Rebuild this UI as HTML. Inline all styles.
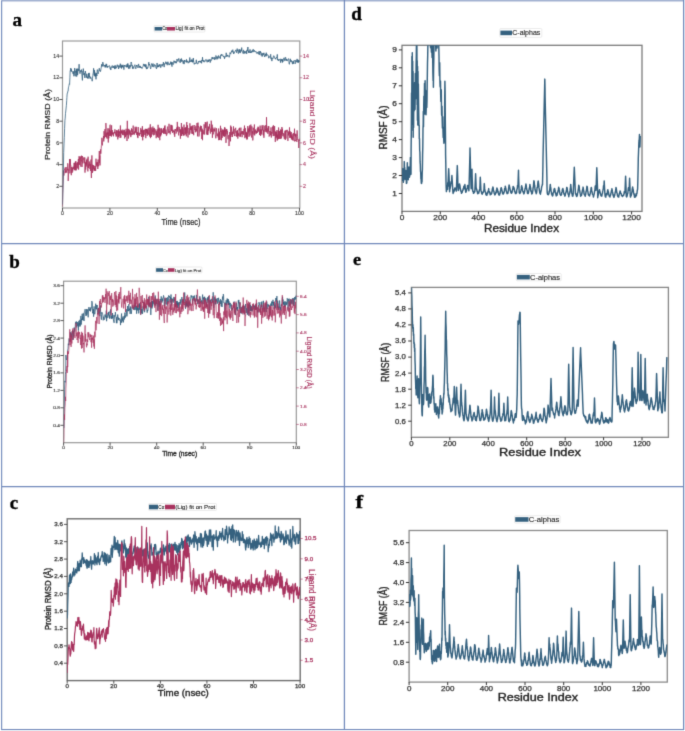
<!DOCTYPE html>
<html><head><meta charset="utf-8"><title>Figure</title>
<style>html,body{margin:0;padding:0;background:#fff;width:685px;height:731px;overflow:hidden}svg{display:block}</style>
</head><body><svg width="685" height="731" viewBox="0 0 685 731"><defs><filter id="bl" x="0" y="0" width="1" height="1" color-interpolation-filters="sRGB"><feConvolveMatrix order="3" kernelMatrix="1 6 1 6 36 6 1 6 1" divisor="64" edgeMode="duplicate"/></filter></defs><g filter="url(#bl)"><rect x="0" y="0" width="685" height="731" fill="#fff"/>
<g transform="translate(12.5 26) scale(1 1)">
<text x="0" y="0" font-size="19" text-anchor="start" fill="#000" font-weight="bold" font-family='"Liberation Serif", serif' stroke="#000" stroke-width="0.35">a</text>
</g>
<g transform="translate(9.2 267.8) scale(1 1)">
<text x="0" y="0" font-size="19" text-anchor="start" fill="#000" font-weight="bold" font-family='"Liberation Serif", serif' stroke="#000" stroke-width="0.35">b</text>
</g>
<g transform="translate(9.7 508.5) scale(1 1)">
<text x="0" y="0" font-size="19" text-anchor="start" fill="#000" font-weight="bold" font-family='"Liberation Serif", serif' stroke="#000" stroke-width="0.35">c</text>
</g>
<g transform="translate(351.3 19.9) scale(1 1)">
<text x="0" y="0" font-size="19" text-anchor="start" fill="#000" font-weight="bold" font-family='"Liberation Serif", serif' stroke="#000" stroke-width="0.35">d</text>
</g>
<g transform="translate(352.9 265.0) scale(1.05 1)">
<text x="0" y="0" font-size="17.3" text-anchor="start" fill="#000" font-weight="bold" font-family='"Liberation Serif", serif' stroke="#000" stroke-width="0.35">e</text>
</g>
<g transform="translate(355.6 508.2) scale(1.2 1)">
<text x="0" y="0" font-size="19" text-anchor="start" fill="#000" font-weight="bold" font-family='"Liberation Serif", serif' stroke="#000" stroke-width="0.35">f</text>
</g>
<clipPath id="ca"><rect x="62.5" y="41" width="237.3" height="167"/></clipPath>
<rect x="62.5" y="41" width="237.3" height="167" fill="none" stroke="#979797" stroke-width="1.15"/>
<path d="M62.5 206.5 L62.7 193.5 L63.0 184.8 L63.2 181.2 L63.4 170.7 L63.7 171.9 L63.9 175.5 L64.2 169.8 L64.4 170.0 L64.6 169.5 L64.9 169.9 L65.1 167.5 L65.3 173.1 L65.6 170.5 L65.8 171.8 L66.1 167.0 L66.3 169.4 L66.5 170.7 L66.8 172.8 L67.0 170.4 L67.2 169.2 L67.5 170.3 L67.7 163.3 L68.0 164.5 L68.2 180.9 L68.4 177.2 L68.7 169.5 L68.9 170.5 L69.1 167.6 L69.4 167.5 L69.6 159.0 L69.9 173.3 L70.1 169.9 L70.3 159.1 L70.6 165.2 L70.8 165.0 L71.0 170.2 L71.3 175.2 L71.5 167.0 L71.8 167.2 L72.0 173.0 L72.2 170.5 L72.5 167.7 L72.7 171.5 L72.9 167.7 L73.2 166.7 L73.4 166.9 L73.7 169.3 L73.9 164.3 L74.1 162.9 L74.4 165.3 L74.6 170.2 L74.8 163.0 L75.1 168.2 L75.3 161.8 L75.5 170.3 L75.8 161.1 L76.0 165.1 L76.3 170.3 L76.5 165.9 L76.7 164.0 L77.0 162.7 L77.2 168.1 L77.4 168.4 L77.7 162.3 L77.9 165.1 L78.2 161.6 L78.4 159.0 L78.6 169.6 L78.9 160.8 L79.1 156.2 L79.3 162.8 L79.6 164.8 L79.8 157.5 L80.1 159.5 L80.3 156.4 L80.5 161.7 L80.8 166.6 L81.0 160.2 L81.2 161.4 L81.5 155.7 L81.7 158.5 L82.0 167.0 L82.2 165.2 L82.4 156.1 L82.7 157.2 L82.9 163.4 L83.1 160.7 L83.4 158.9 L83.6 159.0 L83.9 157.4 L84.1 160.4 L84.3 162.2 L84.6 163.2 L84.8 157.5 L85.0 172.6 L85.3 163.3 L85.5 162.7 L85.7 169.6 L86.0 161.8 L86.2 166.5 L86.5 159.8 L86.7 164.4 L86.9 160.9 L87.2 158.6 L87.4 162.5 L87.6 168.4 L87.9 171.4 L88.1 156.7 L88.4 165.3 L88.6 168.1 L88.8 164.5 L89.1 166.1 L89.3 161.5 L89.5 165.4 L89.8 165.6 L90.0 169.1 L90.3 163.8 L90.5 170.9 L90.7 163.2 L91.0 159.5 L91.2 173.5 L91.4 178.0 L91.7 164.0 L91.9 155.4 L92.2 171.7 L92.4 173.0 L92.6 164.7 L92.9 171.4 L93.1 170.0 L93.3 169.4 L93.6 165.2 L93.8 169.2 L94.1 165.9 L94.3 167.8 L94.5 170.6 L94.8 168.0 L95.0 170.7 L95.2 166.1 L95.5 171.0 L95.7 170.7 L96.0 158.7 L96.2 165.5 L96.4 165.3 L96.7 162.4 L96.9 166.5 L97.1 165.4 L97.4 162.2 L97.6 162.6 L97.8 169.0 L98.1 159.5 L98.3 165.1 L98.6 166.3 L98.8 164.6 L99.0 161.3 L99.3 151.0 L99.5 162.9 L99.7 155.8 L100.0 165.4 L100.2 154.6 L100.5 149.4 L100.7 153.3 L100.9 153.7 L101.2 148.6 L101.4 145.4 L101.6 144.3 L101.9 137.8 L102.1 143.6 L102.4 145.4 L102.6 142.3 L102.8 140.8 L103.1 138.8 L103.3 138.0 L103.5 136.0 L103.8 141.4 L104.0 131.2 L104.3 136.2 L104.5 138.3 L104.7 131.6 L105.0 129.1 L105.2 132.0 L105.4 133.1 L105.7 137.0 L105.9 123.1 L106.2 130.2 L106.4 137.5 L106.6 136.1 L106.9 132.8 L107.1 138.7 L107.3 132.4 L107.6 134.6 L107.8 128.4 L108.0 129.2 L108.3 142.5 L108.5 132.4 L108.8 138.3 L109.0 128.4 L109.2 131.7 L109.5 130.2 L109.7 136.0 L109.9 125.4 L110.2 124.7 L110.4 135.9 L110.7 130.7 L110.9 134.5 L111.1 132.1 L111.4 136.6 L111.6 125.3 L111.8 135.6 L112.1 133.1 L112.3 130.2 L112.6 134.4 L112.8 132.9 L113.0 134.1 L113.3 132.5 L113.5 136.3 L113.7 133.6 L114.0 132.8 L114.2 133.3 L114.5 131.8 L114.7 133.1 L114.9 129.3 L115.2 133.2 L115.4 132.5 L115.6 134.5 L115.9 134.0 L116.1 136.6 L116.4 130.2 L116.6 136.2 L116.8 134.8 L117.1 130.7 L117.3 130.6 L117.5 133.5 L117.8 139.4 L118.0 130.5 L118.3 131.1 L118.5 137.2 L118.7 129.3 L119.0 134.6 L119.2 136.1 L119.4 131.7 L119.7 132.7 L119.9 131.3 L120.1 137.9 L120.4 125.5 L120.6 134.2 L120.9 137.6 L121.1 129.8 L121.3 133.3 L121.6 130.9 L121.8 133.3 L122.0 132.3 L122.3 131.2 L122.5 134.8 L122.8 129.6 L123.0 133.8 L123.2 135.2 L123.5 131.8 L123.7 130.4 L123.9 132.9 L124.2 135.2 L124.4 129.8 L124.7 138.4 L124.9 135.8 L125.1 131.9 L125.4 137.0 L125.6 131.9 L125.8 132.2 L126.1 128.8 L126.3 135.4 L126.6 134.3 L126.8 130.8 L127.0 141.0 L127.3 120.8 L127.5 134.6 L127.7 134.7 L128.0 128.9 L128.2 132.2 L128.5 138.5 L128.7 129.8 L128.9 128.9 L129.2 133.7 L129.4 133.1 L129.6 130.3 L129.9 135.3 L130.1 130.5 L130.3 131.3 L130.6 134.5 L130.8 137.1 L131.1 132.9 L131.3 135.2 L131.5 128.4 L131.8 131.5 L132.0 129.2 L132.2 131.6 L132.5 131.1 L132.7 134.9 L133.0 129.6 L133.2 125.6 L133.4 133.2 L133.7 134.2 L133.9 132.6 L134.1 133.8 L134.4 134.6 L134.6 131.5 L134.9 133.1 L135.1 126.8 L135.3 132.0 L135.6 130.9 L135.8 128.6 L136.0 133.1 L136.3 126.8 L136.5 134.3 L136.8 135.0 L137.0 133.4 L137.2 132.5 L137.5 137.1 L137.7 132.2 L137.9 138.1 L138.2 127.0 L138.4 132.3 L138.7 134.4 L138.9 135.3 L139.1 133.4 L139.4 132.9 L139.6 135.8 L139.8 135.4 L140.1 132.7 L140.3 133.9 L140.6 128.6 L140.8 127.9 L141.0 132.0 L141.3 130.3 L141.5 136.9 L141.7 129.7 L142.0 132.2 L142.2 130.3 L142.4 126.2 L142.7 140.3 L142.9 131.1 L143.2 136.0 L143.4 129.9 L143.6 136.8 L143.9 133.8 L144.1 131.3 L144.3 129.8 L144.6 131.8 L144.8 134.9 L145.1 134.1 L145.3 128.8 L145.5 132.1 L145.8 138.2 L146.0 129.0 L146.2 130.5 L146.5 128.9 L146.7 133.3 L147.0 129.0 L147.2 135.9 L147.4 130.0 L147.7 133.8 L147.9 129.6 L148.1 128.4 L148.4 134.7 L148.6 132.2 L148.9 131.9 L149.1 127.7 L149.3 129.5 L149.6 136.5 L149.8 130.4 L150.0 129.3 L150.3 124.3 L150.5 138.1 L150.8 134.0 L151.0 127.2 L151.2 137.0 L151.5 136.4 L151.7 130.2 L151.9 128.4 L152.2 134.5 L152.4 130.1 L152.7 131.6 L152.9 126.5 L153.1 132.1 L153.4 128.5 L153.6 135.3 L153.8 132.7 L154.1 132.4 L154.3 127.9 L154.5 129.9 L154.8 134.8 L155.0 129.6 L155.3 129.3 L155.5 132.5 L155.7 133.0 L156.0 132.8 L156.2 138.2 L156.4 131.4 L156.7 131.2 L156.9 135.2 L157.2 129.4 L157.4 137.0 L157.6 134.0 L157.9 133.7 L158.1 124.8 L158.3 137.8 L158.6 129.9 L158.8 128.6 L159.1 130.6 L159.3 127.7 L159.5 135.6 L159.8 140.2 L160.0 129.1 L160.2 136.3 L160.5 133.1 L160.7 136.2 L161.0 128.1 L161.2 128.7 L161.4 134.5 L161.7 128.6 L161.9 131.4 L162.1 132.3 L162.4 131.6 L162.6 132.5 L162.9 129.6 L163.1 130.7 L163.3 133.0 L163.6 128.1 L163.8 134.0 L164.0 130.7 L164.3 130.2 L164.5 126.4 L164.7 133.5 L165.0 125.4 L165.2 131.0 L165.5 132.4 L165.7 134.1 L165.9 129.5 L166.2 131.5 L166.4 135.6 L166.6 135.7 L166.9 133.6 L167.1 134.1 L167.4 127.6 L167.6 126.6 L167.8 128.4 L168.1 130.3 L168.3 133.1 L168.5 131.3 L168.8 128.3 L169.0 123.8 L169.3 128.2 L169.5 132.5 L169.7 131.3 L170.0 133.2 L170.2 134.3 L170.4 132.1 L170.7 130.7 L170.9 124.8 L171.2 131.2 L171.4 126.5 L171.6 125.0 L171.9 131.1 L172.1 125.5 L172.3 128.8 L172.6 132.9 L172.8 130.4 L173.1 131.2 L173.3 132.2 L173.5 132.0 L173.8 130.8 L174.0 129.7 L174.2 134.5 L174.5 131.3 L174.7 136.8 L175.0 130.3 L175.2 129.0 L175.4 130.6 L175.7 130.2 L175.9 129.1 L176.1 133.6 L176.4 132.0 L176.6 129.3 L176.8 127.5 L177.1 129.7 L177.3 121.9 L177.6 131.5 L177.8 127.5 L178.0 126.5 L178.3 131.6 L178.5 134.1 L178.7 135.4 L179.0 130.5 L179.2 127.0 L179.5 130.0 L179.7 130.4 L179.9 132.4 L180.2 129.0 L180.4 138.7 L180.6 130.1 L180.9 130.9 L181.1 135.9 L181.4 123.0 L181.6 135.9 L181.8 134.8 L182.1 135.2 L182.3 126.8 L182.5 134.0 L182.8 128.4 L183.0 128.6 L183.3 129.8 L183.5 135.5 L183.7 132.9 L184.0 124.6 L184.2 135.4 L184.4 133.7 L184.7 131.2 L184.9 127.7 L185.2 129.7 L185.4 127.9 L185.6 134.4 L185.9 127.1 L186.1 128.4 L186.3 136.3 L186.6 124.9 L186.8 122.1 L187.0 133.2 L187.3 130.2 L187.5 125.3 L187.8 135.7 L188.0 137.5 L188.2 135.0 L188.5 132.3 L188.7 132.4 L188.9 128.0 L189.2 129.2 L189.4 134.7 L189.7 128.1 L189.9 123.3 L190.1 125.8 L190.4 126.5 L190.6 130.0 L190.8 126.5 L191.1 133.5 L191.3 127.3 L191.6 130.3 L191.8 125.9 L192.0 128.3 L192.3 133.9 L192.5 129.4 L192.7 125.5 L193.0 134.0 L193.2 131.9 L193.5 132.6 L193.7 135.2 L193.9 126.3 L194.2 125.0 L194.4 126.8 L194.6 128.8 L194.9 129.9 L195.1 128.8 L195.4 132.3 L195.6 126.4 L195.8 125.8 L196.1 126.2 L196.3 131.5 L196.5 129.3 L196.8 130.1 L197.0 123.0 L197.3 128.8 L197.5 136.3 L197.7 128.0 L198.0 122.6 L198.2 126.9 L198.4 126.2 L198.7 129.2 L198.9 136.5 L199.1 135.9 L199.4 133.8 L199.6 129.7 L199.9 128.1 L200.1 126.7 L200.3 130.4 L200.6 125.7 L200.8 130.2 L201.0 131.7 L201.3 126.0 L201.5 132.4 L201.8 139.0 L202.0 132.9 L202.2 128.7 L202.5 140.2 L202.7 130.3 L202.9 130.2 L203.2 134.1 L203.4 134.3 L203.7 130.6 L203.9 130.9 L204.1 124.3 L204.4 127.5 L204.6 134.5 L204.8 131.9 L205.1 126.3 L205.3 122.1 L205.6 127.6 L205.8 128.0 L206.0 122.4 L206.3 129.3 L206.5 130.4 L206.7 134.5 L207.0 131.3 L207.2 121.6 L207.5 134.7 L207.7 129.6 L207.9 134.8 L208.2 129.3 L208.4 126.6 L208.6 130.8 L208.9 127.3 L209.1 127.4 L209.3 128.4 L209.6 123.9 L209.8 127.4 L210.1 131.4 L210.3 132.8 L210.5 133.5 L210.8 128.7 L211.0 131.7 L211.2 120.7 L211.5 124.0 L211.7 131.5 L212.0 132.0 L212.2 124.7 L212.4 137.8 L212.7 132.6 L212.9 127.6 L213.1 134.4 L213.4 132.9 L213.6 132.5 L213.9 128.9 L214.1 130.9 L214.3 130.0 L214.6 129.3 L214.8 131.5 L215.0 127.6 L215.3 134.3 L215.5 137.0 L215.8 138.3 L216.0 137.8 L216.2 134.0 L216.5 128.3 L216.7 131.4 L216.9 134.3 L217.2 136.0 L217.4 134.0 L217.7 133.6 L217.9 134.2 L218.1 137.4 L218.4 133.9 L218.6 128.5 L218.8 140.2 L219.1 133.2 L219.3 140.0 L219.6 131.7 L219.8 135.1 L220.0 139.9 L220.3 132.0 L220.5 125.8 L220.7 132.0 L221.0 128.2 L221.2 132.7 L221.4 140.3 L221.7 130.7 L221.9 134.1 L222.2 137.9 L222.4 129.7 L222.6 131.6 L222.9 134.5 L223.1 129.5 L223.3 135.8 L223.6 130.4 L223.8 136.1 L224.1 130.8 L224.3 136.8 L224.5 127.4 L224.8 131.9 L225.0 127.6 L225.2 135.8 L225.5 134.6 L225.7 129.8 L226.0 142.9 L226.2 136.8 L226.4 129.2 L226.7 131.3 L226.9 129.4 L227.1 134.1 L227.4 131.0 L227.6 135.7 L227.9 138.1 L228.1 139.3 L228.3 135.1 L228.6 135.1 L228.8 135.4 L229.0 146.0 L229.3 140.3 L229.5 135.0 L229.8 132.0 L230.0 135.1 L230.2 136.2 L230.5 141.3 L230.7 125.6 L230.9 136.9 L231.2 126.8 L231.4 127.2 L231.7 131.8 L231.9 134.9 L232.1 132.3 L232.4 137.0 L232.6 131.8 L232.8 132.7 L233.1 130.8 L233.3 129.2 L233.5 126.4 L233.8 134.1 L234.0 128.8 L234.3 135.5 L234.5 135.8 L234.7 134.8 L235.0 136.1 L235.2 129.0 L235.4 129.1 L235.7 127.8 L235.9 132.5 L236.2 131.4 L236.4 134.5 L236.6 136.6 L236.9 130.7 L237.1 131.4 L237.3 136.3 L237.6 130.2 L237.8 138.6 L238.1 132.9 L238.3 134.5 L238.5 134.1 L238.8 136.1 L239.0 128.7 L239.2 130.1 L239.5 127.8 L239.7 131.6 L240.0 136.8 L240.2 133.4 L240.4 136.4 L240.7 130.4 L240.9 127.6 L241.1 130.8 L241.4 134.2 L241.6 133.3 L241.9 131.2 L242.1 137.2 L242.3 131.4 L242.6 131.2 L242.8 133.9 L243.0 133.4 L243.3 131.2 L243.5 134.8 L243.7 134.8 L244.0 128.9 L244.2 130.9 L244.5 125.6 L244.7 135.3 L244.9 138.2 L245.2 128.3 L245.4 128.2 L245.6 134.3 L245.9 137.0 L246.1 131.8 L246.4 137.9 L246.6 132.8 L246.8 139.5 L247.1 132.4 L247.3 139.2 L247.5 132.4 L247.8 126.0 L248.0 132.4 L248.3 128.6 L248.5 133.8 L248.7 134.6 L249.0 136.8 L249.2 127.6 L249.4 131.6 L249.7 125.4 L249.9 135.6 L250.2 132.1 L250.4 131.0 L250.6 126.1 L250.9 124.6 L251.1 133.6 L251.3 135.3 L251.6 137.5 L251.8 126.3 L252.1 131.5 L252.3 133.5 L252.5 131.3 L252.8 140.4 L253.0 137.3 L253.2 127.7 L253.5 129.6 L253.7 130.5 L254.0 134.6 L254.2 128.8 L254.4 124.5 L254.7 135.4 L254.9 130.8 L255.1 132.5 L255.4 129.5 L255.6 130.8 L255.8 131.4 L256.1 134.0 L256.3 130.8 L256.6 133.0 L256.8 131.3 L257.0 130.9 L257.3 128.3 L257.5 132.8 L257.7 131.8 L258.0 126.7 L258.2 131.4 L258.5 131.5 L258.7 127.4 L258.9 129.5 L259.2 130.2 L259.4 129.7 L259.6 135.0 L259.9 128.8 L260.1 125.6 L260.4 128.3 L260.6 136.0 L260.8 129.3 L261.1 133.6 L261.3 131.1 L261.5 129.8 L261.8 134.6 L262.0 125.4 L262.3 130.4 L262.5 127.3 L262.7 127.8 L263.0 125.2 L263.2 125.8 L263.4 135.4 L263.7 129.9 L263.9 137.8 L264.2 131.7 L264.4 127.6 L264.6 126.9 L264.9 125.7 L265.1 131.8 L265.3 129.4 L265.6 130.2 L265.8 126.1 L266.0 125.0 L266.3 132.2 L266.5 117.2 L266.8 131.0 L267.0 132.4 L267.2 129.0 L267.5 128.5 L267.7 129.4 L267.9 133.8 L268.2 126.2 L268.4 131.4 L268.7 126.1 L268.9 126.7 L269.1 136.5 L269.4 135.5 L269.6 135.7 L269.8 131.2 L270.1 132.0 L270.3 131.3 L270.6 135.3 L270.8 130.9 L271.0 127.4 L271.3 137.5 L271.5 133.4 L271.7 131.9 L272.0 133.4 L272.2 133.7 L272.5 126.6 L272.7 128.5 L272.9 130.1 L273.2 136.1 L273.4 125.3 L273.6 132.2 L273.9 135.7 L274.1 134.9 L274.4 135.5 L274.6 126.1 L274.8 133.2 L275.1 133.8 L275.3 141.9 L275.5 131.5 L275.8 138.1 L276.0 138.3 L276.3 132.0 L276.5 137.3 L276.7 131.1 L277.0 130.1 L277.2 140.6 L277.4 134.6 L277.7 139.8 L277.9 134.3 L278.1 130.7 L278.4 139.0 L278.6 127.5 L278.9 135.1 L279.1 138.3 L279.3 134.4 L279.6 131.1 L279.8 138.9 L280.0 133.9 L280.3 138.9 L280.5 129.5 L280.8 133.3 L281.0 135.4 L281.2 130.0 L281.5 138.4 L281.7 135.2 L281.9 127.0 L282.2 134.2 L282.4 128.8 L282.7 133.0 L282.9 136.2 L283.1 134.5 L283.4 133.3 L283.6 135.1 L283.8 136.6 L284.1 136.4 L284.3 138.9 L284.6 133.1 L284.8 132.0 L285.0 130.7 L285.3 140.0 L285.5 130.5 L285.7 133.5 L286.0 138.6 L286.2 133.0 L286.5 130.4 L286.7 131.4 L286.9 130.6 L287.2 129.8 L287.4 130.0 L287.6 133.3 L287.9 140.9 L288.1 136.2 L288.3 132.3 L288.6 135.4 L288.8 131.4 L289.1 131.1 L289.3 133.9 L289.5 127.4 L289.8 137.9 L290.0 131.1 L290.2 136.4 L290.5 137.6 L290.7 132.8 L291.0 137.3 L291.2 132.0 L291.4 139.5 L291.7 135.3 L291.9 138.6 L292.1 136.5 L292.4 137.2 L292.6 140.0 L292.9 133.7 L293.1 140.7 L293.3 139.9 L293.6 133.2 L293.8 133.1 L294.0 134.3 L294.3 135.6 L294.5 128.7 L294.8 141.5 L295.0 139.9 L295.2 141.0 L295.5 134.2 L295.7 136.6 L295.9 133.7 L296.2 134.4 L296.4 138.8 L296.7 141.1 L296.9 141.9 L297.1 130.4 L297.4 135.0 L297.6 136.5 L297.8 140.0 L298.1 139.6 L298.3 140.3 L298.6 140.4 L298.8 148.0 L299.0 139.7 L299.3 141.0 L299.5 138.6" fill="none" stroke="#a8325e" stroke-width="0.8" stroke-linejoin="round" clip-path="url(#ca)"/>
<path d="M62.5 204.5 L62.8 192.5 L63.1 179.8 L63.4 169.3 L63.7 152.6 L64.0 143.9 L64.3 137.3 L64.6 128.3 L64.9 120.5 L65.2 118.2 L65.5 113.3 L65.8 111.0 L66.1 108.0 L66.4 105.3 L66.7 100.6 L66.9 97.5 L67.2 93.3 L67.5 93.3 L67.8 91.3 L68.1 91.2 L68.4 87.8 L68.7 86.7 L69.0 85.3 L69.3 83.8 L69.6 84.3 L69.9 77.7 L70.2 70.5 L70.5 70.7 L70.8 68.0 L71.1 71.3 L71.4 69.3 L71.7 71.7 L72.0 71.3 L72.3 71.3 L72.6 72.7 L72.9 72.9 L73.2 74.1 L73.5 71.4 L73.8 76.2 L74.1 75.6 L74.4 73.3 L74.7 68.1 L75.0 73.8 L75.3 76.3 L75.6 75.5 L75.8 70.8 L76.1 72.7 L76.4 68.8 L76.7 76.6 L77.0 70.4 L77.3 68.7 L77.6 75.1 L77.9 72.6 L78.2 68.7 L78.5 70.7 L78.8 68.7 L79.1 64.2 L79.4 68.7 L79.7 71.6 L80.0 73.7 L80.3 70.4 L80.6 71.7 L80.9 72.0 L81.2 71.8 L81.5 69.6 L81.8 74.0 L82.1 76.8 L82.4 80.4 L82.7 71.5 L83.0 72.2 L83.3 68.6 L83.6 71.9 L83.9 75.1 L84.2 72.9 L84.4 74.0 L84.7 77.7 L85.0 78.0 L85.3 71.0 L85.6 73.0 L85.9 73.6 L86.2 75.9 L86.5 77.6 L86.8 73.9 L87.1 75.6 L87.4 77.9 L87.7 76.9 L88.0 78.8 L88.3 76.4 L88.6 73.2 L88.9 77.6 L89.2 72.9 L89.5 77.1 L89.8 76.3 L90.1 78.7 L90.4 77.8 L90.7 76.9 L91.0 77.9 L91.3 78.8 L91.6 78.9 L91.9 79.2 L92.2 81.2 L92.5 78.2 L92.8 75.5 L93.1 73.2 L93.3 73.1 L93.6 68.3 L93.9 72.3 L94.2 75.5 L94.5 70.2 L94.8 76.2 L95.1 72.7 L95.4 76.5 L95.7 74.1 L96.0 79.3 L96.3 73.1 L96.6 73.9 L96.9 76.0 L97.2 69.6 L97.5 69.8 L97.8 71.6 L98.1 73.9 L98.4 72.4 L98.7 71.9 L99.0 69.3 L99.3 68.2 L99.6 70.7 L99.9 70.8 L100.2 70.5 L100.5 71.6 L100.8 70.0 L101.1 68.3 L101.4 66.1 L101.7 64.2 L102.0 66.7 L102.2 65.0 L102.5 65.6 L102.8 62.1 L103.1 64.2 L103.4 64.1 L103.7 66.1 L104.0 66.5 L104.3 65.4 L104.6 65.9 L104.9 65.1 L105.2 67.5 L105.5 65.3 L105.8 66.8 L106.1 63.8 L106.4 65.7 L106.7 64.4 L107.0 67.5 L107.3 66.0 L107.6 67.4 L107.9 67.3 L108.2 66.7 L108.5 67.0 L108.8 66.4 L109.1 65.6 L109.4 65.6 L109.7 66.6 L110.0 68.7 L110.3 68.5 L110.6 67.7 L110.8 70.0 L111.1 66.8 L111.4 67.2 L111.7 67.3 L112.0 65.7 L112.3 65.6 L112.6 66.2 L112.9 68.0 L113.2 66.7 L113.5 66.3 L113.8 67.8 L114.1 65.7 L114.4 65.7 L114.7 69.1 L115.0 67.3 L115.3 68.6 L115.6 65.7 L115.9 65.3 L116.2 67.7 L116.5 68.2 L116.8 67.0 L117.1 67.0 L117.4 64.7 L117.7 65.0 L118.0 66.5 L118.3 65.8 L118.6 69.0 L118.9 66.9 L119.2 65.5 L119.5 66.4 L119.7 67.4 L120.0 66.0 L120.3 63.7 L120.6 65.3 L120.9 67.6 L121.2 64.8 L121.5 68.5 L121.8 66.3 L122.1 67.2 L122.4 65.4 L122.7 67.2 L123.0 64.8 L123.3 65.5 L123.6 68.4 L123.9 69.6 L124.2 67.7 L124.5 65.0 L124.8 65.7 L125.1 66.0 L125.4 66.5 L125.7 65.3 L126.0 65.4 L126.3 65.6 L126.6 67.3 L126.9 64.9 L127.2 64.0 L127.5 67.2 L127.8 63.4 L128.1 64.3 L128.3 66.2 L128.6 68.7 L128.9 66.0 L129.2 65.3 L129.5 66.6 L129.8 68.6 L130.1 65.3 L130.4 66.6 L130.7 66.8 L131.0 62.4 L131.3 62.0 L131.6 63.5 L131.9 65.8 L132.2 65.0 L132.5 68.7 L132.8 66.6 L133.1 67.1 L133.4 68.0 L133.7 68.6 L134.0 66.0 L134.3 65.8 L134.6 65.6 L134.9 64.7 L135.2 66.6 L135.5 67.8 L135.8 68.8 L136.1 67.2 L136.4 65.2 L136.7 65.9 L137.0 65.0 L137.2 67.2 L137.5 66.9 L137.8 67.2 L138.1 67.9 L138.4 64.0 L138.7 64.2 L139.0 66.4 L139.3 67.0 L139.6 66.3 L139.9 67.9 L140.2 65.9 L140.5 67.6 L140.8 66.9 L141.1 67.5 L141.4 67.0 L141.7 68.0 L142.0 68.6 L142.3 68.0 L142.6 67.4 L142.9 66.7 L143.2 66.0 L143.5 63.9 L143.8 64.2 L144.1 65.7 L144.4 64.8 L144.7 66.5 L145.0 64.1 L145.3 64.6 L145.6 67.3 L145.9 65.3 L146.1 64.6 L146.4 69.1 L146.7 67.8 L147.0 67.1 L147.3 68.8 L147.6 68.2 L147.9 67.8 L148.2 65.8 L148.5 65.4 L148.8 62.2 L149.1 65.3 L149.4 64.1 L149.7 65.2 L150.0 65.3 L150.3 67.3 L150.6 68.9 L150.9 67.8 L151.2 65.4 L151.5 63.6 L151.8 64.4 L152.1 64.7 L152.4 66.7 L152.7 64.0 L153.0 63.5 L153.3 65.9 L153.6 65.9 L153.9 67.2 L154.2 64.3 L154.5 64.8 L154.7 65.7 L155.0 65.3 L155.3 65.1 L155.6 66.2 L155.9 67.6 L156.2 68.1 L156.5 68.9 L156.8 66.1 L157.1 63.0 L157.4 67.3 L157.7 66.0 L158.0 65.3 L158.3 66.9 L158.6 65.7 L158.9 67.1 L159.2 64.4 L159.5 65.9 L159.8 65.4 L160.1 64.4 L160.4 65.6 L160.7 67.7 L161.0 66.7 L161.3 64.6 L161.6 65.0 L161.9 64.7 L162.2 66.3 L162.5 65.1 L162.8 64.0 L163.1 64.5 L163.4 62.1 L163.6 64.2 L163.9 65.9 L164.2 67.1 L164.5 63.8 L164.8 64.3 L165.1 63.0 L165.4 63.3 L165.7 61.8 L166.0 61.8 L166.3 64.0 L166.6 63.7 L166.9 62.5 L167.2 65.2 L167.5 62.4 L167.8 61.8 L168.1 61.9 L168.4 63.5 L168.7 63.3 L169.0 65.1 L169.3 64.0 L169.6 64.5 L169.9 63.6 L170.2 64.1 L170.5 63.2 L170.8 61.6 L171.1 64.4 L171.4 62.2 L171.7 65.4 L172.0 66.6 L172.2 64.1 L172.5 63.1 L172.8 62.2 L173.1 64.7 L173.4 63.2 L173.7 62.5 L174.0 60.7 L174.3 61.9 L174.6 61.4 L174.9 63.2 L175.2 62.6 L175.5 62.7 L175.8 61.2 L176.1 62.9 L176.4 63.2 L176.7 61.3 L177.0 59.0 L177.3 60.2 L177.6 60.6 L177.9 61.5 L178.2 59.8 L178.5 60.0 L178.8 58.4 L179.1 59.7 L179.4 61.8 L179.7 61.8 L180.0 62.4 L180.3 62.8 L180.6 59.5 L180.9 59.1 L181.1 61.7 L181.4 58.5 L181.7 59.6 L182.0 61.5 L182.3 60.3 L182.6 60.6 L182.9 61.7 L183.2 63.6 L183.5 61.5 L183.8 60.6 L184.1 64.1 L184.4 61.0 L184.7 60.0 L185.0 61.2 L185.3 60.8 L185.6 61.2 L185.9 62.1 L186.2 61.8 L186.5 59.4 L186.8 62.5 L187.1 61.1 L187.4 60.8 L187.7 61.9 L188.0 61.9 L188.3 63.2 L188.6 62.9 L188.9 61.7 L189.2 60.9 L189.5 62.3 L189.8 57.5 L190.0 60.9 L190.3 61.0 L190.6 61.5 L190.9 62.0 L191.2 59.8 L191.5 61.6 L191.8 59.7 L192.1 59.4 L192.4 62.3 L192.7 60.4 L193.0 62.1 L193.3 58.0 L193.6 61.0 L193.9 62.6 L194.2 64.4 L194.5 64.1 L194.8 63.1 L195.1 63.3 L195.4 63.7 L195.7 63.1 L196.0 62.3 L196.3 59.8 L196.6 63.3 L196.9 62.8 L197.2 63.2 L197.5 64.1 L197.8 64.0 L198.1 63.5 L198.4 61.1 L198.6 61.7 L198.9 62.3 L199.2 60.9 L199.5 61.0 L199.8 61.7 L200.1 61.0 L200.4 62.5 L200.7 61.0 L201.0 60.7 L201.3 61.8 L201.6 63.3 L201.9 60.0 L202.2 60.9 L202.5 57.2 L202.8 61.1 L203.1 60.3 L203.4 61.7 L203.7 61.2 L204.0 60.3 L204.3 62.2 L204.6 61.9 L204.9 61.3 L205.2 61.2 L205.5 60.4 L205.8 59.5 L206.1 59.4 L206.4 60.1 L206.7 61.0 L207.0 62.3 L207.3 62.1 L207.5 61.6 L207.8 59.8 L208.1 60.6 L208.4 61.9 L208.7 59.7 L209.0 60.9 L209.3 61.2 L209.6 60.4 L209.9 59.2 L210.2 62.6 L210.5 61.8 L210.8 59.8 L211.1 59.8 L211.4 60.4 L211.7 60.1 L212.0 57.3 L212.3 58.9 L212.6 57.7 L212.9 57.2 L213.2 58.6 L213.5 57.8 L213.8 58.6 L214.1 59.0 L214.4 59.8 L214.7 57.2 L215.0 58.1 L215.3 58.5 L215.6 59.3 L215.9 55.5 L216.1 55.8 L216.4 56.9 L216.7 58.0 L217.0 59.4 L217.3 57.3 L217.6 56.7 L217.9 58.7 L218.2 55.9 L218.5 55.5 L218.8 57.7 L219.1 57.7 L219.4 57.5 L219.7 56.7 L220.0 56.8 L220.3 58.8 L220.6 55.1 L220.9 55.6 L221.2 54.4 L221.5 54.0 L221.8 55.8 L222.1 55.6 L222.4 55.0 L222.7 54.7 L223.0 55.8 L223.3 56.7 L223.6 56.1 L223.9 57.0 L224.2 56.9 L224.5 58.8 L224.8 56.5 L225.0 57.3 L225.3 56.8 L225.6 56.0 L225.9 55.2 L226.2 52.8 L226.5 54.3 L226.8 56.9 L227.1 55.5 L227.4 56.1 L227.7 54.9 L228.0 55.9 L228.3 56.2 L228.6 55.9 L228.9 55.9 L229.2 57.3 L229.5 56.1 L229.8 54.7 L230.1 52.5 L230.4 53.8 L230.7 54.1 L231.0 52.8 L231.3 52.3 L231.6 50.7 L231.9 51.4 L232.2 52.3 L232.5 50.6 L232.8 49.7 L233.1 52.0 L233.4 51.7 L233.7 54.0 L233.9 52.8 L234.2 53.0 L234.5 52.0 L234.8 52.0 L235.1 51.4 L235.4 51.0 L235.7 50.1 L236.0 50.2 L236.3 51.4 L236.6 52.7 L236.9 49.7 L237.2 48.6 L237.5 50.8 L237.8 50.1 L238.1 52.7 L238.4 53.6 L238.7 52.1 L239.0 49.4 L239.3 51.9 L239.6 52.4 L239.9 49.3 L240.2 53.1 L240.5 50.9 L240.8 50.4 L241.1 51.2 L241.4 51.0 L241.7 47.6 L242.0 51.7 L242.3 51.8 L242.5 51.8 L242.8 52.4 L243.1 53.5 L243.4 49.9 L243.7 50.7 L244.0 53.6 L244.3 53.1 L244.6 51.4 L244.9 51.0 L245.2 53.3 L245.5 52.2 L245.8 51.5 L246.1 51.1 L246.4 51.0 L246.7 53.9 L247.0 49.9 L247.3 50.9 L247.6 49.0 L247.9 47.0 L248.2 50.4 L248.5 52.8 L248.8 50.7 L249.1 51.4 L249.4 51.9 L249.7 52.8 L250.0 49.4 L250.3 51.2 L250.6 52.9 L250.9 52.1 L251.2 52.8 L251.4 51.2 L251.7 51.4 L252.0 52.3 L252.3 50.4 L252.6 51.6 L252.9 50.2 L253.2 49.2 L253.5 51.1 L253.8 52.1 L254.1 51.4 L254.4 50.3 L254.7 51.3 L255.0 51.4 L255.3 51.8 L255.6 51.5 L255.9 51.1 L256.2 52.8 L256.5 53.1 L256.8 52.6 L257.1 53.5 L257.4 52.7 L257.7 52.0 L258.0 52.6 L258.3 53.7 L258.6 54.3 L258.9 51.2 L259.2 51.5 L259.5 54.3 L259.8 54.9 L260.0 51.5 L260.3 51.0 L260.6 52.8 L260.9 52.1 L261.2 55.5 L261.5 54.6 L261.8 53.4 L262.1 56.6 L262.4 56.2 L262.7 54.0 L263.0 53.0 L263.3 55.1 L263.6 54.6 L263.9 52.8 L264.2 54.9 L264.5 56.9 L264.8 55.9 L265.1 56.0 L265.4 53.9 L265.7 54.8 L266.0 56.4 L266.3 52.7 L266.6 55.5 L266.9 55.1 L267.2 54.8 L267.5 54.6 L267.8 55.4 L268.1 55.2 L268.4 56.0 L268.7 58.2 L268.9 57.2 L269.2 57.0 L269.5 56.9 L269.8 56.6 L270.1 57.5 L270.4 55.3 L270.7 54.3 L271.0 59.1 L271.3 57.7 L271.6 58.3 L271.9 61.1 L272.2 57.9 L272.5 58.4 L272.8 58.3 L273.1 58.6 L273.4 56.5 L273.7 55.7 L274.0 56.8 L274.3 56.6 L274.6 57.7 L274.9 57.8 L275.2 59.0 L275.5 58.4 L275.8 59.3 L276.1 58.1 L276.4 57.2 L276.7 57.7 L277.0 56.7 L277.3 54.4 L277.6 60.2 L277.8 59.1 L278.1 59.6 L278.4 59.6 L278.7 60.9 L279.0 59.4 L279.3 59.4 L279.6 60.0 L279.9 59.7 L280.2 60.1 L280.5 62.6 L280.8 58.8 L281.1 59.5 L281.4 60.7 L281.7 59.3 L282.0 60.3 L282.3 62.6 L282.6 59.3 L282.9 61.8 L283.2 60.6 L283.5 59.8 L283.8 58.0 L284.1 57.7 L284.4 59.0 L284.7 60.7 L285.0 60.7 L285.3 58.8 L285.6 57.3 L285.9 58.5 L286.2 60.6 L286.4 59.0 L286.7 60.4 L287.0 60.9 L287.3 60.9 L287.6 59.8 L287.9 60.0 L288.2 59.2 L288.5 58.6 L288.8 59.6 L289.1 63.8 L289.4 64.3 L289.7 62.1 L290.0 61.8 L290.3 58.8 L290.6 61.0 L290.9 61.9 L291.2 60.8 L291.5 60.4 L291.8 62.1 L292.1 61.8 L292.4 63.9 L292.7 64.1 L293.0 61.2 L293.3 63.8 L293.6 61.3 L293.9 60.8 L294.2 60.4 L294.5 60.0 L294.8 60.3 L295.1 63.9 L295.3 63.4 L295.6 62.6 L295.9 60.2 L296.2 62.1 L296.5 62.0 L296.8 61.5 L297.1 58.9 L297.4 61.8 L297.7 62.4 L298.0 59.9 L298.3 62.7 L298.6 60.2 L298.9 60.4 L299.2 61.8 L299.5 60.6" fill="none" stroke="#35617f" stroke-width="0.8" stroke-linejoin="round" clip-path="url(#ca)"/>
<line x1="59.3" y1="186.3" x2="62.5" y2="186.3" stroke="#444" stroke-width="0.9"/>
<text x="59.2" y="187.95600000000002" font-size="4.6" text-anchor="end" fill="#333" font-weight="normal" font-family='"Liberation Sans", sans-serif' textLength="2.93" lengthAdjust="spacingAndGlyphs" stroke="#333" stroke-width="0.1">2</text>
<line x1="59.3" y1="164.6" x2="62.5" y2="164.6" stroke="#444" stroke-width="0.9"/>
<text x="59.2" y="166.256" font-size="4.6" text-anchor="end" fill="#333" font-weight="normal" font-family='"Liberation Sans", sans-serif' textLength="2.93" lengthAdjust="spacingAndGlyphs" stroke="#333" stroke-width="0.1">4</text>
<line x1="59.3" y1="142.9" x2="62.5" y2="142.9" stroke="#444" stroke-width="0.9"/>
<text x="59.2" y="144.556" font-size="4.6" text-anchor="end" fill="#333" font-weight="normal" font-family='"Liberation Sans", sans-serif' textLength="2.93" lengthAdjust="spacingAndGlyphs" stroke="#333" stroke-width="0.1">6</text>
<line x1="59.3" y1="121.2" x2="62.5" y2="121.2" stroke="#444" stroke-width="0.9"/>
<text x="59.2" y="122.85600000000001" font-size="4.6" text-anchor="end" fill="#333" font-weight="normal" font-family='"Liberation Sans", sans-serif' textLength="2.93" lengthAdjust="spacingAndGlyphs" stroke="#333" stroke-width="0.1">8</text>
<line x1="59.3" y1="99.5" x2="62.5" y2="99.5" stroke="#444" stroke-width="0.9"/>
<text x="59.2" y="101.156" font-size="4.6" text-anchor="end" fill="#333" font-weight="normal" font-family='"Liberation Sans", sans-serif' textLength="5.85" lengthAdjust="spacingAndGlyphs" stroke="#333" stroke-width="0.1">10</text>
<line x1="59.3" y1="77.8" x2="62.5" y2="77.8" stroke="#444" stroke-width="0.9"/>
<text x="59.2" y="79.45600000000002" font-size="4.6" text-anchor="end" fill="#333" font-weight="normal" font-family='"Liberation Sans", sans-serif' textLength="5.85" lengthAdjust="spacingAndGlyphs" stroke="#333" stroke-width="0.1">12</text>
<line x1="59.3" y1="56.1" x2="62.5" y2="56.1" stroke="#444" stroke-width="0.9"/>
<text x="59.2" y="57.75599999999999" font-size="4.6" text-anchor="end" fill="#333" font-weight="normal" font-family='"Liberation Sans", sans-serif' textLength="5.85" lengthAdjust="spacingAndGlyphs" stroke="#333" stroke-width="0.1">14</text>
<line x1="299.8" y1="186.3" x2="302.3" y2="186.3" stroke="#a8325e" stroke-width="0.6"/>
<text x="303.1" y="187.95600000000002" font-size="4.6" text-anchor="start" fill="#a8325e" font-weight="normal" font-family='"Liberation Sans", sans-serif' textLength="2.93" lengthAdjust="spacingAndGlyphs" stroke="#a8325e" stroke-width="0.1">2</text>
<line x1="299.8" y1="164.6" x2="302.3" y2="164.6" stroke="#a8325e" stroke-width="0.6"/>
<text x="303.1" y="166.256" font-size="4.6" text-anchor="start" fill="#a8325e" font-weight="normal" font-family='"Liberation Sans", sans-serif' textLength="2.93" lengthAdjust="spacingAndGlyphs" stroke="#a8325e" stroke-width="0.1">4</text>
<line x1="299.8" y1="142.9" x2="302.3" y2="142.9" stroke="#a8325e" stroke-width="0.6"/>
<text x="303.1" y="144.556" font-size="4.6" text-anchor="start" fill="#a8325e" font-weight="normal" font-family='"Liberation Sans", sans-serif' textLength="2.93" lengthAdjust="spacingAndGlyphs" stroke="#a8325e" stroke-width="0.1">6</text>
<line x1="299.8" y1="121.2" x2="302.3" y2="121.2" stroke="#a8325e" stroke-width="0.6"/>
<text x="303.1" y="122.85600000000001" font-size="4.6" text-anchor="start" fill="#a8325e" font-weight="normal" font-family='"Liberation Sans", sans-serif' textLength="2.93" lengthAdjust="spacingAndGlyphs" stroke="#a8325e" stroke-width="0.1">8</text>
<line x1="299.8" y1="99.5" x2="302.3" y2="99.5" stroke="#a8325e" stroke-width="0.6"/>
<text x="303.1" y="101.156" font-size="4.6" text-anchor="start" fill="#a8325e" font-weight="normal" font-family='"Liberation Sans", sans-serif' textLength="5.85" lengthAdjust="spacingAndGlyphs" stroke="#a8325e" stroke-width="0.1">10</text>
<line x1="299.8" y1="77.8" x2="302.3" y2="77.8" stroke="#a8325e" stroke-width="0.6"/>
<text x="303.1" y="79.45600000000002" font-size="4.6" text-anchor="start" fill="#a8325e" font-weight="normal" font-family='"Liberation Sans", sans-serif' textLength="5.85" lengthAdjust="spacingAndGlyphs" stroke="#a8325e" stroke-width="0.1">12</text>
<line x1="299.8" y1="56.1" x2="302.3" y2="56.1" stroke="#a8325e" stroke-width="0.6"/>
<text x="303.1" y="57.75599999999999" font-size="4.6" text-anchor="start" fill="#a8325e" font-weight="normal" font-family='"Liberation Sans", sans-serif' textLength="5.85" lengthAdjust="spacingAndGlyphs" stroke="#a8325e" stroke-width="0.1">14</text>
<line x1="62.5" y1="208" x2="62.5" y2="211" stroke="#444" stroke-width="0.9"/>
<text x="62.5" y="215.45" font-size="4.6" text-anchor="middle" fill="#333" font-weight="normal" font-family='"Liberation Sans", sans-serif' textLength="2.93" lengthAdjust="spacingAndGlyphs" stroke="#333" stroke-width="0.1">0</text>
<line x1="109.9" y1="208" x2="109.9" y2="211" stroke="#444" stroke-width="0.9"/>
<text x="109.9" y="215.45" font-size="4.6" text-anchor="middle" fill="#333" font-weight="normal" font-family='"Liberation Sans", sans-serif' textLength="5.85" lengthAdjust="spacingAndGlyphs" stroke="#333" stroke-width="0.1">20</text>
<line x1="157.3" y1="208" x2="157.3" y2="211" stroke="#444" stroke-width="0.9"/>
<text x="157.3" y="215.45" font-size="4.6" text-anchor="middle" fill="#333" font-weight="normal" font-family='"Liberation Sans", sans-serif' textLength="5.85" lengthAdjust="spacingAndGlyphs" stroke="#333" stroke-width="0.1">40</text>
<line x1="204.7" y1="208" x2="204.7" y2="211" stroke="#444" stroke-width="0.9"/>
<text x="204.7" y="215.45" font-size="4.6" text-anchor="middle" fill="#333" font-weight="normal" font-family='"Liberation Sans", sans-serif' textLength="5.85" lengthAdjust="spacingAndGlyphs" stroke="#333" stroke-width="0.1">60</text>
<line x1="252.1" y1="208" x2="252.1" y2="211" stroke="#444" stroke-width="0.9"/>
<text x="252.10000000000002" y="215.45" font-size="4.6" text-anchor="middle" fill="#333" font-weight="normal" font-family='"Liberation Sans", sans-serif' textLength="5.85" lengthAdjust="spacingAndGlyphs" stroke="#333" stroke-width="0.1">80</text>
<line x1="299.5" y1="208" x2="299.5" y2="211" stroke="#444" stroke-width="0.9"/>
<text x="299.5" y="215.45" font-size="4.6" text-anchor="middle" fill="#333" font-weight="normal" font-family='"Liberation Sans", sans-serif' textLength="8.78" lengthAdjust="spacingAndGlyphs" stroke="#333" stroke-width="0.1">100</text>
<text x="181" y="225" font-size="8.5" text-anchor="middle" fill="#222" font-weight="normal" font-family='"Liberation Sans", sans-serif' textLength="39" lengthAdjust="spacingAndGlyphs" stroke="#222" stroke-width="0.2">Time (nsec)</text>
<text x="50.4" y="124.5" font-size="7.5" text-anchor="middle" fill="#222" font-weight="normal" font-family='"Liberation Sans", sans-serif' textLength="71" lengthAdjust="spacingAndGlyphs" transform="rotate(-90 50.4 124.5)" stroke="#222" stroke-width="0.2">Protein RMSD (Å)</text>
<text x="309.5" y="124.5" font-size="7.5" text-anchor="middle" fill="#a8325e" font-weight="normal" font-family='"Liberation Sans", sans-serif' textLength="69" lengthAdjust="spacingAndGlyphs" transform="rotate(90 309.5 124.5)" stroke="#a8325e" stroke-width="0.1">Ligand RMSD (Å)</text>
<rect x="154" y="25.5" width="51" height="6.5" fill="#fff" stroke="#ddd" stroke-width="0.6" rx="1"/>
<rect x="154.6" y="26.95" width="7.599999999999994" height="3.6" fill="#35617f"/>
<text x="162.6" y="30.406" font-size="4.6" text-anchor="start" fill="#222" font-weight="normal" font-family='"Liberation Sans", sans-serif' textLength="4.5" lengthAdjust="spacingAndGlyphs" stroke="#222" stroke-width="0.12">Cα</text>
<rect x="167" y="26.95" width="8" height="3.6" fill="#a8325e"/>
<text x="175.5" y="30.406" font-size="4.6" text-anchor="start" fill="#222" font-weight="normal" font-family='"Liberation Sans", sans-serif' textLength="29" lengthAdjust="spacingAndGlyphs" stroke="#222" stroke-width="0.12">Lig) fit on Prot</text>
<clipPath id="cb"><rect x="63.6" y="281.2" width="232.70000000000002" height="161.5"/></clipPath>
<rect x="63.6" y="281.2" width="232.70000000000002" height="161.5" fill="none" stroke="#909090" stroke-width="1.1"/>
<path d="M63.6 427.7 L63.9 427.9 L64.1 411.3 L64.4 400.9 L64.6 389.3 L64.9 380.9 L65.2 382.3 L65.4 374.8 L65.7 371.5 L65.9 355.0 L66.2 358.2 L66.4 359.8 L66.7 358.9 L67.0 358.5 L67.2 358.3 L67.5 354.9 L67.7 349.7 L68.0 348.9 L68.3 343.7 L68.5 345.1 L68.8 344.3 L69.0 338.7 L69.3 339.2 L69.6 341.9 L69.8 341.3 L70.1 338.2 L70.3 332.2 L70.6 336.3 L70.8 337.3 L71.1 333.5 L71.4 337.5 L71.6 336.7 L71.9 332.4 L72.1 331.5 L72.4 332.2 L72.7 330.3 L72.9 340.0 L73.2 331.2 L73.4 333.8 L73.7 336.5 L74.0 331.1 L74.2 327.5 L74.5 329.3 L74.7 331.5 L75.0 328.5 L75.2 327.3 L75.5 322.3 L75.8 322.4 L76.0 323.9 L76.3 321.4 L76.5 324.3 L76.8 327.4 L77.1 323.6 L77.3 322.0 L77.6 323.8 L77.8 325.9 L78.1 323.3 L78.4 330.6 L78.6 323.1 L78.9 320.9 L79.1 326.5 L79.4 323.0 L79.6 324.7 L79.9 319.8 L80.2 326.4 L80.4 325.1 L80.7 319.5 L80.9 315.9 L81.2 324.6 L81.5 322.4 L81.7 318.8 L82.0 320.2 L82.2 313.8 L82.5 319.8 L82.8 316.9 L83.0 320.0 L83.3 313.3 L83.5 315.1 L83.8 316.6 L84.0 321.0 L84.3 311.8 L84.6 311.3 L84.8 310.8 L85.1 309.2 L85.3 310.9 L85.6 314.2 L85.9 315.7 L86.1 316.0 L86.4 309.1 L86.6 315.2 L86.9 314.5 L87.2 313.4 L87.4 311.2 L87.7 309.3 L87.9 314.2 L88.2 317.3 L88.4 313.0 L88.7 307.6 L89.0 307.1 L89.2 308.5 L89.5 310.6 L89.7 309.3 L90.0 310.5 L90.3 307.5 L90.5 311.4 L90.8 309.8 L91.0 309.9 L91.3 307.8 L91.6 308.0 L91.8 301.1 L92.1 301.9 L92.3 302.3 L92.6 313.3 L92.8 312.0 L93.1 312.5 L93.4 309.1 L93.6 316.7 L93.9 308.8 L94.1 306.4 L94.4 312.9 L94.7 314.2 L94.9 314.2 L95.2 311.6 L95.4 308.9 L95.7 303.7 L96.0 308.9 L96.2 307.7 L96.5 309.3 L96.7 305.0 L97.0 306.6 L97.2 305.3 L97.5 312.4 L97.8 312.3 L98.0 314.2 L98.3 307.8 L98.5 308.2 L98.8 311.5 L99.1 313.3 L99.3 311.2 L99.6 314.3 L99.8 316.2 L100.1 312.7 L100.4 305.5 L100.6 311.5 L100.9 314.7 L101.1 317.9 L101.4 319.7 L101.6 314.7 L101.9 312.1 L102.2 314.0 L102.4 313.8 L102.7 314.6 L102.9 314.9 L103.2 320.3 L103.5 318.9 L103.7 316.7 L104.0 318.7 L104.2 318.6 L104.5 319.6 L104.8 318.5 L105.0 314.6 L105.3 317.1 L105.5 317.3 L105.8 314.4 L106.1 314.0 L106.3 310.6 L106.6 321.2 L106.8 315.8 L107.1 318.1 L107.3 317.1 L107.6 314.6 L107.9 313.1 L108.1 312.7 L108.4 315.3 L108.6 311.9 L108.9 316.5 L109.2 317.7 L109.4 315.3 L109.7 318.7 L109.9 311.6 L110.2 312.7 L110.5 309.4 L110.7 315.1 L111.0 318.2 L111.2 317.6 L111.5 315.6 L111.7 319.0 L112.0 317.2 L112.3 317.8 L112.5 313.0 L112.8 318.3 L113.0 314.9 L113.3 318.9 L113.6 321.3 L113.8 321.3 L114.1 322.8 L114.3 319.3 L114.6 315.3 L114.9 316.5 L115.1 315.6 L115.4 312.1 L115.6 315.1 L115.9 316.4 L116.1 318.3 L116.4 323.1 L116.7 317.4 L116.9 323.2 L117.2 317.8 L117.4 318.0 L117.7 314.5 L118.0 317.0 L118.2 320.2 L118.5 317.7 L118.7 319.6 L119.0 319.1 L119.3 318.3 L119.5 318.5 L119.8 318.8 L120.0 320.8 L120.3 319.6 L120.5 325.1 L120.8 321.0 L121.1 322.7 L121.3 316.2 L121.6 313.5 L121.8 322.4 L122.1 318.8 L122.4 318.2 L122.6 320.7 L122.9 316.6 L123.1 318.0 L123.4 322.4 L123.7 319.1 L123.9 317.5 L124.2 315.9 L124.4 319.4 L124.7 314.7 L124.9 312.6 L125.2 317.5 L125.5 317.5 L125.7 315.6 L126.0 316.2 L126.2 309.2 L126.5 311.3 L126.8 315.6 L127.0 316.3 L127.3 314.2 L127.5 306.0 L127.8 310.6 L128.1 311.1 L128.3 309.9 L128.6 311.1 L128.8 304.2 L129.1 310.5 L129.3 308.7 L129.6 309.8 L129.9 308.8 L130.1 313.9 L130.4 306.5 L130.6 309.8 L130.9 310.4 L131.2 313.5 L131.4 313.9 L131.7 310.0 L131.9 307.3 L132.2 307.1 L132.5 305.5 L132.7 306.5 L133.0 308.9 L133.2 307.2 L133.5 307.3 L133.7 309.4 L134.0 307.6 L134.3 305.1 L134.5 307.5 L134.8 310.1 L135.0 307.6 L135.3 303.1 L135.6 308.0 L135.8 309.3 L136.1 309.8 L136.3 305.8 L136.6 313.7 L136.9 309.7 L137.1 305.7 L137.4 310.4 L137.6 304.9 L137.9 305.9 L138.1 309.5 L138.4 308.4 L138.7 313.4 L138.9 312.1 L139.2 304.2 L139.4 309.8 L139.7 303.3 L140.0 306.9 L140.2 304.8 L140.5 306.9 L140.7 314.6 L141.0 312.2 L141.3 308.9 L141.5 311.8 L141.8 313.4 L142.0 308.7 L142.3 310.1 L142.5 313.8 L142.8 311.9 L143.1 306.4 L143.3 308.6 L143.6 305.0 L143.8 301.8 L144.1 305.3 L144.4 310.0 L144.6 312.2 L144.9 308.9 L145.1 305.0 L145.4 305.4 L145.7 304.6 L145.9 307.4 L146.2 306.0 L146.4 307.8 L146.7 307.9 L146.9 310.9 L147.2 312.7 L147.5 309.9 L147.7 310.8 L148.0 310.6 L148.2 305.5 L148.5 306.0 L148.8 296.9 L149.0 299.7 L149.3 305.4 L149.5 303.1 L149.8 303.4 L150.1 306.7 L150.3 302.3 L150.6 306.5 L150.8 314.9 L151.1 306.0 L151.3 307.1 L151.6 301.0 L151.9 305.3 L152.1 308.4 L152.4 301.1 L152.6 306.5 L152.9 304.4 L153.2 299.8 L153.4 302.2 L153.7 303.6 L153.9 303.5 L154.2 301.1 L154.5 305.3 L154.7 302.3 L155.0 301.3 L155.2 295.5 L155.5 301.6 L155.7 305.5 L156.0 301.7 L156.3 303.8 L156.5 302.4 L156.8 302.3 L157.0 299.0 L157.3 303.4 L157.6 303.2 L157.8 310.6 L158.1 308.0 L158.3 299.6 L158.6 303.4 L158.9 304.8 L159.1 306.8 L159.4 301.9 L159.6 301.3 L159.9 305.3 L160.1 300.9 L160.4 300.6 L160.7 298.9 L160.9 302.5 L161.2 296.4 L161.4 298.3 L161.7 300.5 L162.0 302.5 L162.2 302.2 L162.5 298.7 L162.7 300.9 L163.0 297.5 L163.3 297.7 L163.5 295.4 L163.8 296.2 L164.0 299.2 L164.3 306.0 L164.5 301.6 L164.8 298.6 L165.1 299.5 L165.3 298.6 L165.6 301.5 L165.8 302.2 L166.1 304.2 L166.4 297.9 L166.6 299.4 L166.9 301.9 L167.1 305.4 L167.4 303.0 L167.7 297.3 L167.9 298.4 L168.2 302.4 L168.4 297.2 L168.7 295.4 L168.9 296.2 L169.2 297.1 L169.5 296.3 L169.7 297.9 L170.0 297.8 L170.2 302.5 L170.5 297.2 L170.8 299.3 L171.0 294.5 L171.3 305.4 L171.5 300.7 L171.8 298.3 L172.1 301.5 L172.3 300.2 L172.6 298.9 L172.8 299.0 L173.1 302.5 L173.3 302.5 L173.6 299.0 L173.9 296.9 L174.1 299.9 L174.4 301.0 L174.6 301.0 L174.9 298.5 L175.2 304.1 L175.4 306.9 L175.7 303.4 L175.9 306.0 L176.2 305.4 L176.5 303.1 L176.7 301.1 L177.0 305.2 L177.2 300.9 L177.5 307.3 L177.7 302.5 L178.0 307.3 L178.3 308.1 L178.5 302.5 L178.8 303.8 L179.0 305.5 L179.3 305.0 L179.6 302.0 L179.8 302.6 L180.1 302.8 L180.3 299.4 L180.6 303.7 L180.9 304.4 L181.1 304.8 L181.4 299.8 L181.6 298.5 L181.9 297.1 L182.2 300.7 L182.4 302.3 L182.7 299.8 L182.9 302.7 L183.2 299.9 L183.4 299.3 L183.7 303.4 L184.0 303.0 L184.2 302.9 L184.5 297.2 L184.7 292.5 L185.0 299.1 L185.3 301.1 L185.5 308.8 L185.8 303.8 L186.0 302.7 L186.3 305.6 L186.6 300.9 L186.8 306.5 L187.1 304.2 L187.3 302.3 L187.6 305.9 L187.8 300.7 L188.1 298.3 L188.4 304.9 L188.6 307.3 L188.9 301.9 L189.1 301.9 L189.4 305.6 L189.7 304.0 L189.9 302.9 L190.2 302.6 L190.4 299.5 L190.7 299.7 L191.0 295.5 L191.2 295.3 L191.5 297.3 L191.7 296.8 L192.0 295.8 L192.2 297.4 L192.5 303.8 L192.8 299.7 L193.0 300.6 L193.3 296.2 L193.5 299.3 L193.8 299.0 L194.1 299.5 L194.3 295.5 L194.6 298.7 L194.8 301.2 L195.1 300.3 L195.4 302.3 L195.6 301.1 L195.9 301.2 L196.1 300.3 L196.4 294.9 L196.6 300.2 L196.9 300.7 L197.2 301.5 L197.4 299.2 L197.7 304.0 L197.9 304.2 L198.2 302.2 L198.5 299.7 L198.7 300.6 L199.0 302.3 L199.2 304.1 L199.5 300.4 L199.8 296.2 L200.0 298.2 L200.3 299.3 L200.5 298.9 L200.8 303.0 L201.0 302.5 L201.3 302.1 L201.6 300.3 L201.8 300.6 L202.1 304.3 L202.3 298.4 L202.6 294.6 L202.9 299.3 L203.1 298.8 L203.4 299.1 L203.6 297.6 L203.9 304.1 L204.2 296.9 L204.4 300.8 L204.7 296.8 L204.9 299.1 L205.2 301.3 L205.4 301.4 L205.7 298.2 L206.0 302.5 L206.2 302.6 L206.5 302.9 L206.7 306.9 L207.0 299.0 L207.3 298.4 L207.5 300.1 L207.8 297.1 L208.0 302.6 L208.3 301.8 L208.6 296.0 L208.8 296.3 L209.1 306.2 L209.3 313.1 L209.6 308.5 L209.8 300.5 L210.1 302.4 L210.4 302.3 L210.6 299.7 L210.9 303.4 L211.1 301.4 L211.4 298.9 L211.7 299.0 L211.9 299.3 L212.2 302.5 L212.4 300.2 L212.7 302.3 L213.0 297.7 L213.2 292.3 L213.5 300.5 L213.7 307.9 L214.0 305.1 L214.2 301.6 L214.5 298.4 L214.8 297.2 L215.0 302.5 L215.3 304.4 L215.5 298.7 L215.8 304.0 L216.1 299.2 L216.3 301.6 L216.6 299.3 L216.8 298.8 L217.1 298.4 L217.4 298.1 L217.6 303.6 L217.9 301.6 L218.1 301.8 L218.4 300.9 L218.6 297.8 L218.9 301.4 L219.2 304.0 L219.4 305.0 L219.7 304.0 L219.9 300.5 L220.2 304.0 L220.5 299.2 L220.7 300.3 L221.0 302.2 L221.2 306.3 L221.5 302.9 L221.8 300.4 L222.0 307.0 L222.3 300.3 L222.5 296.6 L222.8 299.3 L223.0 299.8 L223.3 294.1 L223.6 295.7 L223.8 302.9 L224.1 302.7 L224.3 303.0 L224.6 303.2 L224.9 310.0 L225.1 302.9 L225.4 304.7 L225.6 302.8 L225.9 303.1 L226.2 300.2 L226.4 302.7 L226.7 305.3 L226.9 302.2 L227.2 298.5 L227.4 302.6 L227.7 299.0 L228.0 301.2 L228.2 304.5 L228.5 299.4 L228.7 304.9 L229.0 301.3 L229.3 304.8 L229.5 303.2 L229.8 307.9 L230.0 308.5 L230.3 302.9 L230.6 303.7 L230.8 304.6 L231.1 306.4 L231.3 304.5 L231.6 309.5 L231.8 310.6 L232.1 308.0 L232.4 309.3 L232.6 309.5 L232.9 307.7 L233.1 307.4 L233.4 307.6 L233.7 302.0 L233.9 302.1 L234.2 301.6 L234.4 305.4 L234.7 308.2 L235.0 312.3 L235.2 310.4 L235.5 315.1 L235.7 312.3 L236.0 307.2 L236.2 302.9 L236.5 303.5 L236.8 309.5 L237.0 307.5 L237.3 310.8 L237.5 307.1 L237.8 308.8 L238.1 306.5 L238.3 300.4 L238.6 303.3 L238.8 299.9 L239.1 305.4 L239.4 308.8 L239.6 304.9 L239.9 302.3 L240.1 308.4 L240.4 308.5 L240.6 313.2 L240.9 311.1 L241.2 306.9 L241.4 308.5 L241.7 310.5 L241.9 313.7 L242.2 309.4 L242.5 306.5 L242.7 306.1 L243.0 307.0 L243.2 312.0 L243.5 304.4 L243.8 307.3 L244.0 308.6 L244.3 306.3 L244.5 314.4 L244.8 310.8 L245.0 309.7 L245.3 307.7 L245.6 304.0 L245.8 305.4 L246.1 313.0 L246.3 311.0 L246.6 308.6 L246.9 307.9 L247.1 312.1 L247.4 314.7 L247.6 308.8 L247.9 307.3 L248.2 307.9 L248.4 313.3 L248.7 304.4 L248.9 315.7 L249.2 311.8 L249.4 302.9 L249.7 306.7 L250.0 306.8 L250.2 311.1 L250.5 304.8 L250.7 310.7 L251.0 308.0 L251.3 307.4 L251.5 310.8 L251.8 306.0 L252.0 311.4 L252.3 311.0 L252.6 308.9 L252.8 309.3 L253.1 306.7 L253.3 304.3 L253.6 307.3 L253.8 309.0 L254.1 309.5 L254.4 309.2 L254.6 305.5 L254.9 307.3 L255.1 306.0 L255.4 307.1 L255.7 309.7 L255.9 305.4 L256.2 309.7 L256.4 308.0 L256.7 302.8 L257.0 308.9 L257.2 307.8 L257.5 312.1 L257.7 310.3 L258.0 312.6 L258.3 310.0 L258.5 309.6 L258.8 307.3 L259.0 302.1 L259.3 304.2 L259.5 303.8 L259.8 305.8 L260.1 307.0 L260.3 309.3 L260.6 313.0 L260.8 308.6 L261.1 302.2 L261.4 303.5 L261.6 307.0 L261.9 301.5 L262.1 306.0 L262.4 308.1 L262.7 310.6 L262.9 310.7 L263.2 308.5 L263.4 300.8 L263.7 304.9 L263.9 308.8 L264.2 308.9 L264.5 307.7 L264.7 311.8 L265.0 307.6 L265.2 304.3 L265.5 304.3 L265.8 303.5 L266.0 308.9 L266.3 312.1 L266.5 304.0 L266.8 301.7 L267.1 309.0 L267.3 306.2 L267.6 305.7 L267.8 303.9 L268.1 304.3 L268.3 306.6 L268.6 305.3 L268.9 304.9 L269.1 305.4 L269.4 311.0 L269.6 316.5 L269.9 311.6 L270.2 312.5 L270.4 307.0 L270.7 303.6 L270.9 303.8 L271.2 305.8 L271.5 305.1 L271.7 301.5 L272.0 306.0 L272.2 302.5 L272.5 301.9 L272.7 303.1 L273.0 299.8 L273.3 305.3 L273.5 302.0 L273.8 306.6 L274.0 307.7 L274.3 309.0 L274.6 304.7 L274.8 307.5 L275.1 305.4 L275.3 308.3 L275.6 302.5 L275.9 298.0 L276.1 301.4 L276.4 298.2 L276.6 300.4 L276.9 296.1 L277.1 301.0 L277.4 307.8 L277.7 300.7 L277.9 303.2 L278.2 306.8 L278.4 306.9 L278.7 309.9 L279.0 306.4 L279.2 307.9 L279.5 300.6 L279.7 300.5 L280.0 307.6 L280.3 309.6 L280.5 307.3 L280.8 310.7 L281.0 306.3 L281.3 304.5 L281.5 306.1 L281.8 305.9 L282.1 302.6 L282.3 298.6 L282.6 296.9 L282.8 300.8 L283.1 299.6 L283.4 304.0 L283.6 302.0 L283.9 305.5 L284.1 301.5 L284.4 306.1 L284.7 306.8 L284.9 304.1 L285.2 301.4 L285.4 306.6 L285.7 305.6 L285.9 303.1 L286.2 301.9 L286.5 304.8 L286.7 302.9 L287.0 303.3 L287.2 298.3 L287.5 299.1 L287.8 305.1 L288.0 309.9 L288.3 304.4 L288.5 299.2 L288.8 300.4 L289.1 298.6 L289.3 302.2 L289.6 306.1 L289.8 300.9 L290.1 301.1 L290.3 299.3 L290.6 305.0 L290.9 302.2 L291.1 303.6 L291.4 299.7 L291.6 302.6 L291.9 303.6 L292.2 303.9 L292.4 298.3 L292.7 300.1 L292.9 303.1 L293.2 304.9 L293.5 305.6 L293.7 298.1 L294.0 305.5 L294.2 305.1 L294.5 300.4 L294.7 297.0 L295.0 299.9 L295.3 298.0 L295.5 297.4 L295.8 296.4 L296.0 299.0 L296.3 294.9" fill="none" stroke="#35617f" stroke-width="0.8" stroke-linejoin="round" clip-path="url(#cb)"/>
<path d="M63.6 446.2 L63.9 436.7 L64.1 418.8 L64.4 414.5 L64.6 419.9 L64.9 407.7 L65.2 405.2 L65.4 396.8 L65.7 401.0 L65.9 388.2 L66.2 382.0 L66.4 369.9 L66.7 370.6 L67.0 366.0 L67.2 372.9 L67.5 351.6 L67.7 367.1 L68.0 351.3 L68.3 353.2 L68.5 353.9 L68.8 350.2 L69.0 346.9 L69.3 337.9 L69.6 337.7 L69.8 329.3 L70.1 345.2 L70.3 338.4 L70.6 341.7 L70.8 333.2 L71.1 346.9 L71.4 339.9 L71.6 335.4 L71.9 343.5 L72.1 331.6 L72.4 333.4 L72.7 329.2 L72.9 328.4 L73.2 338.5 L73.4 339.4 L73.7 336.2 L74.0 330.3 L74.2 328.4 L74.5 336.3 L74.7 337.1 L75.0 338.1 L75.2 337.1 L75.5 335.4 L75.8 334.7 L76.0 323.1 L76.3 334.8 L76.5 336.3 L76.8 332.8 L77.1 340.0 L77.3 338.6 L77.6 336.5 L77.8 332.2 L78.1 342.9 L78.4 330.9 L78.6 338.0 L78.9 336.9 L79.1 333.3 L79.4 333.8 L79.6 332.1 L79.9 336.8 L80.2 339.0 L80.4 337.9 L80.7 345.0 L80.9 334.8 L81.2 343.8 L81.5 348.5 L81.7 331.8 L82.0 340.6 L82.2 348.1 L82.5 333.0 L82.8 341.5 L83.0 335.6 L83.3 344.3 L83.5 342.8 L83.8 350.0 L84.0 352.4 L84.3 347.7 L84.6 341.7 L84.8 335.6 L85.1 325.4 L85.3 341.8 L85.6 333.9 L85.9 340.7 L86.1 339.5 L86.4 346.2 L86.6 347.3 L86.9 343.6 L87.2 345.3 L87.4 339.4 L87.7 342.1 L87.9 332.3 L88.2 336.3 L88.4 337.2 L88.7 332.3 L89.0 334.8 L89.2 338.4 L89.5 339.6 L89.7 340.1 L90.0 333.9 L90.3 334.4 L90.5 336.8 L90.8 335.1 L91.0 342.2 L91.3 338.0 L91.6 347.7 L91.8 334.9 L92.1 339.2 L92.3 339.7 L92.6 337.7 L92.8 340.7 L93.1 342.8 L93.4 335.6 L93.6 340.0 L93.9 346.5 L94.1 339.4 L94.4 348.8 L94.7 331.7 L94.9 337.3 L95.2 336.5 L95.4 323.6 L95.7 320.8 L96.0 330.3 L96.2 328.5 L96.5 323.3 L96.7 317.1 L97.0 323.5 L97.2 321.4 L97.5 313.0 L97.8 314.5 L98.0 310.1 L98.3 308.0 L98.5 315.2 L98.8 315.0 L99.1 324.0 L99.3 312.5 L99.6 301.1 L99.8 311.5 L100.1 300.4 L100.4 299.0 L100.6 303.8 L100.9 304.0 L101.1 303.1 L101.4 307.5 L101.6 304.7 L101.9 302.4 L102.2 297.9 L102.4 295.5 L102.7 302.8 L102.9 295.3 L103.2 302.0 L103.5 300.2 L103.7 297.0 L104.0 298.5 L104.2 299.4 L104.5 297.5 L104.8 301.5 L105.0 302.9 L105.3 300.8 L105.5 294.1 L105.8 298.5 L106.1 288.7 L106.3 295.8 L106.6 314.4 L106.8 304.5 L107.1 291.3 L107.3 297.6 L107.6 301.2 L107.9 304.4 L108.1 293.2 L108.4 292.7 L108.6 294.4 L108.9 296.1 L109.2 291.0 L109.4 293.4 L109.7 304.9 L109.9 296.5 L110.2 298.1 L110.5 299.9 L110.7 295.6 L111.0 298.7 L111.2 315.3 L111.5 294.5 L111.7 293.2 L112.0 299.2 L112.3 301.7 L112.5 299.1 L112.8 306.7 L113.0 299.7 L113.3 301.2 L113.6 302.2 L113.8 305.5 L114.1 304.8 L114.3 295.2 L114.6 292.0 L114.9 295.9 L115.1 299.6 L115.4 304.9 L115.6 297.4 L115.9 291.1 L116.1 307.2 L116.4 295.5 L116.7 311.1 L116.9 304.5 L117.2 299.3 L117.4 307.7 L117.7 310.2 L118.0 301.6 L118.2 296.2 L118.5 302.4 L118.7 293.9 L119.0 303.6 L119.3 292.0 L119.5 298.5 L119.8 299.2 L120.0 297.3 L120.3 298.6 L120.5 290.6 L120.8 287.1 L121.1 295.4 L121.3 300.9 L121.6 307.5 L121.8 306.6 L122.1 302.3 L122.4 302.1 L122.6 301.8 L122.9 301.5 L123.1 298.8 L123.4 308.3 L123.7 308.4 L123.9 296.9 L124.2 296.2 L124.4 303.5 L124.7 295.1 L124.9 304.1 L125.2 303.6 L125.5 312.0 L125.7 299.4 L126.0 301.5 L126.2 296.1 L126.5 297.0 L126.8 300.5 L127.0 300.9 L127.3 295.5 L127.5 301.7 L127.8 302.9 L128.1 302.0 L128.3 297.9 L128.6 296.4 L128.8 290.8 L129.1 300.5 L129.3 295.2 L129.6 304.4 L129.9 299.5 L130.1 301.2 L130.4 292.8 L130.6 297.3 L130.9 303.9 L131.2 299.7 L131.4 300.1 L131.7 303.8 L131.9 304.4 L132.2 308.1 L132.5 288.9 L132.7 299.3 L133.0 296.8 L133.2 307.9 L133.5 309.7 L133.7 305.0 L134.0 304.0 L134.3 298.7 L134.5 307.4 L134.8 300.8 L135.0 294.2 L135.3 305.9 L135.6 298.5 L135.8 307.0 L136.1 301.7 L136.3 300.5 L136.6 292.9 L136.9 304.4 L137.1 302.1 L137.4 296.9 L137.6 307.8 L137.9 303.7 L138.1 307.5 L138.4 307.3 L138.7 299.8 L138.9 298.2 L139.2 287.8 L139.4 292.2 L139.7 293.5 L140.0 301.6 L140.2 303.9 L140.5 302.0 L140.7 314.6 L141.0 296.0 L141.3 304.8 L141.5 308.6 L141.8 306.2 L142.0 298.5 L142.3 295.0 L142.5 303.0 L142.8 300.2 L143.1 302.3 L143.3 307.8 L143.6 302.6 L143.8 302.3 L144.1 310.7 L144.4 298.2 L144.6 310.0 L144.9 302.7 L145.1 308.1 L145.4 307.9 L145.7 307.3 L145.9 299.6 L146.2 308.6 L146.4 304.6 L146.7 294.5 L146.9 304.5 L147.2 302.9 L147.5 298.9 L147.7 304.8 L148.0 300.3 L148.2 305.5 L148.5 299.2 L148.8 301.3 L149.0 307.1 L149.3 295.7 L149.5 301.4 L149.8 303.6 L150.1 307.5 L150.3 305.8 L150.6 303.4 L150.8 301.5 L151.1 296.1 L151.3 308.1 L151.6 305.2 L151.9 296.3 L152.1 300.0 L152.4 299.5 L152.6 293.0 L152.9 298.5 L153.2 298.9 L153.4 301.7 L153.7 292.5 L153.9 294.5 L154.2 304.4 L154.5 299.6 L154.7 307.7 L155.0 297.3 L155.2 297.5 L155.5 302.0 L155.7 304.2 L156.0 312.1 L156.3 299.9 L156.5 302.2 L156.8 303.8 L157.0 298.6 L157.3 305.2 L157.6 306.2 L157.8 307.2 L158.1 311.0 L158.3 291.7 L158.6 301.9 L158.9 304.9 L159.1 298.9 L159.4 319.7 L159.6 307.1 L159.9 304.5 L160.1 309.4 L160.4 302.9 L160.7 315.0 L160.9 306.7 L161.2 300.5 L161.4 316.1 L161.7 315.3 L162.0 308.3 L162.2 306.4 L162.5 309.6 L162.7 305.0 L163.0 304.9 L163.3 313.6 L163.5 308.8 L163.8 314.3 L164.0 319.9 L164.3 323.0 L164.5 305.3 L164.8 308.1 L165.1 297.6 L165.3 314.0 L165.6 311.5 L165.8 307.4 L166.1 309.3 L166.4 306.3 L166.6 307.7 L166.9 312.2 L167.1 322.5 L167.4 317.2 L167.7 301.9 L167.9 304.0 L168.2 301.3 L168.4 311.3 L168.7 311.0 L168.9 314.6 L169.2 308.4 L169.5 308.8 L169.7 306.7 L170.0 299.1 L170.2 311.5 L170.5 305.4 L170.8 315.6 L171.0 304.1 L171.3 310.0 L171.5 309.1 L171.8 307.7 L172.1 299.3 L172.3 306.5 L172.6 310.4 L172.8 314.8 L173.1 307.7 L173.3 312.3 L173.6 311.2 L173.9 308.4 L174.1 304.0 L174.4 310.5 L174.6 304.2 L174.9 297.0 L175.2 313.0 L175.4 300.8 L175.7 294.0 L175.9 307.3 L176.2 303.4 L176.5 313.2 L176.7 305.9 L177.0 307.9 L177.2 304.9 L177.5 310.8 L177.7 311.3 L178.0 309.4 L178.3 310.3 L178.5 310.0 L178.8 307.6 L179.0 311.9 L179.3 307.5 L179.6 303.2 L179.8 317.3 L180.1 306.6 L180.3 309.6 L180.6 312.2 L180.9 313.9 L181.1 311.6 L181.4 310.6 L181.6 304.6 L181.9 312.0 L182.2 301.1 L182.4 309.0 L182.7 302.4 L182.9 298.9 L183.2 310.7 L183.4 300.6 L183.7 292.6 L184.0 305.0 L184.2 301.9 L184.5 305.1 L184.7 304.5 L185.0 305.8 L185.3 307.7 L185.5 301.5 L185.8 299.3 L186.0 303.6 L186.3 296.3 L186.6 297.1 L186.8 299.3 L187.1 307.4 L187.3 294.8 L187.6 295.5 L187.8 314.2 L188.1 312.4 L188.4 308.6 L188.6 300.2 L188.9 296.9 L189.1 304.5 L189.4 303.1 L189.7 300.4 L189.9 310.4 L190.2 302.4 L190.4 305.6 L190.7 303.6 L191.0 304.4 L191.2 310.7 L191.5 310.9 L191.7 305.4 L192.0 303.8 L192.2 305.6 L192.5 298.9 L192.8 305.1 L193.0 311.0 L193.3 307.5 L193.5 305.9 L193.8 305.3 L194.1 298.3 L194.3 300.3 L194.6 297.8 L194.8 299.7 L195.1 304.3 L195.4 298.7 L195.6 304.6 L195.9 303.0 L196.1 309.4 L196.4 304.8 L196.6 306.1 L196.9 302.6 L197.2 294.2 L197.4 289.5 L197.7 295.8 L197.9 302.7 L198.2 299.5 L198.5 302.1 L198.7 307.1 L199.0 305.2 L199.2 305.8 L199.5 307.8 L199.8 297.5 L200.0 305.8 L200.3 307.2 L200.5 301.1 L200.8 307.3 L201.0 311.0 L201.3 310.2 L201.6 302.8 L201.8 301.9 L202.1 302.2 L202.3 306.3 L202.6 309.6 L202.9 300.4 L203.1 311.2 L203.4 306.8 L203.6 311.9 L203.9 308.1 L204.2 306.0 L204.4 298.2 L204.7 318.7 L204.9 300.0 L205.2 308.4 L205.4 303.8 L205.7 300.2 L206.0 307.9 L206.2 305.9 L206.5 302.4 L206.7 305.0 L207.0 308.9 L207.3 304.7 L207.5 304.4 L207.8 313.0 L208.0 299.4 L208.3 302.8 L208.6 317.7 L208.8 312.2 L209.1 297.4 L209.3 295.2 L209.6 301.9 L209.8 313.8 L210.1 308.4 L210.4 300.4 L210.6 302.4 L210.9 306.7 L211.1 309.8 L211.4 302.1 L211.7 306.1 L211.9 304.1 L212.2 302.8 L212.4 296.4 L212.7 303.0 L213.0 304.0 L213.2 315.2 L213.5 301.9 L213.7 300.5 L214.0 305.1 L214.2 318.2 L214.5 311.7 L214.8 307.0 L215.0 295.5 L215.3 301.8 L215.5 302.4 L215.8 302.8 L216.1 300.6 L216.3 313.9 L216.6 315.5 L216.8 318.0 L217.1 314.1 L217.4 314.2 L217.6 312.2 L217.9 318.3 L218.1 313.9 L218.4 318.6 L218.6 304.0 L218.9 315.8 L219.2 302.0 L219.4 304.6 L219.7 320.8 L219.9 312.9 L220.2 313.6 L220.5 325.8 L220.7 317.1 L221.0 319.6 L221.2 318.1 L221.5 324.8 L221.8 322.3 L222.0 318.9 L222.3 320.9 L222.5 323.1 L222.8 320.7 L223.0 324.2 L223.3 317.3 L223.6 331.1 L223.8 311.5 L224.1 314.9 L224.3 312.9 L224.6 310.0 L224.9 320.3 L225.1 302.9 L225.4 317.3 L225.6 311.1 L225.9 310.2 L226.2 304.2 L226.4 309.7 L226.7 318.3 L226.9 310.7 L227.2 324.2 L227.4 314.7 L227.7 314.2 L228.0 303.3 L228.2 311.0 L228.5 313.5 L228.7 315.6 L229.0 316.6 L229.3 315.1 L229.5 308.7 L229.8 317.7 L230.0 313.5 L230.3 319.5 L230.6 313.7 L230.8 310.7 L231.1 317.7 L231.3 315.5 L231.6 311.4 L231.8 307.0 L232.1 305.2 L232.4 310.6 L232.6 316.4 L232.9 321.0 L233.1 308.9 L233.4 303.2 L233.7 307.6 L233.9 302.0 L234.2 311.8 L234.4 313.4 L234.7 303.2 L235.0 315.0 L235.2 308.7 L235.5 308.6 L235.7 309.8 L236.0 301.6 L236.2 314.0 L236.5 314.1 L236.8 323.0 L237.0 319.2 L237.3 315.6 L237.5 314.1 L237.8 312.9 L238.1 309.9 L238.3 314.5 L238.6 322.5 L238.8 312.5 L239.1 309.0 L239.4 316.8 L239.6 316.3 L239.9 302.4 L240.1 303.5 L240.4 303.4 L240.6 305.6 L240.9 308.8 L241.2 313.0 L241.4 307.9 L241.7 311.0 L241.9 312.9 L242.2 310.9 L242.5 310.9 L242.7 305.6 L243.0 314.5 L243.2 297.5 L243.5 313.0 L243.8 313.0 L244.0 305.5 L244.3 313.6 L244.5 313.2 L244.8 310.4 L245.0 326.0 L245.3 315.7 L245.6 316.1 L245.8 312.3 L246.1 307.4 L246.3 305.7 L246.6 300.6 L246.9 299.9 L247.1 301.9 L247.4 308.1 L247.6 303.4 L247.9 313.4 L248.2 310.6 L248.4 301.6 L248.7 303.3 L248.9 315.4 L249.2 313.5 L249.4 304.9 L249.7 304.7 L250.0 302.2 L250.2 317.1 L250.5 317.4 L250.7 312.0 L251.0 314.8 L251.3 310.3 L251.5 309.2 L251.8 307.2 L252.0 309.4 L252.3 306.1 L252.6 304.2 L252.8 307.3 L253.1 315.4 L253.3 303.4 L253.6 306.8 L253.8 306.4 L254.1 307.7 L254.4 317.6 L254.6 307.8 L254.9 312.5 L255.1 316.5 L255.4 303.8 L255.7 309.9 L255.9 307.9 L256.2 304.3 L256.4 299.6 L256.7 317.3 L257.0 315.1 L257.2 306.9 L257.5 312.6 L257.7 327.8 L258.0 312.4 L258.3 309.0 L258.5 305.2 L258.8 307.5 L259.0 311.6 L259.3 308.9 L259.5 309.8 L259.8 312.5 L260.1 308.9 L260.3 307.7 L260.6 314.9 L260.8 305.3 L261.1 304.5 L261.4 304.6 L261.6 323.7 L261.9 312.1 L262.1 311.1 L262.4 315.7 L262.7 308.0 L262.9 317.8 L263.2 305.0 L263.4 307.0 L263.7 312.3 L263.9 302.9 L264.2 306.2 L264.5 307.6 L264.7 316.8 L265.0 308.7 L265.2 302.4 L265.5 302.8 L265.8 315.8 L266.0 304.0 L266.3 300.5 L266.5 303.9 L266.8 311.3 L267.1 318.8 L267.3 317.2 L267.6 315.1 L267.8 310.1 L268.1 307.6 L268.3 314.1 L268.6 320.3 L268.9 315.0 L269.1 318.9 L269.4 305.3 L269.6 316.5 L269.9 309.5 L270.2 306.3 L270.4 315.5 L270.7 306.6 L270.9 311.0 L271.2 315.5 L271.5 317.3 L271.7 311.9 L272.0 305.6 L272.2 320.5 L272.5 309.9 L272.7 312.0 L273.0 315.7 L273.3 312.9 L273.5 311.8 L273.8 311.9 L274.0 307.2 L274.3 315.5 L274.6 301.6 L274.8 304.7 L275.1 313.3 L275.3 322.3 L275.6 313.7 L275.9 314.1 L276.1 307.9 L276.4 306.8 L276.6 300.1 L276.9 309.8 L277.1 306.8 L277.4 312.7 L277.7 313.6 L277.9 303.5 L278.2 310.5 L278.4 311.7 L278.7 313.3 L279.0 309.9 L279.2 307.7 L279.5 311.2 L279.7 317.4 L280.0 310.6 L280.3 315.5 L280.5 314.0 L280.8 310.6 L281.0 309.7 L281.3 323.5 L281.5 304.4 L281.8 305.5 L282.1 299.5 L282.3 295.2 L282.6 313.1 L282.8 314.6 L283.1 310.5 L283.4 306.0 L283.6 313.0 L283.9 313.3 L284.1 305.9 L284.4 315.0 L284.7 310.9 L284.9 305.1 L285.2 311.1 L285.4 306.5 L285.7 310.3 L285.9 318.8 L286.2 314.7 L286.5 311.9 L286.7 311.9 L287.0 309.8 L287.2 307.2 L287.5 307.1 L287.8 307.5 L288.0 310.8 L288.3 310.1 L288.5 310.6 L288.8 311.7 L289.1 301.2 L289.3 316.6 L289.6 308.0 L289.8 316.3 L290.1 312.1 L290.3 303.6 L290.6 307.6 L290.9 299.1 L291.1 310.0 L291.4 308.5 L291.6 309.8 L291.9 306.5 L292.2 307.4 L292.4 307.8 L292.7 305.2 L292.9 299.0 L293.2 302.8 L293.5 303.9 L293.7 305.9 L294.0 308.4 L294.2 312.7 L294.5 311.3 L294.7 305.0 L295.0 314.1 L295.3 301.9 L295.5 305.1 L295.8 308.4 L296.0 306.7 L296.3 299.7" fill="none" stroke="#a8325e" stroke-width="0.8" stroke-linejoin="round" stroke-opacity="0.85" clip-path="url(#cb)"/>
<line x1="60.4" y1="425.3" x2="63.6" y2="425.3" stroke="#444" stroke-width="0.9"/>
<text x="59.9" y="426.772" font-size="4.2" text-anchor="end" fill="#333" font-weight="normal" font-family='"Liberation Sans", sans-serif' textLength="6.68" lengthAdjust="spacingAndGlyphs" stroke="#333" stroke-width="0.12">0.4</text>
<line x1="60.4" y1="407.8" x2="63.6" y2="407.8" stroke="#444" stroke-width="0.9"/>
<text x="59.9" y="409.332" font-size="4.2" text-anchor="end" fill="#333" font-weight="normal" font-family='"Liberation Sans", sans-serif' textLength="6.68" lengthAdjust="spacingAndGlyphs" stroke="#333" stroke-width="0.12">0.8</text>
<line x1="60.4" y1="390.4" x2="63.6" y2="390.4" stroke="#444" stroke-width="0.9"/>
<text x="59.9" y="391.892" font-size="4.2" text-anchor="end" fill="#333" font-weight="normal" font-family='"Liberation Sans", sans-serif' textLength="6.68" lengthAdjust="spacingAndGlyphs" stroke="#333" stroke-width="0.12">1.2</text>
<line x1="60.4" y1="372.9" x2="63.6" y2="372.9" stroke="#444" stroke-width="0.9"/>
<text x="59.9" y="374.452" font-size="4.2" text-anchor="end" fill="#333" font-weight="normal" font-family='"Liberation Sans", sans-serif' textLength="6.68" lengthAdjust="spacingAndGlyphs" stroke="#333" stroke-width="0.12">1.6</text>
<line x1="60.4" y1="355.5" x2="63.6" y2="355.5" stroke="#444" stroke-width="0.9"/>
<text x="59.9" y="357.012" font-size="4.2" text-anchor="end" fill="#333" font-weight="normal" font-family='"Liberation Sans", sans-serif' textLength="6.68" lengthAdjust="spacingAndGlyphs" stroke="#333" stroke-width="0.12">2.0</text>
<line x1="60.4" y1="338.1" x2="63.6" y2="338.1" stroke="#444" stroke-width="0.9"/>
<text x="59.9" y="339.572" font-size="4.2" text-anchor="end" fill="#333" font-weight="normal" font-family='"Liberation Sans", sans-serif' textLength="6.68" lengthAdjust="spacingAndGlyphs" stroke="#333" stroke-width="0.12">2.4</text>
<line x1="60.4" y1="320.6" x2="63.6" y2="320.6" stroke="#444" stroke-width="0.9"/>
<text x="59.9" y="322.132" font-size="4.2" text-anchor="end" fill="#333" font-weight="normal" font-family='"Liberation Sans", sans-serif' textLength="6.68" lengthAdjust="spacingAndGlyphs" stroke="#333" stroke-width="0.12">2.8</text>
<line x1="60.4" y1="303.2" x2="63.6" y2="303.2" stroke="#444" stroke-width="0.9"/>
<text x="59.9" y="304.69199999999995" font-size="4.2" text-anchor="end" fill="#333" font-weight="normal" font-family='"Liberation Sans", sans-serif' textLength="6.68" lengthAdjust="spacingAndGlyphs" stroke="#333" stroke-width="0.12">3.2</text>
<line x1="60.4" y1="285.7" x2="63.6" y2="285.7" stroke="#444" stroke-width="0.9"/>
<text x="59.9" y="287.252" font-size="4.2" text-anchor="end" fill="#333" font-weight="normal" font-family='"Liberation Sans", sans-serif' textLength="6.68" lengthAdjust="spacingAndGlyphs" stroke="#333" stroke-width="0.12">3.6</text>
<line x1="296.3" y1="424.4" x2="298.8" y2="424.4" stroke="#a8325e" stroke-width="0.6"/>
<text x="300.0" y="425.912" font-size="4.2" text-anchor="start" fill="#a8325e" font-weight="normal" font-family='"Liberation Sans", sans-serif' textLength="6.68" lengthAdjust="spacingAndGlyphs" stroke="#a8325e" stroke-width="0.12">0.8</text>
<line x1="296.3" y1="406.1" x2="298.8" y2="406.1" stroke="#a8325e" stroke-width="0.6"/>
<text x="300.0" y="407.61199999999997" font-size="4.2" text-anchor="start" fill="#a8325e" font-weight="normal" font-family='"Liberation Sans", sans-serif' textLength="6.68" lengthAdjust="spacingAndGlyphs" stroke="#a8325e" stroke-width="0.12">1.6</text>
<line x1="296.3" y1="387.8" x2="298.8" y2="387.8" stroke="#a8325e" stroke-width="0.6"/>
<text x="300.0" y="389.312" font-size="4.2" text-anchor="start" fill="#a8325e" font-weight="normal" font-family='"Liberation Sans", sans-serif' textLength="6.68" lengthAdjust="spacingAndGlyphs" stroke="#a8325e" stroke-width="0.12">2.4</text>
<line x1="296.3" y1="369.5" x2="298.8" y2="369.5" stroke="#a8325e" stroke-width="0.6"/>
<text x="300.0" y="371.012" font-size="4.2" text-anchor="start" fill="#a8325e" font-weight="normal" font-family='"Liberation Sans", sans-serif' textLength="6.68" lengthAdjust="spacingAndGlyphs" stroke="#a8325e" stroke-width="0.12">3.2</text>
<line x1="296.3" y1="351.2" x2="298.8" y2="351.2" stroke="#a8325e" stroke-width="0.6"/>
<text x="300.0" y="352.712" font-size="4.2" text-anchor="start" fill="#a8325e" font-weight="normal" font-family='"Liberation Sans", sans-serif' textLength="6.68" lengthAdjust="spacingAndGlyphs" stroke="#a8325e" stroke-width="0.12">4.0</text>
<line x1="296.3" y1="332.9" x2="298.8" y2="332.9" stroke="#a8325e" stroke-width="0.6"/>
<text x="300.0" y="334.412" font-size="4.2" text-anchor="start" fill="#a8325e" font-weight="normal" font-family='"Liberation Sans", sans-serif' textLength="6.68" lengthAdjust="spacingAndGlyphs" stroke="#a8325e" stroke-width="0.12">4.8</text>
<line x1="296.3" y1="314.6" x2="298.8" y2="314.6" stroke="#a8325e" stroke-width="0.6"/>
<text x="300.0" y="316.112" font-size="4.2" text-anchor="start" fill="#a8325e" font-weight="normal" font-family='"Liberation Sans", sans-serif' textLength="6.68" lengthAdjust="spacingAndGlyphs" stroke="#a8325e" stroke-width="0.12">5.6</text>
<line x1="296.3" y1="296.3" x2="298.8" y2="296.3" stroke="#a8325e" stroke-width="0.6"/>
<text x="300.0" y="297.81199999999995" font-size="4.2" text-anchor="start" fill="#a8325e" font-weight="normal" font-family='"Liberation Sans", sans-serif' textLength="6.68" lengthAdjust="spacingAndGlyphs" stroke="#a8325e" stroke-width="0.12">6.4</text>
<line x1="63.6" y1="442.7" x2="63.6" y2="445.7" stroke="#444" stroke-width="0.9"/>
<text x="63.6" y="448.84999999999997" font-size="4.2" text-anchor="middle" fill="#333" font-weight="normal" font-family='"Liberation Sans", sans-serif' textLength="2.67" lengthAdjust="spacingAndGlyphs" stroke="#333" stroke-width="0.12">0</text>
<line x1="110.1" y1="442.7" x2="110.1" y2="445.7" stroke="#444" stroke-width="0.9"/>
<text x="110.14000000000001" y="448.84999999999997" font-size="4.2" text-anchor="middle" fill="#333" font-weight="normal" font-family='"Liberation Sans", sans-serif' textLength="5.34" lengthAdjust="spacingAndGlyphs" stroke="#333" stroke-width="0.12">20</text>
<line x1="156.7" y1="442.7" x2="156.7" y2="445.7" stroke="#444" stroke-width="0.9"/>
<text x="156.68" y="448.84999999999997" font-size="4.2" text-anchor="middle" fill="#333" font-weight="normal" font-family='"Liberation Sans", sans-serif' textLength="5.34" lengthAdjust="spacingAndGlyphs" stroke="#333" stroke-width="0.12">40</text>
<line x1="203.2" y1="442.7" x2="203.2" y2="445.7" stroke="#444" stroke-width="0.9"/>
<text x="203.22" y="448.84999999999997" font-size="4.2" text-anchor="middle" fill="#333" font-weight="normal" font-family='"Liberation Sans", sans-serif' textLength="5.34" lengthAdjust="spacingAndGlyphs" stroke="#333" stroke-width="0.12">60</text>
<line x1="249.8" y1="442.7" x2="249.8" y2="445.7" stroke="#444" stroke-width="0.9"/>
<text x="249.76000000000002" y="448.84999999999997" font-size="4.2" text-anchor="middle" fill="#333" font-weight="normal" font-family='"Liberation Sans", sans-serif' textLength="5.34" lengthAdjust="spacingAndGlyphs" stroke="#333" stroke-width="0.12">80</text>
<line x1="296.3" y1="442.7" x2="296.3" y2="445.7" stroke="#444" stroke-width="0.9"/>
<text x="296.3" y="448.84999999999997" font-size="4.2" text-anchor="middle" fill="#333" font-weight="normal" font-family='"Liberation Sans", sans-serif' textLength="8.01" lengthAdjust="spacingAndGlyphs" stroke="#333" stroke-width="0.12">100</text>
<text x="179.7" y="455.6" font-size="7" text-anchor="middle" fill="#222" font-weight="normal" font-family='"Liberation Sans", sans-serif' textLength="35" lengthAdjust="spacingAndGlyphs" stroke="#222" stroke-width="0.3">Time (nsec)</text>
<text x="52.2" y="361.6" font-size="6.3" text-anchor="middle" fill="#222" font-weight="normal" font-family='"Liberation Sans", sans-serif' textLength="54" lengthAdjust="spacingAndGlyphs" transform="rotate(-90 52.2 361.6)" stroke="#222" stroke-width="0.3">Protein RMSD (Å)</text>
<text x="306.8" y="362.6" font-size="6.3" text-anchor="middle" fill="#a8325e" font-weight="normal" font-family='"Liberation Sans", sans-serif' textLength="52" lengthAdjust="spacingAndGlyphs" transform="rotate(90 306.8 362.6)" stroke="#a8325e" stroke-width="0.15">Ligand RMSD (Å)</text>
<rect x="155.6" y="267" width="46.400000000000006" height="6" fill="#fff" stroke="#ddd" stroke-width="0.6" rx="1"/>
<rect x="156.1" y="268.2" width="6.900000000000006" height="3.6" fill="#35617f"/>
<text x="163.3" y="271.512" font-size="4.2" text-anchor="start" fill="#222" font-weight="normal" font-family='"Liberation Sans", sans-serif' textLength="4.2" lengthAdjust="spacingAndGlyphs" stroke="#222" stroke-width="0.12">Cα</text>
<rect x="168" y="268.2" width="6.5" height="3.6" fill="#a8325e"/>
<text x="174.8" y="271.512" font-size="4.2" text-anchor="start" fill="#222" font-weight="normal" font-family='"Liberation Sans", sans-serif' textLength="26.5" lengthAdjust="spacingAndGlyphs" stroke="#222" stroke-width="0.12">Lig) fit on Prot</text>
<clipPath id="cc"><rect x="67.2" y="518.8" width="233.0" height="161.80000000000007"/></clipPath>
<rect x="67.2" y="518.8" width="233.0" height="161.80000000000007" fill="none" stroke="#6e6e6e" stroke-width="1.4"/>
<path d="M67.2 618.4 L67.5 614.5 L67.7 604.6 L68.0 594.5 L68.2 584.1 L68.5 583.0 L68.8 585.4 L69.0 586.4 L69.3 580.5 L69.5 575.0 L69.8 577.7 L70.0 583.5 L70.3 583.7 L70.6 573.8 L70.8 575.4 L71.1 582.4 L71.3 577.9 L71.6 579.9 L71.9 578.0 L72.1 576.8 L72.4 577.0 L72.6 572.1 L72.9 572.6 L73.2 574.4 L73.4 571.0 L73.7 568.1 L73.9 576.1 L74.2 573.1 L74.5 574.6 L74.7 571.8 L75.0 574.8 L75.2 570.6 L75.5 569.2 L75.7 569.5 L76.0 572.1 L76.3 570.2 L76.5 571.8 L76.8 573.0 L77.0 567.3 L77.3 570.2 L77.6 562.4 L77.8 561.5 L78.1 570.9 L78.3 565.1 L78.6 568.1 L78.9 564.6 L79.1 563.6 L79.4 570.7 L79.6 566.3 L79.9 565.1 L80.2 560.2 L80.4 566.6 L80.7 561.4 L80.9 566.6 L81.2 565.3 L81.4 566.7 L81.7 558.7 L82.0 559.5 L82.2 552.9 L82.5 557.4 L82.7 558.0 L83.0 558.1 L83.3 563.5 L83.5 563.1 L83.8 557.7 L84.0 562.5 L84.3 561.7 L84.6 562.2 L84.8 560.0 L85.1 562.9 L85.3 563.0 L85.6 561.5 L85.9 561.5 L86.1 565.1 L86.4 559.6 L86.6 566.0 L86.9 567.6 L87.1 568.3 L87.4 560.2 L87.7 562.6 L87.9 565.5 L88.2 567.0 L88.4 561.7 L88.7 565.5 L89.0 567.4 L89.2 561.0 L89.5 565.7 L89.7 563.8 L90.0 562.1 L90.3 563.2 L90.5 562.0 L90.8 556.5 L91.0 561.6 L91.3 565.9 L91.6 569.2 L91.8 564.2 L92.1 563.2 L92.3 560.6 L92.6 562.5 L92.8 563.1 L93.1 564.1 L93.4 563.6 L93.6 560.9 L93.9 562.1 L94.1 560.6 L94.4 553.6 L94.7 556.6 L94.9 565.1 L95.2 555.4 L95.4 557.6 L95.7 562.9 L96.0 557.7 L96.2 559.4 L96.5 562.1 L96.7 563.0 L97.0 564.6 L97.3 561.2 L97.5 556.4 L97.8 560.0 L98.0 558.3 L98.3 552.5 L98.5 562.0 L98.8 559.4 L99.1 560.7 L99.3 563.8 L99.6 564.6 L99.8 561.1 L100.1 558.3 L100.4 561.0 L100.6 559.6 L100.9 556.7 L101.1 557.4 L101.4 555.5 L101.7 556.3 L101.9 556.5 L102.2 551.6 L102.4 554.5 L102.7 557.2 L103.0 555.9 L103.2 561.5 L103.5 561.0 L103.7 556.8 L104.0 556.1 L104.2 552.5 L104.5 557.1 L104.8 563.8 L105.0 553.4 L105.3 553.3 L105.5 561.3 L105.8 554.7 L106.1 557.6 L106.3 565.3 L106.6 562.5 L106.8 562.0 L107.1 554.1 L107.4 560.5 L107.6 560.4 L107.9 560.5 L108.1 560.9 L108.4 563.0 L108.7 559.4 L108.9 555.2 L109.2 555.5 L109.4 560.6 L109.7 562.4 L109.9 557.8 L110.2 559.0 L110.5 558.5 L110.7 561.7 L111.0 548.9 L111.2 548.3 L111.5 554.5 L111.8 549.0 L112.0 545.2 L112.3 557.3 L112.5 553.7 L112.8 551.5 L113.1 546.5 L113.3 547.3 L113.6 547.5 L113.8 546.5 L114.1 539.5 L114.3 536.3 L114.6 545.3 L114.9 549.6 L115.1 537.6 L115.4 547.6 L115.6 549.1 L115.9 547.4 L116.2 545.3 L116.4 542.8 L116.7 544.4 L116.9 549.6 L117.2 546.2 L117.5 546.2 L117.7 540.3 L118.0 545.5 L118.2 552.0 L118.5 552.9 L118.8 544.1 L119.0 548.9 L119.3 556.1 L119.5 552.7 L119.8 549.7 L120.0 544.4 L120.3 551.0 L120.6 546.9 L120.8 545.3 L121.1 550.3 L121.3 550.0 L121.6 542.8 L121.9 540.9 L122.1 543.6 L122.4 546.4 L122.6 544.3 L122.9 548.5 L123.2 549.6 L123.4 552.8 L123.7 550.7 L123.9 550.4 L124.2 539.9 L124.5 547.7 L124.7 544.8 L125.0 543.8 L125.2 549.1 L125.5 545.7 L125.7 557.1 L126.0 552.1 L126.3 547.9 L126.5 558.6 L126.8 557.3 L127.0 548.8 L127.3 551.1 L127.6 554.9 L127.8 553.5 L128.1 553.7 L128.3 549.1 L128.6 548.8 L128.9 551.4 L129.1 553.6 L129.4 552.1 L129.6 546.6 L129.9 548.6 L130.2 548.1 L130.4 550.9 L130.7 556.0 L130.9 555.4 L131.2 550.3 L131.4 550.8 L131.7 554.7 L132.0 558.5 L132.2 553.3 L132.5 553.5 L132.7 553.6 L133.0 553.6 L133.3 551.3 L133.5 550.7 L133.8 548.1 L134.0 547.4 L134.3 545.8 L134.6 547.3 L134.8 551.9 L135.1 552.3 L135.3 550.5 L135.6 552.9 L135.9 550.5 L136.1 547.6 L136.4 553.9 L136.6 559.4 L136.9 550.2 L137.1 551.8 L137.4 549.7 L137.7 556.6 L137.9 547.3 L138.2 548.2 L138.4 551.6 L138.7 553.5 L139.0 552.3 L139.2 553.0 L139.5 553.5 L139.7 556.8 L140.0 549.0 L140.3 551.4 L140.5 551.7 L140.8 551.7 L141.0 560.7 L141.3 552.8 L141.6 553.5 L141.8 553.6 L142.1 552.3 L142.3 555.7 L142.6 550.0 L142.8 554.0 L143.1 555.9 L143.4 556.3 L143.6 552.7 L143.9 549.4 L144.1 553.3 L144.4 557.9 L144.7 549.8 L144.9 555.1 L145.2 548.4 L145.4 551.0 L145.7 554.1 L146.0 554.8 L146.2 550.9 L146.5 548.2 L146.7 551.3 L147.0 548.1 L147.3 542.9 L147.5 549.7 L147.8 555.2 L148.0 556.5 L148.3 558.1 L148.5 555.8 L148.8 555.4 L149.1 557.5 L149.3 551.3 L149.6 561.0 L149.8 559.1 L150.1 546.3 L150.4 546.0 L150.6 547.8 L150.9 548.5 L151.1 543.9 L151.4 547.1 L151.7 549.7 L151.9 555.2 L152.2 552.7 L152.4 554.3 L152.7 554.7 L153.0 554.8 L153.2 552.3 L153.5 552.6 L153.7 548.3 L154.0 555.1 L154.2 552.8 L154.5 544.7 L154.8 548.9 L155.0 545.9 L155.3 545.2 L155.5 544.3 L155.8 546.1 L156.1 554.5 L156.3 552.9 L156.6 552.8 L156.8 557.0 L157.1 554.3 L157.4 556.4 L157.6 558.5 L157.9 552.2 L158.1 551.2 L158.4 553.3 L158.7 554.9 L158.9 553.8 L159.2 552.9 L159.4 552.7 L159.7 551.3 L159.9 552.3 L160.2 549.6 L160.5 548.2 L160.7 548.4 L161.0 552.2 L161.2 553.1 L161.5 549.5 L161.8 550.7 L162.0 550.5 L162.3 559.4 L162.5 562.8 L162.8 552.7 L163.1 549.6 L163.3 544.8 L163.6 545.8 L163.8 547.9 L164.1 549.3 L164.3 555.0 L164.6 548.2 L164.9 551.6 L165.1 548.5 L165.4 548.7 L165.6 548.4 L165.9 546.1 L166.2 550.4 L166.4 551.3 L166.7 553.3 L166.9 552.1 L167.2 544.2 L167.5 549.3 L167.7 545.1 L168.0 545.1 L168.2 545.5 L168.5 545.3 L168.8 551.9 L169.0 548.8 L169.3 543.3 L169.5 550.1 L169.8 549.7 L170.0 551.9 L170.3 548.9 L170.6 553.1 L170.8 544.4 L171.1 549.1 L171.3 554.8 L171.6 544.2 L171.9 544.0 L172.1 545.6 L172.4 546.0 L172.6 549.4 L172.9 549.9 L173.2 546.5 L173.4 544.8 L173.7 544.2 L173.9 546.6 L174.2 549.8 L174.5 549.8 L174.7 545.0 L175.0 542.3 L175.2 548.0 L175.5 550.2 L175.7 544.5 L176.0 544.7 L176.3 544.8 L176.5 552.2 L176.8 551.0 L177.0 551.1 L177.3 548.5 L177.6 554.6 L177.8 545.6 L178.1 546.4 L178.3 546.1 L178.6 552.0 L178.9 549.5 L179.1 543.6 L179.4 552.4 L179.6 548.0 L179.9 545.1 L180.2 549.2 L180.4 544.8 L180.7 547.5 L180.9 542.5 L181.2 543.4 L181.4 544.7 L181.7 538.4 L182.0 540.7 L182.2 539.5 L182.5 548.2 L182.7 548.7 L183.0 543.3 L183.3 541.3 L183.5 544.1 L183.8 541.7 L184.0 547.6 L184.3 544.6 L184.6 548.6 L184.8 544.2 L185.1 545.8 L185.3 546.7 L185.6 544.3 L185.9 537.0 L186.1 545.0 L186.4 545.8 L186.6 539.8 L186.9 543.3 L187.1 536.2 L187.4 539.6 L187.7 541.0 L187.9 540.3 L188.2 534.9 L188.4 537.2 L188.7 538.4 L189.0 539.7 L189.2 546.7 L189.5 546.3 L189.7 537.4 L190.0 537.1 L190.3 538.1 L190.5 537.9 L190.8 542.2 L191.0 540.1 L191.3 544.1 L191.6 540.4 L191.8 543.4 L192.1 542.4 L192.3 539.6 L192.6 541.6 L192.8 538.5 L193.1 538.3 L193.4 538.5 L193.6 535.0 L193.9 544.2 L194.1 547.4 L194.4 540.1 L194.7 536.7 L194.9 531.7 L195.2 534.8 L195.4 535.4 L195.7 541.9 L196.0 537.7 L196.2 536.7 L196.5 542.8 L196.7 543.9 L197.0 541.4 L197.3 539.1 L197.5 550.2 L197.8 542.5 L198.0 539.5 L198.3 540.1 L198.5 538.6 L198.8 537.4 L199.1 542.4 L199.3 538.6 L199.6 539.8 L199.8 542.7 L200.1 539.3 L200.4 533.5 L200.6 542.6 L200.9 546.0 L201.1 547.0 L201.4 533.9 L201.7 538.1 L201.9 538.6 L202.2 541.4 L202.4 542.8 L202.7 547.1 L203.0 540.3 L203.2 537.9 L203.5 545.3 L203.7 544.1 L204.0 542.6 L204.2 539.5 L204.5 537.5 L204.8 533.6 L205.0 531.5 L205.3 532.0 L205.5 531.0 L205.8 539.9 L206.1 540.3 L206.3 534.1 L206.6 535.4 L206.8 536.7 L207.1 544.4 L207.4 546.3 L207.6 537.3 L207.9 536.0 L208.1 538.0 L208.4 539.0 L208.6 544.1 L208.9 537.9 L209.2 533.6 L209.4 530.0 L209.7 534.8 L209.9 537.2 L210.2 541.1 L210.5 533.8 L210.7 529.8 L211.0 537.1 L211.2 535.9 L211.5 536.3 L211.8 538.8 L212.0 546.7 L212.3 541.2 L212.5 535.9 L212.8 541.9 L213.1 541.4 L213.3 550.2 L213.6 536.1 L213.8 534.7 L214.1 535.9 L214.3 537.4 L214.6 539.2 L214.9 537.7 L215.1 538.1 L215.4 537.9 L215.6 537.1 L215.9 536.2 L216.2 530.7 L216.4 540.1 L216.7 536.6 L216.9 538.8 L217.2 541.3 L217.5 546.6 L217.7 537.2 L218.0 540.2 L218.2 540.3 L218.5 535.8 L218.8 540.1 L219.0 537.4 L219.3 536.9 L219.5 533.5 L219.8 531.7 L220.0 538.0 L220.3 533.4 L220.6 535.7 L220.8 535.5 L221.1 536.7 L221.3 533.4 L221.6 539.7 L221.9 536.2 L222.1 531.7 L222.4 535.8 L222.6 528.4 L222.9 536.4 L223.2 535.3 L223.4 537.5 L223.7 538.6 L223.9 540.8 L224.2 539.3 L224.5 537.0 L224.7 539.1 L225.0 533.5 L225.2 529.5 L225.5 539.4 L225.7 533.7 L226.0 534.4 L226.3 534.4 L226.5 526.2 L226.8 528.3 L227.0 532.2 L227.3 533.8 L227.6 542.9 L227.8 534.8 L228.1 538.0 L228.3 535.5 L228.6 535.0 L228.9 531.7 L229.1 526.8 L229.4 529.1 L229.6 528.7 L229.9 534.1 L230.2 533.2 L230.4 531.8 L230.7 539.6 L230.9 529.1 L231.2 536.1 L231.4 540.4 L231.7 531.0 L232.0 526.4 L232.2 535.4 L232.5 537.8 L232.7 524.9 L233.0 532.1 L233.3 542.0 L233.5 539.9 L233.8 529.7 L234.0 531.7 L234.3 531.9 L234.6 530.3 L234.8 531.9 L235.1 536.1 L235.3 542.0 L235.6 536.3 L235.9 540.4 L236.1 537.8 L236.4 530.3 L236.6 532.6 L236.9 535.1 L237.1 535.9 L237.4 533.7 L237.7 532.3 L237.9 540.2 L238.2 537.1 L238.4 530.6 L238.7 532.2 L239.0 538.3 L239.2 539.8 L239.5 545.4 L239.7 542.4 L240.0 532.8 L240.3 536.1 L240.5 540.0 L240.8 540.1 L241.0 538.5 L241.3 538.1 L241.6 538.9 L241.8 540.7 L242.1 536.2 L242.3 531.7 L242.6 538.2 L242.8 540.2 L243.1 534.5 L243.4 542.7 L243.6 542.1 L243.9 541.3 L244.1 539.2 L244.4 540.3 L244.7 543.0 L244.9 539.6 L245.2 544.2 L245.4 547.7 L245.7 550.0 L246.0 540.6 L246.2 547.1 L246.5 541.1 L246.7 538.6 L247.0 537.5 L247.3 540.9 L247.5 543.5 L247.8 542.0 L248.0 544.2 L248.3 547.6 L248.5 539.4 L248.8 544.9 L249.1 536.9 L249.3 539.3 L249.6 543.7 L249.8 541.9 L250.1 538.6 L250.4 547.3 L250.6 548.4 L250.9 549.3 L251.1 545.2 L251.4 543.3 L251.7 544.2 L251.9 547.4 L252.2 547.8 L252.4 541.7 L252.7 540.3 L253.0 543.6 L253.2 550.0 L253.5 545.0 L253.7 544.6 L254.0 544.5 L254.2 539.0 L254.5 540.6 L254.8 547.7 L255.0 549.7 L255.3 541.6 L255.5 543.4 L255.8 541.4 L256.1 544.4 L256.3 548.3 L256.6 544.7 L256.8 538.8 L257.1 541.5 L257.4 547.6 L257.6 546.3 L257.9 546.5 L258.1 544.1 L258.4 540.1 L258.6 535.4 L258.9 540.3 L259.2 544.1 L259.4 543.3 L259.7 543.2 L259.9 544.7 L260.2 543.4 L260.5 543.1 L260.7 547.2 L261.0 542.1 L261.2 543.8 L261.5 546.5 L261.8 541.9 L262.0 544.0 L262.3 536.4 L262.5 538.7 L262.8 540.8 L263.1 544.4 L263.3 544.1 L263.6 539.4 L263.8 543.6 L264.1 539.4 L264.3 548.6 L264.6 542.9 L264.9 538.8 L265.1 539.3 L265.4 540.6 L265.6 537.3 L265.9 543.0 L266.2 545.2 L266.4 541.7 L266.7 536.6 L266.9 537.8 L267.2 540.4 L267.5 539.3 L267.7 538.4 L268.0 544.3 L268.2 551.7 L268.5 547.3 L268.8 547.6 L269.0 544.3 L269.3 545.5 L269.5 544.6 L269.8 539.5 L270.0 539.1 L270.3 539.4 L270.6 533.2 L270.8 539.0 L271.1 540.4 L271.3 534.7 L271.6 541.7 L271.9 545.6 L272.1 535.9 L272.4 536.5 L272.6 535.6 L272.9 535.2 L273.2 534.0 L273.4 538.6 L273.7 538.4 L273.9 542.1 L274.2 538.6 L274.5 537.1 L274.7 539.1 L275.0 535.5 L275.2 525.9 L275.5 538.1 L275.7 534.4 L276.0 532.8 L276.3 531.7 L276.5 538.2 L276.8 532.8 L277.0 533.1 L277.3 536.1 L277.6 537.8 L277.8 536.1 L278.1 533.1 L278.3 532.3 L278.6 526.9 L278.9 535.0 L279.1 533.8 L279.4 537.3 L279.6 533.9 L279.9 535.3 L280.2 538.4 L280.4 542.0 L280.7 541.0 L280.9 537.0 L281.2 531.3 L281.4 532.1 L281.7 539.6 L282.0 539.3 L282.2 537.3 L282.5 537.3 L282.7 536.7 L283.0 533.9 L283.3 535.2 L283.5 538.9 L283.8 544.6 L284.0 540.5 L284.3 544.3 L284.6 539.8 L284.8 536.8 L285.1 542.0 L285.3 539.2 L285.6 539.1 L285.9 530.9 L286.1 533.8 L286.4 543.3 L286.6 537.6 L286.9 536.0 L287.1 537.8 L287.4 539.0 L287.7 535.8 L287.9 534.7 L288.2 535.2 L288.4 540.6 L288.7 539.5 L289.0 544.0 L289.2 545.1 L289.5 542.0 L289.7 542.9 L290.0 540.9 L290.3 529.6 L290.5 533.6 L290.8 539.8 L291.0 546.4 L291.3 543.6 L291.6 544.9 L291.8 548.1 L292.1 538.4 L292.3 539.9 L292.6 537.0 L292.8 526.4 L293.1 533.5 L293.4 536.3 L293.6 536.2 L293.9 538.5 L294.1 541.2 L294.4 539.8 L294.7 534.4 L294.9 537.9 L295.2 543.0 L295.4 544.1 L295.7 543.6 L296.0 539.6 L296.2 536.7 L296.5 535.8 L296.7 532.9 L297.0 537.2 L297.3 534.6 L297.5 535.7 L297.8 534.6 L298.0 543.6 L298.3 534.9 L298.5 542.5 L298.8 543.3 L299.1 536.5 L299.3 538.7 L299.6 531.4 L299.8 535.1 L300.1 540.6" fill="none" stroke="#35617f" stroke-width="1.25" stroke-linejoin="round" clip-path="url(#cc)"/>
<path d="M67.2 672.9 L67.5 660.0 L67.7 664.4 L68.0 656.4 L68.2 651.2 L68.5 647.3 L68.8 647.8 L69.0 644.9 L69.3 647.6 L69.5 648.0 L69.8 649.4 L70.0 654.4 L70.3 656.1 L70.6 652.5 L70.8 654.0 L71.1 648.1 L71.3 644.9 L71.6 641.5 L71.9 646.1 L72.1 642.3 L72.4 648.0 L72.6 649.9 L72.9 647.1 L73.2 644.3 L73.4 649.1 L73.7 651.3 L73.9 644.4 L74.2 644.7 L74.5 636.0 L74.7 633.6 L75.0 631.8 L75.2 630.2 L75.5 626.0 L75.7 626.7 L76.0 621.6 L76.3 623.9 L76.5 623.0 L76.8 625.4 L77.0 622.1 L77.3 622.6 L77.6 626.2 L77.8 617.7 L78.1 622.2 L78.3 623.6 L78.6 622.6 L78.9 617.3 L79.1 621.6 L79.4 620.8 L79.6 622.7 L79.9 629.5 L80.2 624.8 L80.4 621.6 L80.7 624.8 L80.9 625.7 L81.2 631.8 L81.4 635.3 L81.7 633.1 L82.0 628.6 L82.2 630.6 L82.5 629.1 L82.7 626.0 L83.0 628.0 L83.3 627.5 L83.5 624.2 L83.8 632.9 L84.0 630.1 L84.3 638.8 L84.6 634.7 L84.8 633.8 L85.1 636.4 L85.3 640.0 L85.6 638.2 L85.9 638.9 L86.1 637.0 L86.4 639.8 L86.6 635.8 L86.9 639.7 L87.1 638.8 L87.4 638.7 L87.7 632.4 L87.9 639.7 L88.2 639.2 L88.4 632.9 L88.7 636.7 L89.0 640.8 L89.2 637.0 L89.5 637.3 L89.7 633.1 L90.0 637.7 L90.3 635.8 L90.5 633.0 L90.8 630.1 L91.0 636.9 L91.3 630.5 L91.6 636.3 L91.8 641.5 L92.1 641.9 L92.3 637.8 L92.6 637.6 L92.8 634.6 L93.1 632.8 L93.4 632.6 L93.6 634.7 L93.9 627.7 L94.1 639.8 L94.4 643.9 L94.7 641.3 L94.9 642.8 L95.2 648.6 L95.4 644.7 L95.7 642.7 L96.0 648.2 L96.2 638.2 L96.5 631.4 L96.7 628.3 L97.0 633.6 L97.3 633.7 L97.5 638.7 L97.8 636.1 L98.0 638.2 L98.3 635.0 L98.5 636.4 L98.8 631.7 L99.1 630.2 L99.3 627.8 L99.6 637.9 L99.8 643.8 L100.1 638.0 L100.4 639.0 L100.6 635.6 L100.9 634.4 L101.1 634.2 L101.4 631.2 L101.7 631.2 L101.9 631.5 L102.2 637.1 L102.4 629.5 L102.7 632.1 L103.0 629.5 L103.2 631.4 L103.5 628.5 L103.7 631.6 L104.0 632.9 L104.2 633.9 L104.5 637.8 L104.8 639.3 L105.0 638.5 L105.3 638.0 L105.5 641.3 L105.8 629.6 L106.1 637.3 L106.3 638.5 L106.6 628.0 L106.8 635.0 L107.1 630.4 L107.4 627.4 L107.6 628.2 L107.9 632.3 L108.1 633.7 L108.4 626.9 L108.7 620.6 L108.9 626.7 L109.2 619.4 L109.4 619.6 L109.7 612.6 L109.9 611.7 L110.2 615.5 L110.5 615.3 L110.7 612.6 L111.0 604.2 L111.2 590.3 L111.5 596.9 L111.8 601.2 L112.0 599.7 L112.3 602.3 L112.5 599.3 L112.8 598.8 L113.1 600.5 L113.3 606.1 L113.6 602.4 L113.8 595.2 L114.1 597.1 L114.3 587.8 L114.6 586.8 L114.9 593.8 L115.1 583.2 L115.4 599.2 L115.6 589.6 L115.9 578.9 L116.2 590.0 L116.4 594.3 L116.7 587.6 L116.9 579.7 L117.2 583.9 L117.5 587.5 L117.7 583.1 L118.0 586.5 L118.2 601.5 L118.5 599.2 L118.8 594.4 L119.0 604.7 L119.3 591.0 L119.5 593.6 L119.8 580.0 L120.0 592.8 L120.3 592.7 L120.6 596.5 L120.8 571.8 L121.1 558.3 L121.3 548.6 L121.6 542.6 L121.9 543.7 L122.1 544.7 L122.4 569.5 L122.6 562.8 L122.9 567.1 L123.2 567.4 L123.4 575.8 L123.7 556.2 L123.9 557.0 L124.2 572.6 L124.5 561.6 L124.7 561.6 L125.0 570.5 L125.2 568.0 L125.5 571.1 L125.7 586.8 L126.0 587.4 L126.3 568.7 L126.5 560.9 L126.8 557.6 L127.0 569.3 L127.3 569.7 L127.6 563.6 L127.8 554.7 L128.1 564.5 L128.3 571.4 L128.6 554.3 L128.9 555.8 L129.1 560.6 L129.4 566.4 L129.6 568.4 L129.9 548.5 L130.2 544.2 L130.4 555.0 L130.7 568.1 L130.9 547.4 L131.2 537.9 L131.4 536.6 L131.7 539.2 L132.0 566.0 L132.2 573.8 L132.5 560.3 L132.7 561.5 L133.0 557.0 L133.3 562.0 L133.5 565.6 L133.8 556.2 L134.0 560.3 L134.3 558.6 L134.6 555.3 L134.8 553.8 L135.1 544.4 L135.3 537.7 L135.6 559.9 L135.9 560.6 L136.1 564.5 L136.4 553.4 L136.6 564.8 L136.9 553.2 L137.1 548.2 L137.4 546.9 L137.7 560.8 L137.9 560.8 L138.2 568.9 L138.4 559.2 L138.7 549.2 L139.0 567.4 L139.2 570.1 L139.5 565.3 L139.7 566.4 L140.0 548.1 L140.3 554.3 L140.5 553.7 L140.8 566.2 L141.0 547.8 L141.3 551.5 L141.6 547.7 L141.8 526.4 L142.1 575.2 L142.3 581.9 L142.6 582.4 L142.8 566.3 L143.1 567.4 L143.4 559.3 L143.6 556.7 L143.9 555.7 L144.1 549.1 L144.4 552.7 L144.7 571.6 L144.9 572.1 L145.2 550.6 L145.4 565.4 L145.7 550.1 L146.0 539.8 L146.2 555.7 L146.5 527.7 L146.7 570.9 L147.0 558.7 L147.3 567.1 L147.5 576.3 L147.8 572.4 L148.0 571.1 L148.3 571.8 L148.5 564.8 L148.8 564.8 L149.1 569.5 L149.3 556.8 L149.6 536.8 L149.8 548.8 L150.1 562.0 L150.4 571.4 L150.6 561.3 L150.9 564.2 L151.1 563.2 L151.4 581.5 L151.7 582.6 L151.9 583.5 L152.2 564.4 L152.4 566.2 L152.7 587.8 L153.0 570.9 L153.2 556.5 L153.5 547.7 L153.7 581.7 L154.0 571.1 L154.2 559.8 L154.5 556.1 L154.8 562.1 L155.0 579.8 L155.3 575.9 L155.5 573.0 L155.8 563.2 L156.1 557.7 L156.3 563.3 L156.6 555.9 L156.8 570.0 L157.1 573.7 L157.4 569.4 L157.6 561.7 L157.9 566.3 L158.1 554.1 L158.4 555.7 L158.7 569.3 L158.9 566.4 L159.2 574.1 L159.4 578.7 L159.7 585.4 L159.9 562.4 L160.2 555.6 L160.5 575.5 L160.7 560.1 L161.0 553.8 L161.2 562.9 L161.5 559.4 L161.8 541.4 L162.0 550.6 L162.3 553.9 L162.5 549.0 L162.8 566.6 L163.1 577.6 L163.3 584.4 L163.6 575.3 L163.8 561.9 L164.1 571.3 L164.3 580.7 L164.6 570.6 L164.9 570.8 L165.1 561.7 L165.4 564.0 L165.6 565.5 L165.9 565.3 L166.2 564.0 L166.4 572.7 L166.7 578.5 L166.9 556.0 L167.2 530.8 L167.5 536.5 L167.7 564.9 L168.0 563.6 L168.2 552.1 L168.5 572.5 L168.8 572.1 L169.0 571.1 L169.3 575.4 L169.5 576.7 L169.8 560.1 L170.0 565.4 L170.3 565.9 L170.6 548.0 L170.8 563.0 L171.1 580.3 L171.3 565.1 L171.6 544.7 L171.9 551.3 L172.1 553.7 L172.4 569.7 L172.6 574.5 L172.9 554.4 L173.2 546.3 L173.4 548.5 L173.7 561.1 L173.9 572.5 L174.2 576.9 L174.5 580.2 L174.7 565.3 L175.0 570.9 L175.2 571.0 L175.5 560.0 L175.7 554.7 L176.0 557.9 L176.3 555.5 L176.5 558.7 L176.8 578.5 L177.0 571.0 L177.3 570.5 L177.6 569.6 L177.8 563.6 L178.1 568.2 L178.3 553.7 L178.6 559.5 L178.9 559.2 L179.1 557.5 L179.4 561.4 L179.6 555.6 L179.9 551.7 L180.2 550.9 L180.4 563.0 L180.7 570.9 L180.9 572.1 L181.2 567.0 L181.4 582.0 L181.7 579.9 L182.0 581.8 L182.2 578.2 L182.5 578.8 L182.7 562.8 L183.0 558.2 L183.3 551.2 L183.5 565.8 L183.8 570.8 L184.0 568.3 L184.3 549.4 L184.6 540.0 L184.8 554.9 L185.1 551.5 L185.3 537.2 L185.6 555.7 L185.9 557.7 L186.1 547.0 L186.4 546.1 L186.6 557.9 L186.9 545.5 L187.1 543.1 L187.4 543.8 L187.7 556.6 L187.9 555.5 L188.2 545.5 L188.4 547.4 L188.7 549.0 L189.0 557.5 L189.2 553.4 L189.5 562.5 L189.7 562.5 L190.0 567.1 L190.3 577.1 L190.5 572.1 L190.8 582.1 L191.0 584.1 L191.3 581.2 L191.6 586.8 L191.8 591.4 L192.1 586.3 L192.3 585.2 L192.6 584.1 L192.8 580.1 L193.1 570.4 L193.4 577.5 L193.6 568.5 L193.9 573.8 L194.1 578.0 L194.4 591.8 L194.7 593.6 L194.9 586.6 L195.2 581.9 L195.4 585.7 L195.7 582.6 L196.0 578.4 L196.2 582.8 L196.5 589.8 L196.7 590.4 L197.0 587.7 L197.3 583.8 L197.5 579.7 L197.8 585.2 L198.0 583.7 L198.3 584.3 L198.5 583.3 L198.8 578.1 L199.1 574.6 L199.3 580.8 L199.6 584.4 L199.8 586.6 L200.1 587.0 L200.4 586.7 L200.6 585.5 L200.9 586.4 L201.1 589.4 L201.4 591.3 L201.7 586.9 L201.9 574.1 L202.2 576.1 L202.4 576.6 L202.7 578.3 L203.0 581.4 L203.2 573.4 L203.5 579.6 L203.7 585.7 L204.0 589.9 L204.2 585.7 L204.5 588.9 L204.8 589.9 L205.0 590.5 L205.3 592.7 L205.5 587.3 L205.8 592.8 L206.1 578.0 L206.3 592.9 L206.6 594.4 L206.8 588.6 L207.1 584.1 L207.4 585.0 L207.6 582.5 L207.9 581.6 L208.1 581.3 L208.4 579.0 L208.6 579.2 L208.9 580.7 L209.2 581.5 L209.4 577.3 L209.7 579.7 L209.9 577.5 L210.2 571.8 L210.5 574.1 L210.7 571.5 L211.0 577.4 L211.2 577.0 L211.5 575.7 L211.8 576.2 L212.0 575.2 L212.3 570.5 L212.5 575.6 L212.8 579.7 L213.1 577.2 L213.3 583.7 L213.6 580.5 L213.8 573.4 L214.1 575.1 L214.3 573.4 L214.6 573.1 L214.9 569.3 L215.1 570.3 L215.4 572.1 L215.6 588.5 L215.9 584.1 L216.2 576.4 L216.4 576.5 L216.7 579.4 L216.9 573.6 L217.2 578.7 L217.5 579.0 L217.7 574.7 L218.0 578.0 L218.2 576.6 L218.5 576.9 L218.8 582.4 L219.0 582.3 L219.3 581.6 L219.5 582.6 L219.8 575.5 L220.0 577.0 L220.3 580.6 L220.6 585.8 L220.8 583.8 L221.1 575.6 L221.3 578.8 L221.6 575.8 L221.9 575.7 L222.1 580.1 L222.4 584.2 L222.6 579.8 L222.9 587.5 L223.2 581.5 L223.4 586.4 L223.7 579.8 L223.9 582.1 L224.2 582.0 L224.5 577.0 L224.7 583.7 L225.0 582.4 L225.2 583.5 L225.5 580.5 L225.7 578.1 L226.0 578.9 L226.3 579.8 L226.5 583.0 L226.8 580.2 L227.0 582.6 L227.3 582.3 L227.6 582.0 L227.8 588.7 L228.1 591.2 L228.3 586.5 L228.6 585.3 L228.9 579.2 L229.1 592.5 L229.4 587.6 L229.6 581.3 L229.9 582.6 L230.2 580.4 L230.4 582.6 L230.7 584.0 L230.9 580.5 L231.2 588.4 L231.4 596.6 L231.7 588.7 L232.0 586.3 L232.2 585.2 L232.5 583.9 L232.7 581.7 L233.0 585.5 L233.3 583.3 L233.5 582.8 L233.8 589.1 L234.0 587.8 L234.3 585.4 L234.6 588.8 L234.8 582.5 L235.1 585.2 L235.3 581.8 L235.6 577.2 L235.9 587.8 L236.1 592.5 L236.4 586.4 L236.6 586.7 L236.9 583.8 L237.1 577.1 L237.4 583.4 L237.7 580.7 L237.9 584.3 L238.2 587.8 L238.4 584.6 L238.7 584.0 L239.0 580.1 L239.2 581.5 L239.5 579.7 L239.7 580.4 L240.0 590.6 L240.3 589.8 L240.5 589.2 L240.8 583.6 L241.0 589.3 L241.3 586.8 L241.6 588.1 L241.8 595.0 L242.1 591.1 L242.3 585.7 L242.6 587.4 L242.8 582.5 L243.1 582.5 L243.4 582.8 L243.6 586.6 L243.9 586.9 L244.1 584.3 L244.4 585.0 L244.7 590.9 L244.9 589.1 L245.2 585.7 L245.4 580.8 L245.7 579.6 L246.0 587.1 L246.2 583.4 L246.5 591.7 L246.7 591.7 L247.0 592.4 L247.3 582.4 L247.5 581.1 L247.8 582.2 L248.0 586.8 L248.3 580.8 L248.5 584.4 L248.8 583.1 L249.1 579.6 L249.3 584.0 L249.6 582.5 L249.8 592.9 L250.1 586.8 L250.4 593.8 L250.6 588.0 L250.9 585.6 L251.1 583.6 L251.4 574.5 L251.7 591.1 L251.9 586.4 L252.2 587.8 L252.4 583.5 L252.7 583.2 L253.0 584.0 L253.2 587.1 L253.5 589.6 L253.7 586.1 L254.0 592.5 L254.2 584.3 L254.5 587.5 L254.8 584.5 L255.0 590.2 L255.3 585.8 L255.5 586.6 L255.8 582.6 L256.1 578.6 L256.3 584.3 L256.6 584.3 L256.8 583.7 L257.1 578.0 L257.4 587.3 L257.6 583.6 L257.9 584.4 L258.1 590.1 L258.4 589.0 L258.6 590.0 L258.9 582.6 L259.2 587.9 L259.4 581.9 L259.7 585.4 L259.9 582.1 L260.2 591.0 L260.5 591.2 L260.7 587.3 L261.0 590.0 L261.2 594.2 L261.5 589.3 L261.8 583.5 L262.0 584.0 L262.3 585.2 L262.5 583.0 L262.8 585.6 L263.1 580.9 L263.3 577.8 L263.6 586.7 L263.8 580.9 L264.1 579.6 L264.3 580.6 L264.6 579.4 L264.9 575.4 L265.1 571.3 L265.4 570.4 L265.6 578.2 L265.9 575.1 L266.2 586.8 L266.4 581.2 L266.7 579.2 L266.9 576.9 L267.2 584.0 L267.5 577.2 L267.7 574.5 L268.0 577.8 L268.2 586.6 L268.5 583.2 L268.8 586.7 L269.0 591.6 L269.3 590.2 L269.5 575.9 L269.8 585.7 L270.0 585.5 L270.3 583.1 L270.6 578.5 L270.8 584.8 L271.1 587.8 L271.3 581.0 L271.6 580.3 L271.9 575.7 L272.1 584.0 L272.4 583.4 L272.6 578.5 L272.9 579.6 L273.2 585.6 L273.4 583.0 L273.7 590.6 L273.9 589.4 L274.2 582.0 L274.5 577.7 L274.7 577.7 L275.0 576.3 L275.2 585.4 L275.5 586.0 L275.7 578.8 L276.0 569.7 L276.3 573.2 L276.5 581.0 L276.8 585.0 L277.0 577.3 L277.3 573.9 L277.6 582.3 L277.8 580.5 L278.1 574.0 L278.3 570.5 L278.6 577.3 L278.9 579.0 L279.1 577.0 L279.4 582.8 L279.6 588.0 L279.9 586.3 L280.2 577.1 L280.4 572.9 L280.7 573.4 L280.9 580.9 L281.2 588.1 L281.4 587.6 L281.7 583.0 L282.0 576.6 L282.2 582.1 L282.5 580.8 L282.7 588.7 L283.0 594.2 L283.3 587.9 L283.5 590.2 L283.8 590.9 L284.0 597.0 L284.3 586.6 L284.6 593.2 L284.8 588.6 L285.1 593.3 L285.3 591.0 L285.6 582.4 L285.9 583.2 L286.1 584.3 L286.4 581.7 L286.6 582.2 L286.9 578.8 L287.1 589.9 L287.4 583.2 L287.7 585.7 L287.9 592.1 L288.2 588.2 L288.4 586.7 L288.7 588.3 L289.0 585.3 L289.2 593.5 L289.5 599.2 L289.7 597.3 L290.0 589.0 L290.3 587.4 L290.5 588.9 L290.8 592.6 L291.0 591.7 L291.3 586.1 L291.6 591.0 L291.8 593.6 L292.1 590.4 L292.3 587.9 L292.6 588.9 L292.8 583.8 L293.1 586.7 L293.4 593.4 L293.6 602.2 L293.9 591.7 L294.1 592.4 L294.4 590.7 L294.7 589.3 L294.9 584.6 L295.2 583.7 L295.4 583.5 L295.7 586.6 L296.0 590.4 L296.2 590.1 L296.5 594.9 L296.7 592.0 L297.0 587.6 L297.3 586.9 L297.5 589.2 L297.8 594.9 L298.0 597.8 L298.3 598.7 L298.5 597.8 L298.8 593.6 L299.1 591.4 L299.3 590.0 L299.6 587.4 L299.8 594.9 L300.1 595.4" fill="none" stroke="#a8325e" stroke-width="1.2" stroke-linejoin="round" clip-path="url(#cc)"/>
<line x1="64.0" y1="663.2" x2="67.2" y2="663.2" stroke="#444" stroke-width="0.9"/>
<text x="62.900000000000006" y="665.184" font-size="5.4" text-anchor="end" fill="#333" font-weight="normal" font-family='"Liberation Sans", sans-serif' textLength="8.59" lengthAdjust="spacingAndGlyphs" stroke="#333" stroke-width="0.25">0.4</text>
<line x1="64.0" y1="645.9" x2="67.2" y2="645.9" stroke="#444" stroke-width="0.9"/>
<text x="62.900000000000006" y="647.824" font-size="5.4" text-anchor="end" fill="#333" font-weight="normal" font-family='"Liberation Sans", sans-serif' textLength="8.59" lengthAdjust="spacingAndGlyphs" stroke="#333" stroke-width="0.25">0.8</text>
<line x1="64.0" y1="628.5" x2="67.2" y2="628.5" stroke="#444" stroke-width="0.9"/>
<text x="62.900000000000006" y="630.4639999999999" font-size="5.4" text-anchor="end" fill="#333" font-weight="normal" font-family='"Liberation Sans", sans-serif' textLength="8.59" lengthAdjust="spacingAndGlyphs" stroke="#333" stroke-width="0.25">1.2</text>
<line x1="64.0" y1="611.2" x2="67.2" y2="611.2" stroke="#444" stroke-width="0.9"/>
<text x="62.900000000000006" y="613.104" font-size="5.4" text-anchor="end" fill="#333" font-weight="normal" font-family='"Liberation Sans", sans-serif' textLength="8.59" lengthAdjust="spacingAndGlyphs" stroke="#333" stroke-width="0.25">1.6</text>
<line x1="64.0" y1="593.8" x2="67.2" y2="593.8" stroke="#444" stroke-width="0.9"/>
<text x="62.900000000000006" y="595.744" font-size="5.4" text-anchor="end" fill="#333" font-weight="normal" font-family='"Liberation Sans", sans-serif' textLength="8.59" lengthAdjust="spacingAndGlyphs" stroke="#333" stroke-width="0.25">2.0</text>
<line x1="64.0" y1="576.4" x2="67.2" y2="576.4" stroke="#444" stroke-width="0.9"/>
<text x="62.900000000000006" y="578.384" font-size="5.4" text-anchor="end" fill="#333" font-weight="normal" font-family='"Liberation Sans", sans-serif' textLength="8.59" lengthAdjust="spacingAndGlyphs" stroke="#333" stroke-width="0.25">2.4</text>
<line x1="64.0" y1="559.1" x2="67.2" y2="559.1" stroke="#444" stroke-width="0.9"/>
<text x="62.900000000000006" y="561.024" font-size="5.4" text-anchor="end" fill="#333" font-weight="normal" font-family='"Liberation Sans", sans-serif' textLength="8.59" lengthAdjust="spacingAndGlyphs" stroke="#333" stroke-width="0.25">2.8</text>
<line x1="64.0" y1="541.7" x2="67.2" y2="541.7" stroke="#444" stroke-width="0.9"/>
<text x="62.900000000000006" y="543.664" font-size="5.4" text-anchor="end" fill="#333" font-weight="normal" font-family='"Liberation Sans", sans-serif' textLength="8.59" lengthAdjust="spacingAndGlyphs" stroke="#333" stroke-width="0.25">3.2</text>
<line x1="64.0" y1="524.4" x2="67.2" y2="524.4" stroke="#444" stroke-width="0.9"/>
<text x="62.900000000000006" y="526.304" font-size="5.4" text-anchor="end" fill="#333" font-weight="normal" font-family='"Liberation Sans", sans-serif' textLength="8.59" lengthAdjust="spacingAndGlyphs" stroke="#333" stroke-width="0.25">3.6</text>
<line x1="300.2" y1="660.3" x2="302.7" y2="660.3" stroke="#a8325e" stroke-width="0.6"/>
<text x="304.5" y="662.249" font-size="5.4" text-anchor="start" fill="#a8325e" font-weight="normal" font-family='"Liberation Sans", sans-serif' textLength="8.59" lengthAdjust="spacingAndGlyphs" stroke="#a8325e" stroke-width="0.25">1.5</text>
<line x1="300.2" y1="640.0" x2="302.7" y2="640.0" stroke="#a8325e" stroke-width="0.6"/>
<text x="304.5" y="641.954" font-size="5.4" text-anchor="start" fill="#a8325e" font-weight="normal" font-family='"Liberation Sans", sans-serif' textLength="8.59" lengthAdjust="spacingAndGlyphs" stroke="#a8325e" stroke-width="0.25">3.0</text>
<line x1="300.2" y1="619.7" x2="302.7" y2="619.7" stroke="#a8325e" stroke-width="0.6"/>
<text x="304.5" y="621.659" font-size="5.4" text-anchor="start" fill="#a8325e" font-weight="normal" font-family='"Liberation Sans", sans-serif' textLength="8.59" lengthAdjust="spacingAndGlyphs" stroke="#a8325e" stroke-width="0.25">4.5</text>
<line x1="300.2" y1="599.4" x2="302.7" y2="599.4" stroke="#a8325e" stroke-width="0.6"/>
<text x="304.5" y="601.364" font-size="5.4" text-anchor="start" fill="#a8325e" font-weight="normal" font-family='"Liberation Sans", sans-serif' textLength="8.59" lengthAdjust="spacingAndGlyphs" stroke="#a8325e" stroke-width="0.25">6.0</text>
<line x1="300.2" y1="579.1" x2="302.7" y2="579.1" stroke="#a8325e" stroke-width="0.6"/>
<text x="304.5" y="581.069" font-size="5.4" text-anchor="start" fill="#a8325e" font-weight="normal" font-family='"Liberation Sans", sans-serif' textLength="8.59" lengthAdjust="spacingAndGlyphs" stroke="#a8325e" stroke-width="0.25">7.5</text>
<line x1="300.2" y1="558.8" x2="302.7" y2="558.8" stroke="#a8325e" stroke-width="0.6"/>
<text x="304.5" y="560.774" font-size="5.4" text-anchor="start" fill="#a8325e" font-weight="normal" font-family='"Liberation Sans", sans-serif' textLength="8.59" lengthAdjust="spacingAndGlyphs" stroke="#a8325e" stroke-width="0.25">9.0</text>
<line x1="300.2" y1="538.5" x2="302.7" y2="538.5" stroke="#a8325e" stroke-width="0.6"/>
<text x="304.5" y="540.479" font-size="5.4" text-anchor="start" fill="#a8325e" font-weight="normal" font-family='"Liberation Sans", sans-serif' textLength="12.02" lengthAdjust="spacingAndGlyphs" stroke="#a8325e" stroke-width="0.25">10.5</text>
<line x1="67.2" y1="680.6" x2="67.2" y2="683.6" stroke="#444" stroke-width="0.9"/>
<text x="67.2" y="687.65" font-size="5.4" text-anchor="middle" fill="#333" font-weight="normal" font-family='"Liberation Sans", sans-serif' textLength="3.43" lengthAdjust="spacingAndGlyphs" stroke="#333" stroke-width="0.25">0</text>
<line x1="113.8" y1="680.6" x2="113.8" y2="683.6" stroke="#444" stroke-width="0.9"/>
<text x="113.78000000000002" y="687.65" font-size="5.4" text-anchor="middle" fill="#333" font-weight="normal" font-family='"Liberation Sans", sans-serif' textLength="6.87" lengthAdjust="spacingAndGlyphs" stroke="#333" stroke-width="0.25">20</text>
<line x1="160.4" y1="680.6" x2="160.4" y2="683.6" stroke="#444" stroke-width="0.9"/>
<text x="160.36" y="687.65" font-size="5.4" text-anchor="middle" fill="#333" font-weight="normal" font-family='"Liberation Sans", sans-serif' textLength="6.87" lengthAdjust="spacingAndGlyphs" stroke="#333" stroke-width="0.25">40</text>
<line x1="206.9" y1="680.6" x2="206.9" y2="683.6" stroke="#444" stroke-width="0.9"/>
<text x="206.94" y="687.65" font-size="5.4" text-anchor="middle" fill="#333" font-weight="normal" font-family='"Liberation Sans", sans-serif' textLength="6.87" lengthAdjust="spacingAndGlyphs" stroke="#333" stroke-width="0.25">60</text>
<line x1="253.5" y1="680.6" x2="253.5" y2="683.6" stroke="#444" stroke-width="0.9"/>
<text x="253.52000000000004" y="687.65" font-size="5.4" text-anchor="middle" fill="#333" font-weight="normal" font-family='"Liberation Sans", sans-serif' textLength="6.87" lengthAdjust="spacingAndGlyphs" stroke="#333" stroke-width="0.25">80</text>
<line x1="300.1" y1="680.6" x2="300.1" y2="683.6" stroke="#444" stroke-width="0.9"/>
<text x="300.1" y="687.65" font-size="5.4" text-anchor="middle" fill="#333" font-weight="normal" font-family='"Liberation Sans", sans-serif' textLength="10.3" lengthAdjust="spacingAndGlyphs" stroke="#333" stroke-width="0.25">100</text>
<text x="183.3" y="695.8" font-size="9.5" text-anchor="middle" fill="#222" font-weight="normal" font-family='"Liberation Sans", sans-serif' textLength="51" lengthAdjust="spacingAndGlyphs" stroke="#222" stroke-width="0.35">Time (nsec)</text>
<text x="50.8" y="599" font-size="8.4" text-anchor="middle" fill="#222" font-weight="normal" font-family='"Liberation Sans", sans-serif' textLength="62" lengthAdjust="spacingAndGlyphs" transform="rotate(-90 50.8 599)" stroke="#222" stroke-width="0.35">Protein RMSD (Å)</text>
<text x="309.3" y="600" font-size="8.4" text-anchor="middle" fill="#a8325e" font-weight="normal" font-family='"Liberation Sans", sans-serif' textLength="62" lengthAdjust="spacingAndGlyphs" transform="rotate(90 309.3 600)" stroke="#a8325e" stroke-width="0.175">Ligand RMSD(Å)</text>
<rect x="148.5" y="503.5" width="68.0" height="7.0" fill="#fff" stroke="#ddd" stroke-width="0.6" rx="1"/>
<rect x="149" y="504.7" width="9" height="4.6" fill="#35617f"/>
<text x="158.3" y="509.16" font-size="6" text-anchor="start" fill="#222" font-weight="normal" font-family='"Liberation Sans", sans-serif' textLength="6" lengthAdjust="spacingAndGlyphs" stroke="#222" stroke-width="0.12">Cα</text>
<rect x="165" y="504.7" width="10" height="4.6" fill="#a8325e"/>
<text x="175.3" y="509.16" font-size="6" text-anchor="start" fill="#222" font-weight="normal" font-family='"Liberation Sans", sans-serif' textLength="40" lengthAdjust="spacingAndGlyphs" stroke="#222" stroke-width="0.12">(Lig) fit on Prot</text>
<clipPath id="cd"><rect x="402" y="45.3" width="240" height="166.10000000000002"/></clipPath>
<rect x="402" y="45.3" width="240" height="166.10000000000002" fill="none" stroke="#7a7a7a" stroke-width="1.3"/>
<path d="M402.0 178.2 L402.2 180.2 L402.4 173.4 L402.6 174.9 L402.8 168.6 L403.0 174.6 L403.1 175.2 L403.3 182.3 L403.5 180.8 L403.7 180.4 L403.9 170.3 L404.1 171.9 L404.3 161.6 L404.5 170.9 L404.7 167.5 L404.9 175.4 L405.0 175.3 L405.2 179.4 L405.4 172.4 L405.6 176.7 L405.8 170.4 L406.0 176.3 L406.2 174.9 L406.4 183.4 L406.6 182.1 L406.8 183.0 L407.0 173.0 L407.1 173.2 L407.3 162.7 L407.5 170.0 L407.7 170.2 L407.9 177.9 L408.1 176.8 L408.3 179.7 L408.5 172.5 L408.7 172.2 L408.9 166.9 L409.1 173.2 L409.2 169.8 L409.4 177.3 L409.6 174.7 L409.8 175.9 L410.0 168.1 L410.2 166.9 L410.4 157.6 L410.6 166.6 L410.8 164.9 L411.0 174.2 L411.1 149.6 L411.3 131.7 L411.5 93.1 L411.7 123.5 L411.9 56.6 L412.1 109.5 L412.3 52.8 L412.5 123.9 L412.7 61.3 L412.9 130.6 L413.1 71.5 L413.2 137.2 L413.4 86.4 L413.6 127.5 L413.8 100.8 L414.0 110.1 L414.2 110.7 L414.4 101.6 L414.6 82.4 L414.8 100.2 L415.0 109.6 L415.2 95.0 L415.3 73.5 L415.5 90.3 L415.7 98.7 L415.9 86.5 L416.1 64.6 L416.3 56.0 L416.5 37.6 L416.7 30.4 L416.9 48.1 L417.1 104.8 L417.2 60.7 L417.4 120.3 L417.6 66.4 L417.8 125.0 L418.0 71.4 L418.2 124.8 L418.4 84.0 L418.6 103.5 L418.8 115.7 L419.0 126.0 L419.2 125.5 L419.3 138.9 L419.5 138.6 L419.7 150.5 L419.9 152.0 L420.1 161.9 L420.3 164.1 L420.5 171.4 L420.7 172.3 L420.9 178.7 L421.1 179.1 L421.3 183.2 L421.4 178.9 L421.6 183.5 L421.8 181.3 L422.0 181.8 L422.2 172.7 L422.4 169.4 L422.6 154.7 L422.8 146.8 L423.0 128.2 L423.2 124.6 L423.3 111.4 L423.5 126.8 L423.7 107.0 L423.9 96.3 L424.1 110.3 L424.3 100.9 L424.5 83.6 L424.7 114.1 L424.9 92.0 L425.1 80.8 L425.3 109.1 L425.4 105.0 L425.6 90.2 L425.8 107.7 L426.0 114.8 L426.2 109.2 L426.4 91.2 L426.6 105.5 L426.8 107.5 L427.0 100.8 L427.2 82.9 L427.3 78.2 L427.5 62.9 L427.7 55.7 L427.9 43.7 L428.1 40.3 L428.3 28.8 L428.5 34.3 L428.7 27.6 L428.9 32.6 L429.1 27.8 L429.3 33.0 L429.4 27.1 L429.6 31.9 L429.8 26.2 L430.0 35.6 L430.2 37.3 L430.4 46.1 L430.6 47.7 L430.8 44.2 L431.0 32.3 L431.2 48.0 L431.4 52.1 L431.5 45.7 L431.7 34.4 L431.9 50.6 L432.1 57.6 L432.3 51.7 L432.5 37.2 L432.7 58.6 L432.9 73.3 L433.1 80.8 L433.3 79.8 L433.4 87.2 L433.6 68.9 L433.8 60.5 L434.0 43.8 L434.2 34.6 L434.4 29.2 L434.6 33.8 L434.8 30.0 L435.0 34.1 L435.2 28.5 L435.4 34.3 L435.5 28.7 L435.7 45.4 L435.9 51.0 L436.1 45.0 L436.3 29.1 L436.5 38.7 L436.7 38.0 L436.9 46.9 L437.1 48.0 L437.3 42.4 L437.5 26.2 L437.6 32.1 L437.8 26.1 L438.0 32.6 L438.2 29.4 L438.4 34.3 L438.6 29.1 L438.8 47.2 L439.0 55.6 L439.2 70.1 L439.4 75.6 L439.5 71.7 L439.7 62.6 L439.9 79.4 L440.1 86.2 L440.3 87.1 L440.5 81.0 L440.7 95.6 L440.9 101.6 L441.1 100.5 L441.3 89.8 L441.5 108.9 L441.6 114.6 L441.8 115.7 L442.0 106.2 L442.2 120.4 L442.4 128.1 L442.6 127.8 L442.8 116.8 L443.0 131.2 L443.2 137.5 L443.4 136.3 L443.6 127.1 L443.7 138.7 L443.9 143.3 L444.1 139.1 L444.3 128.2 L444.5 141.8 L444.7 100.8 L444.9 81.3 L445.1 91.3 L445.3 119.1 L445.5 136.3 L445.6 155.1 L445.8 163.8 L446.0 181.3 L446.2 187.8 L446.4 191.6 L446.6 186.3 L446.8 189.9 L447.0 185.7 L447.2 188.9 L447.4 185.5 L447.6 189.4 L447.7 182.7 L447.9 186.8 L448.1 182.5 L448.3 177.9 L448.5 173.3 L448.7 168.7 L448.9 173.3 L449.1 177.9 L449.3 182.5 L449.5 187.2 L449.6 191.7 L449.8 189.4 L450.0 188.8 L450.2 188.0 L450.4 186.0 L450.6 186.2 L450.8 183.8 L451.0 181.9 L451.2 181.4 L451.4 183.2 L451.6 182.1 L451.7 178.8 L451.9 175.5 L452.1 178.8 L452.3 182.1 L452.5 185.4 L452.7 188.7 L452.9 191.9 L453.1 193.5 L453.3 192.0 L453.5 192.4 L453.7 191.8 L453.8 190.3 L454.0 191.5 L454.2 191.0 L454.4 189.2 L454.6 189.3 L454.8 188.0 L455.0 188.1 L455.2 188.3 L455.4 188.1 L455.6 188.1 L455.7 188.9 L455.9 190.0 L456.1 190.5 L456.3 191.1 L456.5 187.0 L456.7 181.7 L456.9 176.3 L457.1 171.0 L457.3 165.6 L457.5 171.0 L457.7 176.3 L457.8 181.7 L458.0 187.1 L458.2 190.2 L458.4 190.5 L458.6 189.5 L458.8 187.5 L459.0 187.2 L459.2 185.7 L459.4 183.9 L459.6 184.1 L459.8 185.5 L459.9 185.3 L460.1 187.2 L460.3 188.8 L460.5 189.1 L460.7 190.2 L460.9 191.4 L461.1 191.5 L461.3 192.0 L461.5 193.3 L461.7 192.3 L461.8 192.2 L462.0 192.0 L462.2 192.4 L462.4 191.3 L462.6 190.5 L462.8 190.0 L463.0 190.2 L463.2 188.5 L463.4 188.9 L463.6 187.8 L463.8 186.3 L463.9 188.2 L464.1 188.8 L464.3 188.5 L464.5 188.2 L464.7 186.3 L464.9 184.5 L465.1 186.3 L465.3 188.2 L465.5 190.0 L465.7 192.3 L465.9 192.3 L466.0 192.0 L466.2 191.5 L466.4 190.5 L466.6 190.5 L466.8 189.2 L467.0 188.4 L467.2 188.4 L467.4 187.2 L467.6 185.4 L467.8 185.5 L467.9 186.8 L468.1 187.2 L468.3 188.6 L468.5 188.7 L468.7 189.2 L468.9 190.8 L469.1 184.7 L469.3 177.3 L469.5 170.0 L469.7 162.7 L469.9 155.4 L470.0 148.0 L470.2 155.4 L470.4 162.7 L470.6 170.1 L470.8 177.5 L471.0 184.9 L471.2 188.7 L471.4 186.5 L471.6 180.8 L471.8 175.0 L472.0 169.2 L472.1 175.0 L472.3 180.8 L472.5 186.7 L472.7 191.1 L472.9 190.9 L473.1 191.3 L473.3 191.9 L473.5 193.3 L473.7 192.0 L473.9 192.9 L474.0 192.8 L474.2 192.5 L474.4 192.1 L474.6 191.2 L474.8 191.7 L475.0 188.0 L475.2 183.3 L475.4 178.5 L475.6 173.7 L475.8 178.5 L476.0 183.3 L476.1 187.7 L476.3 187.8 L476.5 189.7 L476.7 189.1 L476.9 190.1 L477.1 191.5 L477.3 191.4 L477.5 193.1 L477.7 193.7 L477.9 193.7 L478.0 193.4 L478.2 193.3 L478.4 193.2 L478.6 192.4 L478.8 193.1 L479.0 191.0 L479.2 191.5 L479.4 190.3 L479.6 189.5 L479.8 188.9 L480.0 185.4 L480.1 181.4 L480.3 177.3 L480.5 181.4 L480.7 185.5 L480.9 189.6 L481.1 190.9 L481.3 191.7 L481.5 191.7 L481.7 193.6 L481.9 192.4 L482.1 193.7 L482.2 194.2 L482.4 193.6 L482.6 193.1 L482.8 193.1 L483.0 192.4 L483.2 192.5 L483.4 191.4 L483.6 190.9 L483.8 191.0 L484.0 188.8 L484.1 186.2 L484.3 183.6 L484.5 186.2 L484.7 188.9 L484.9 190.1 L485.1 192.0 L485.3 191.6 L485.5 192.3 L485.7 193.0 L485.9 194.7 L486.1 194.0 L486.2 193.9 L486.4 194.8 L486.6 194.2 L486.8 195.3 L487.0 193.4 L487.2 193.8 L487.4 192.6 L487.6 193.7 L487.8 191.8 L488.0 191.8 L488.2 190.7 L488.3 191.0 L488.5 190.2 L488.7 188.6 L488.9 190.9 L489.1 191.5 L489.3 191.8 L489.5 192.7 L489.7 192.0 L489.9 192.2 L490.1 193.9 L490.2 194.8 L490.4 193.5 L490.6 193.7 L490.8 193.9 L491.0 193.5 L491.2 194.3 L491.4 193.5 L491.6 193.5 L491.8 192.9 L492.0 191.0 L492.2 191.2 L492.3 188.8 L492.5 189.1 L492.7 188.6 L492.9 186.9 L493.1 187.4 L493.3 189.1 L493.5 191.0 L493.7 191.0 L493.9 191.2 L494.1 192.7 L494.3 193.5 L494.4 193.1 L494.6 193.9 L494.8 194.9 L495.0 194.5 L495.2 194.6 L495.4 193.7 L495.6 193.4 L495.8 192.4 L496.0 192.1 L496.2 192.7 L496.3 190.8 L496.5 189.9 L496.7 189.2 L496.9 188.0 L497.1 188.4 L497.3 189.5 L497.5 189.3 L497.7 191.0 L497.9 192.4 L498.1 191.3 L498.3 192.9 L498.4 193.2 L498.6 194.3 L498.8 194.7 L499.0 194.9 L499.2 194.5 L499.4 194.0 L499.6 195.0 L499.8 193.0 L500.0 193.5 L500.2 192.9 L500.3 191.1 L500.5 190.8 L500.7 190.7 L500.9 188.0 L501.1 188.4 L501.3 187.7 L501.5 188.7 L501.7 189.0 L501.9 190.8 L502.1 190.7 L502.3 192.5 L502.4 192.0 L502.6 193.6 L502.8 193.9 L503.0 193.1 L503.2 194.1 L503.4 194.0 L503.6 192.5 L503.8 193.0 L504.0 193.0 L504.2 191.3 L504.4 191.5 L504.5 189.5 L504.7 188.5 L504.9 188.6 L505.1 187.7 L505.3 186.2 L505.5 186.9 L505.7 188.3 L505.9 188.5 L506.1 190.8 L506.3 190.8 L506.4 191.5 L506.6 192.1 L506.8 192.4 L507.0 193.6 L507.2 193.0 L507.4 193.5 L507.6 193.5 L507.8 193.4 L508.0 192.8 L508.2 191.1 L508.4 190.9 L508.5 189.3 L508.7 187.8 L508.9 186.4 L509.1 184.9 L509.3 185.4 L509.5 187.2 L509.7 187.0 L509.9 188.6 L510.1 189.1 L510.3 190.6 L510.5 190.7 L510.6 191.5 L510.8 192.3 L511.0 192.8 L511.2 193.1 L511.4 193.3 L511.6 193.0 L511.8 192.3 L512.0 192.6 L512.2 190.9 L512.4 191.1 L512.5 189.8 L512.7 189.7 L512.9 188.7 L513.1 186.4 L513.3 186.4 L513.5 187.0 L513.7 187.6 L513.9 188.2 L514.1 187.8 L514.3 189.6 L514.5 190.0 L514.6 191.8 L514.8 191.6 L515.0 192.0 L515.2 191.9 L515.4 193.6 L515.6 193.1 L515.8 193.1 L516.0 193.5 L516.2 192.5 L516.4 192.1 L516.6 192.7 L516.7 190.3 L516.9 189.4 L517.1 188.8 L517.3 188.2 L517.5 185.5 L517.7 186.0 L517.9 186.5 L518.1 181.9 L518.3 176.1 L518.5 170.3 L518.6 176.1 L518.8 181.9 L519.0 187.7 L519.2 192.6 L519.4 192.5 L519.6 193.3 L519.8 193.5 L520.0 193.3 L520.2 192.6 L520.4 192.7 L520.6 192.0 L520.7 191.1 L520.9 190.7 L521.1 189.5 L521.3 188.9 L521.5 186.4 L521.7 185.8 L521.9 186.9 L522.1 188.1 L522.3 187.7 L522.5 189.7 L522.6 190.8 L522.8 191.2 L523.0 191.8 L523.2 191.8 L523.4 193.0 L523.6 192.2 L523.8 193.9 L524.0 192.9 L524.2 193.4 L524.4 191.4 L524.6 191.9 L524.7 190.9 L524.9 189.5 L525.1 188.4 L525.3 188.6 L525.5 186.7 L525.7 186.1 L525.9 184.0 L526.1 184.8 L526.3 186.2 L526.5 187.7 L526.7 188.7 L526.8 189.8 L527.0 190.1 L527.2 190.5 L527.4 193.2 L527.6 192.9 L527.8 193.5 L528.0 193.2 L528.2 193.6 L528.4 192.6 L528.6 192.5 L528.7 190.7 L528.9 190.3 L529.1 189.6 L529.3 188.3 L529.5 187.5 L529.7 187.1 L529.9 184.4 L530.1 185.8 L530.3 187.0 L530.5 187.5 L530.7 188.3 L530.8 190.7 L531.0 191.4 L531.2 190.8 L531.4 191.4 L531.6 193.3 L531.8 193.9 L532.0 193.8 L532.2 193.4 L532.4 193.3 L532.6 191.5 L532.8 191.3 L532.9 190.1 L533.1 187.6 L533.3 187.2 L533.5 185.2 L533.7 182.7 L533.9 180.7 L534.1 181.1 L534.3 183.1 L534.5 185.2 L534.7 185.2 L534.8 187.3 L535.0 189.5 L535.2 190.2 L535.4 190.9 L535.6 191.9 L535.8 191.8 L536.0 192.5 L536.2 193.7 L536.4 193.0 L536.6 193.0 L536.8 191.2 L536.9 190.0 L537.1 187.4 L537.3 187.6 L537.5 187.0 L537.7 184.5 L537.9 182.5 L538.1 181.2 L538.3 181.1 L538.5 182.8 L538.7 184.2 L538.9 186.0 L539.0 187.9 L539.2 188.7 L539.4 190.5 L539.6 191.4 L539.8 193.0 L540.0 193.4 L540.2 193.1 L540.4 194.2 L540.6 193.0 L540.8 191.9 L540.9 191.8 L541.1 190.5 L541.3 190.2 L541.5 188.0 L541.7 186.8 L541.9 185.8 L542.1 185.5 L542.3 184.5 L542.5 184.7 L542.7 175.9 L542.9 167.1 L543.0 158.3 L543.2 149.5 L543.4 140.8 L543.6 132.0 L543.8 123.2 L544.0 114.4 L544.2 105.6 L544.4 96.8 L544.6 88.0 L544.8 79.1 L545.0 88.0 L545.1 96.9 L545.3 105.7 L545.5 114.6 L545.7 123.6 L545.9 132.5 L546.1 141.5 L546.3 150.4 L546.5 159.4 L546.7 168.4 L546.9 177.4 L547.0 186.3 L547.2 192.2 L547.4 193.7 L547.6 194.3 L547.8 193.7 L548.0 194.6 L548.2 194.8 L548.4 194.8 L548.6 194.4 L548.8 193.4 L549.0 193.5 L549.1 191.6 L549.3 192.2 L549.5 190.6 L549.7 189.8 L549.9 188.0 L550.1 186.1 L550.3 184.4 L550.5 186.4 L550.7 187.3 L550.9 188.9 L551.0 190.5 L551.2 191.7 L551.4 192.0 L551.6 194.1 L551.8 193.8 L552.0 194.6 L552.2 195.5 L552.4 195.9 L552.6 195.9 L552.8 193.8 L553.0 195.1 L553.1 193.0 L553.3 192.8 L553.5 192.6 L553.7 192.3 L553.9 190.2 L554.1 189.0 L554.3 189.6 L554.5 188.4 L554.7 188.8 L554.9 190.0 L555.1 190.1 L555.2 192.2 L555.4 192.3 L555.6 193.8 L555.8 192.7 L556.0 194.8 L556.2 196.0 L556.4 195.2 L556.6 195.5 L556.8 194.4 L557.0 195.3 L557.1 194.7 L557.3 193.9 L557.5 192.7 L557.7 192.8 L557.9 191.3 L558.1 190.6 L558.3 189.9 L558.5 188.3 L558.7 187.3 L558.9 188.5 L559.1 188.4 L559.2 190.7 L559.4 190.5 L559.6 191.6 L559.8 193.1 L560.0 194.2 L560.2 194.5 L560.4 194.7 L560.6 194.9 L560.8 195.4 L561.0 194.8 L561.2 195.2 L561.3 194.3 L561.5 194.8 L561.7 192.8 L561.9 192.4 L562.1 191.7 L562.3 189.9 L562.5 189.1 L562.7 189.9 L562.9 188.5 L563.1 190.3 L563.2 189.9 L563.4 190.2 L563.6 192.6 L563.8 193.2 L564.0 194.0 L564.2 194.3 L564.4 194.7 L564.6 194.7 L564.8 196.1 L565.0 194.6 L565.2 195.6 L565.3 194.5 L565.5 193.5 L565.7 192.8 L565.9 192.9 L566.1 191.8 L566.3 190.8 L566.5 189.4 L566.7 187.5 L566.9 187.4 L567.1 188.0 L567.3 189.1 L567.4 190.5 L567.6 191.7 L567.8 192.0 L568.0 193.6 L568.2 194.2 L568.4 194.8 L568.6 194.5 L568.8 196.7 L569.0 194.7 L569.2 194.9 L569.3 194.1 L569.5 193.8 L569.7 193.4 L569.9 191.6 L570.1 190.4 L570.3 188.3 L570.5 187.7 L570.7 184.4 L570.9 186.1 L571.1 188.1 L571.3 189.6 L571.4 191.2 L571.6 192.7 L571.8 193.2 L572.0 193.9 L572.2 194.8 L572.4 196.1 L572.6 195.8 L572.8 196.2 L573.0 195.4 L573.2 194.2 L573.3 191.0 L573.5 186.3 L573.7 181.5 L573.9 176.8 L574.1 172.0 L574.3 167.2 L574.5 172.0 L574.7 176.8 L574.9 181.5 L575.1 186.3 L575.3 191.0 L575.4 193.2 L575.6 193.6 L575.8 194.4 L576.0 194.0 L576.2 195.5 L576.4 196.0 L576.6 196.4 L576.8 196.6 L577.0 195.4 L577.2 193.9 L577.4 195.2 L577.5 193.3 L577.7 192.8 L577.9 192.3 L578.1 190.6 L578.3 189.1 L578.5 188.1 L578.7 185.2 L578.9 185.9 L579.1 186.0 L579.3 187.6 L579.4 189.6 L579.6 190.3 L579.8 191.1 L580.0 192.8 L580.2 193.7 L580.4 194.2 L580.6 196.3 L580.8 195.0 L581.0 194.7 L581.2 195.1 L581.4 194.6 L581.5 195.4 L581.7 194.2 L581.9 193.6 L582.1 192.5 L582.3 190.6 L582.5 190.6 L582.7 189.1 L582.9 189.0 L583.1 187.1 L583.3 188.4 L583.5 189.9 L583.6 191.3 L583.8 190.8 L584.0 193.6 L584.2 194.3 L584.4 194.8 L584.6 194.4 L584.8 194.5 L585.0 195.8 L585.2 196.3 L585.4 195.7 L585.5 194.3 L585.7 194.5 L585.9 192.4 L586.1 191.4 L586.3 191.1 L586.5 189.5 L586.7 188.3 L586.9 186.3 L587.1 186.8 L587.3 186.8 L587.5 189.0 L587.6 190.4 L587.8 191.0 L588.0 192.3 L588.2 193.6 L588.4 194.9 L588.6 195.2 L588.8 194.6 L589.0 194.7 L589.2 195.7 L589.4 195.3 L589.6 195.9 L589.7 195.1 L589.9 194.3 L590.1 194.2 L590.3 193.1 L590.5 191.5 L590.7 190.7 L590.9 189.8 L591.1 187.9 L591.3 187.5 L591.5 187.9 L591.6 189.5 L591.8 190.7 L592.0 191.6 L592.2 192.6 L592.4 193.9 L592.6 194.4 L592.8 194.4 L593.0 195.0 L593.2 195.1 L593.4 197.0 L593.6 196.2 L593.7 195.8 L593.9 194.8 L594.1 194.2 L594.3 193.5 L594.5 191.9 L594.7 191.0 L594.9 190.2 L595.1 187.4 L595.3 185.9 L595.5 187.2 L595.6 187.8 L595.8 190.0 L596.0 190.2 L596.2 184.8 L596.4 179.2 L596.6 173.5 L596.8 167.8 L597.0 173.5 L597.2 179.2 L597.4 184.9 L597.6 190.5 L597.7 197.8 L597.9 195.4 L598.1 196.0 L598.3 194.2 L598.5 193.2 L598.7 193.0 L598.9 192.4 L599.1 191.3 L599.3 190.5 L599.5 189.7 L599.7 190.8 L599.8 191.7 L600.0 191.7 L600.2 193.2 L600.4 193.5 L600.6 194.9 L600.8 195.3 L601.0 195.8 L601.2 195.9 L601.4 195.9 L601.6 196.0 L601.7 196.2 L601.9 195.7 L602.1 193.7 L602.3 193.9 L602.5 193.1 L602.7 191.1 L602.9 190.4 L603.1 189.5 L603.3 188.8 L603.5 185.8 L603.7 188.0 L603.8 188.6 L604.0 184.8 L604.2 180.9 L604.4 184.8 L604.6 188.6 L604.8 192.5 L605.0 195.1 L605.2 196.2 L605.4 196.9 L605.6 196.5 L605.8 197.1 L605.9 195.6 L606.1 195.2 L606.3 193.8 L606.5 194.4 L606.7 194.5 L606.9 194.1 L607.1 194.7 L607.3 192.4 L607.5 191.3 L607.7 189.9 L607.8 189.7 L608.0 190.8 L608.2 191.8 L608.4 192.3 L608.6 192.8 L608.8 194.8 L609.0 195.2 L609.2 196.2 L609.4 195.1 L609.6 195.6 L609.8 196.1 L609.9 197.0 L610.1 196.0 L610.3 195.8 L610.5 195.0 L610.7 194.6 L610.9 193.2 L611.1 192.8 L611.3 191.4 L611.5 190.5 L611.7 189.9 L611.9 188.7 L612.0 189.6 L612.2 189.9 L612.4 191.7 L612.6 192.2 L612.8 193.6 L613.0 195.1 L613.2 194.5 L613.4 196.1 L613.6 195.7 L613.8 196.2 L613.9 197.4 L614.1 196.8 L614.3 196.2 L614.5 195.8 L614.7 195.2 L614.9 193.4 L615.1 193.2 L615.3 191.8 L615.5 191.3 L615.7 189.5 L615.9 189.0 L616.0 187.4 L616.2 188.2 L616.4 189.6 L616.6 190.9 L616.8 192.6 L617.0 192.8 L617.2 193.8 L617.4 195.0 L617.6 196.0 L617.8 195.8 L617.9 195.1 L618.1 196.8 L618.3 196.3 L618.5 196.0 L618.7 197.1 L618.9 195.3 L619.1 195.2 L619.3 193.5 L619.5 193.7 L619.7 193.4 L619.9 192.2 L620.0 191.0 L620.2 191.1 L620.4 191.6 L620.6 193.0 L620.8 193.4 L621.0 193.5 L621.2 193.6 L621.4 194.8 L621.6 195.5 L621.8 195.4 L622.0 195.9 L622.1 195.8 L622.3 196.1 L622.5 196.6 L622.7 196.2 L622.9 195.9 L623.1 195.5 L623.3 195.1 L623.5 195.2 L623.7 195.3 L623.9 193.9 L624.0 194.0 L624.2 192.1 L624.4 191.5 L624.6 193.0 L624.8 192.5 L625.0 191.6 L625.2 186.5 L625.4 181.4 L625.6 176.2 L625.8 181.4 L626.0 186.5 L626.1 191.7 L626.3 196.5 L626.5 196.3 L626.7 196.9 L626.9 196.4 L627.1 195.8 L627.3 195.0 L627.5 193.8 L627.7 193.7 L627.9 192.5 L628.1 190.3 L628.2 189.4 L628.4 187.8 L628.6 188.1 L628.8 189.2 L629.0 190.3 L629.2 187.5 L629.4 182.9 L629.6 178.2 L629.8 182.9 L630.0 187.5 L630.1 192.2 L630.3 196.0 L630.5 197.1 L630.7 196.2 L630.9 196.2 L631.1 195.7 L631.3 195.2 L631.5 194.3 L631.7 193.2 L631.9 192.2 L632.1 191.1 L632.2 189.5 L632.4 188.8 L632.6 187.0 L632.8 187.9 L633.0 190.3 L633.2 189.5 L633.4 191.2 L633.6 193.0 L633.8 193.4 L634.0 194.6 L634.2 193.9 L634.3 195.6 L634.5 197.2 L634.7 196.6 L634.9 197.1 L635.1 195.7 L635.3 196.9 L635.5 196.9 L635.7 195.1 L635.9 194.5 L636.1 193.8 L636.2 193.9 L636.4 195.8 L636.6 193.5 L636.8 193.8 L637.0 193.1 L637.2 191.0 L637.4 190.0 L637.6 189.2 L637.8 182.3 L638.0 173.7 L638.2 164.9 L638.3 158.0 L638.5 153.3 L638.7 147.4 L638.9 142.1 L639.1 140.7 L639.3 138.5 L639.5 134.4 L639.7 140.8 L639.9 146.9 L640.1 141.0 L640.2 136.1" fill="none" stroke="#35617f" stroke-width="1.45" stroke-linejoin="round" clip-path="url(#cd)"/>
<line x1="398.8" y1="193.5" x2="402" y2="193.5" stroke="#333" stroke-width="1.0"/>
<text x="396.8" y="196.078" font-size="7.3" text-anchor="end" fill="#333" font-weight="normal" font-family='"Liberation Sans", sans-serif' textLength="4.64" lengthAdjust="spacingAndGlyphs" stroke="#333" stroke-width="0.25">1</text>
<line x1="398.8" y1="175.5" x2="402" y2="175.5" stroke="#333" stroke-width="1.0"/>
<text x="396.8" y="178.128" font-size="7.3" text-anchor="end" fill="#333" font-weight="normal" font-family='"Liberation Sans", sans-serif' textLength="4.64" lengthAdjust="spacingAndGlyphs" stroke="#333" stroke-width="0.25">2</text>
<line x1="398.8" y1="157.6" x2="402" y2="157.6" stroke="#333" stroke-width="1.0"/>
<text x="396.8" y="160.178" font-size="7.3" text-anchor="end" fill="#333" font-weight="normal" font-family='"Liberation Sans", sans-serif' textLength="4.64" lengthAdjust="spacingAndGlyphs" stroke="#333" stroke-width="0.25">3</text>
<line x1="398.8" y1="139.6" x2="402" y2="139.6" stroke="#333" stroke-width="1.0"/>
<text x="396.8" y="142.228" font-size="7.3" text-anchor="end" fill="#333" font-weight="normal" font-family='"Liberation Sans", sans-serif' textLength="4.64" lengthAdjust="spacingAndGlyphs" stroke="#333" stroke-width="0.25">4</text>
<line x1="398.8" y1="121.7" x2="402" y2="121.7" stroke="#333" stroke-width="1.0"/>
<text x="396.8" y="124.278" font-size="7.3" text-anchor="end" fill="#333" font-weight="normal" font-family='"Liberation Sans", sans-serif' textLength="4.64" lengthAdjust="spacingAndGlyphs" stroke="#333" stroke-width="0.25">5</text>
<line x1="398.8" y1="103.7" x2="402" y2="103.7" stroke="#333" stroke-width="1.0"/>
<text x="396.8" y="106.32800000000002" font-size="7.3" text-anchor="end" fill="#333" font-weight="normal" font-family='"Liberation Sans", sans-serif' textLength="4.64" lengthAdjust="spacingAndGlyphs" stroke="#333" stroke-width="0.25">6</text>
<line x1="398.8" y1="85.8" x2="402" y2="85.8" stroke="#333" stroke-width="1.0"/>
<text x="396.8" y="88.37800000000001" font-size="7.3" text-anchor="end" fill="#333" font-weight="normal" font-family='"Liberation Sans", sans-serif' textLength="4.64" lengthAdjust="spacingAndGlyphs" stroke="#333" stroke-width="0.25">7</text>
<line x1="398.8" y1="67.8" x2="402" y2="67.8" stroke="#333" stroke-width="1.0"/>
<text x="396.8" y="70.42800000000001" font-size="7.3" text-anchor="end" fill="#333" font-weight="normal" font-family='"Liberation Sans", sans-serif' textLength="4.64" lengthAdjust="spacingAndGlyphs" stroke="#333" stroke-width="0.25">8</text>
<line x1="398.8" y1="49.9" x2="402" y2="49.9" stroke="#333" stroke-width="1.0"/>
<text x="396.8" y="52.47800000000002" font-size="7.3" text-anchor="end" fill="#333" font-weight="normal" font-family='"Liberation Sans", sans-serif' textLength="4.64" lengthAdjust="spacingAndGlyphs" stroke="#333" stroke-width="0.25">9</text>
<line x1="402.0" y1="211.4" x2="402.0" y2="214.4" stroke="#333" stroke-width="1.0"/>
<text x="402.0" y="220.24" font-size="7.3" text-anchor="middle" fill="#333" font-weight="normal" font-family='"Liberation Sans", sans-serif' textLength="4.64" lengthAdjust="spacingAndGlyphs" stroke="#333" stroke-width="0.25">0</text>
<line x1="440.3" y1="211.4" x2="440.3" y2="214.4" stroke="#333" stroke-width="1.0"/>
<text x="440.26" y="220.24" font-size="7.3" text-anchor="middle" fill="#333" font-weight="normal" font-family='"Liberation Sans", sans-serif' textLength="13.93" lengthAdjust="spacingAndGlyphs" stroke="#333" stroke-width="0.25">200</text>
<line x1="478.5" y1="211.4" x2="478.5" y2="214.4" stroke="#333" stroke-width="1.0"/>
<text x="478.52" y="220.24" font-size="7.3" text-anchor="middle" fill="#333" font-weight="normal" font-family='"Liberation Sans", sans-serif' textLength="13.93" lengthAdjust="spacingAndGlyphs" stroke="#333" stroke-width="0.25">400</text>
<line x1="516.8" y1="211.4" x2="516.8" y2="214.4" stroke="#333" stroke-width="1.0"/>
<text x="516.78" y="220.24" font-size="7.3" text-anchor="middle" fill="#333" font-weight="normal" font-family='"Liberation Sans", sans-serif' textLength="13.93" lengthAdjust="spacingAndGlyphs" stroke="#333" stroke-width="0.25">600</text>
<line x1="555.0" y1="211.4" x2="555.0" y2="214.4" stroke="#333" stroke-width="1.0"/>
<text x="555.04" y="220.24" font-size="7.3" text-anchor="middle" fill="#333" font-weight="normal" font-family='"Liberation Sans", sans-serif' textLength="13.93" lengthAdjust="spacingAndGlyphs" stroke="#333" stroke-width="0.25">800</text>
<line x1="593.3" y1="211.4" x2="593.3" y2="214.4" stroke="#333" stroke-width="1.0"/>
<text x="593.3" y="220.24" font-size="7.3" text-anchor="middle" fill="#333" font-weight="normal" font-family='"Liberation Sans", sans-serif' textLength="18.57" lengthAdjust="spacingAndGlyphs" stroke="#333" stroke-width="0.25">1000</text>
<line x1="631.6" y1="211.4" x2="631.6" y2="214.4" stroke="#333" stroke-width="1.0"/>
<text x="631.56" y="220.24" font-size="7.3" text-anchor="middle" fill="#333" font-weight="normal" font-family='"Liberation Sans", sans-serif' textLength="18.57" lengthAdjust="spacingAndGlyphs" stroke="#333" stroke-width="0.25">1200</text>
<text x="484" y="232" font-size="10.8" text-anchor="start" fill="#222" font-weight="normal" font-family='"Liberation Sans", sans-serif' textLength="75" lengthAdjust="spacingAndGlyphs" stroke="#222" stroke-width="0.35">Residue Index</text>
<text x="387.4" y="127.5" font-size="10.8" text-anchor="middle" fill="#222" font-weight="normal" font-family='"Liberation Sans", sans-serif' textLength="44" lengthAdjust="spacingAndGlyphs" transform="rotate(-90 387.4 127.5)" stroke="#222" stroke-width="0.35">RMSF (Å)</text>
<rect x="499.8" y="28.5" width="41.99999999999994" height="8.799999999999997" fill="#fff" stroke="#ddd" stroke-width="0.6" rx="1"/>
<rect x="500.4" y="30.599999999999998" width="11.600000000000023" height="4.6" fill="#35617f"/>
<text x="512.3" y="35.492" font-size="7.2" text-anchor="start" fill="#222" font-weight="normal" font-family='"Liberation Sans", sans-serif' textLength="28" lengthAdjust="spacingAndGlyphs" stroke="#222" stroke-width="0.12">C-alphas</text>
<clipPath id="ce"><rect x="411.4" y="287.4" width="257.0" height="149.90000000000003"/></clipPath>
<rect x="411.4" y="287.4" width="257.0" height="149.90000000000003" fill="none" stroke="#858585" stroke-width="1.3"/>
<path d="M411.4 283.3 L411.6 292.2 L411.8 296.0 L412.0 305.6 L412.2 309.1 L412.4 320.1 L412.5 322.1 L412.7 328.2 L412.9 324.6 L413.1 331.5 L413.3 327.5 L413.5 335.6 L413.7 334.3 L413.9 343.5 L414.1 342.3 L414.3 347.6 L414.5 344.0 L414.6 351.6 L414.8 348.3 L415.0 360.7 L415.2 365.1 L415.4 377.8 L415.6 381.9 L415.8 389.0 L416.0 386.9 L416.2 395.0 L416.4 392.2 L416.5 392.8 L416.7 384.7 L416.9 384.4 L417.1 376.0 L417.3 386.5 L417.5 387.1 L417.7 395.6 L417.9 397.7 L418.1 396.6 L418.3 389.5 L418.5 387.7 L418.6 378.8 L418.8 390.1 L419.0 390.6 L419.2 401.1 L419.4 403.7 L419.6 397.6 L419.8 386.4 L420.0 380.8 L420.2 368.2 L420.4 354.7 L420.6 330.7 L420.7 317.0 L420.9 334.7 L421.1 363.7 L421.3 381.2 L421.5 394.5 L421.7 399.2 L421.9 411.4 L422.1 415.1 L422.3 415.8 L422.5 406.6 L422.7 404.2 L422.8 394.6 L423.0 400.2 L423.2 398.9 L423.4 404.5 L423.6 403.4 L423.8 398.2 L424.0 385.8 L424.2 381.8 L424.4 367.6 L424.6 365.5 L424.7 352.9 L424.9 347.5 L425.1 335.2 L425.3 352.3 L425.5 361.1 L425.7 379.5 L425.9 386.1 L426.1 393.2 L426.3 392.6 L426.5 399.8 L426.7 398.4 L426.8 400.3 L427.0 393.1 L427.2 394.6 L427.4 387.4 L427.6 388.3 L427.8 387.8 L428.0 398.2 L428.2 397.1 L428.4 404.8 L428.6 406.4 L428.8 407.1 L428.9 400.1 L429.1 402.9 L429.3 394.4 L429.5 396.4 L429.7 393.9 L429.9 400.2 L430.1 396.8 L430.3 403.2 L430.5 400.5 L430.7 403.0 L430.9 399.1 L431.0 402.1 L431.2 397.1 L431.4 399.2 L431.6 392.8 L431.8 395.4 L432.0 391.3 L432.2 391.7 L432.4 387.4 L432.6 385.0 L432.8 377.0 L432.9 375.3 L433.1 377.3 L433.3 388.3 L433.5 388.2 L433.7 398.2 L433.9 396.8 L434.1 404.3 L434.3 403.3 L434.5 410.0 L434.7 407.6 L434.9 412.1 L435.0 405.5 L435.2 408.7 L435.4 405.2 L435.6 407.1 L435.8 403.7 L436.0 410.8 L436.2 409.0 L436.4 414.5 L436.6 410.5 L436.8 413.3 L437.0 408.9 L437.1 411.2 L437.3 406.9 L437.5 409.9 L437.7 407.1 L437.9 413.2 L438.1 409.6 L438.3 416.2 L438.5 414.3 L438.7 418.0 L438.9 412.3 L439.1 414.4 L439.2 409.0 L439.4 413.4 L439.6 406.3 L439.8 407.3 L440.0 399.7 L440.2 402.3 L440.4 395.8 L440.6 400.7 L440.8 398.2 L441.0 401.6 L441.1 398.9 L441.3 404.4 L441.5 402.5 L441.7 409.8 L441.9 406.9 L442.1 414.0 L442.3 410.9 L442.5 412.2 L442.7 407.9 L442.9 408.7 L443.1 403.0 L443.2 405.1 L443.4 397.4 L443.6 398.3 L443.8 393.3 L444.0 394.2 L444.2 386.2 L444.4 382.8 L444.6 371.9 L444.8 366.7 L445.0 356.0 L445.2 348.1 L445.3 333.7 L445.5 325.5 L445.7 311.3 L445.9 322.7 L446.1 327.3 L446.3 338.7 L446.5 340.8 L446.7 354.3 L446.9 358.0 L447.1 371.7 L447.3 375.9 L447.4 383.7 L447.6 383.5 L447.8 390.6 L448.0 388.6 L448.2 396.0 L448.4 394.0 L448.6 397.9 L448.8 395.1 L449.0 401.9 L449.2 398.9 L449.3 398.0 L449.5 399.2 L449.7 401.7 L449.9 404.9 L450.1 404.6 L450.3 407.2 L450.5 408.9 L450.7 409.3 L450.9 411.7 L451.1 411.4 L451.3 411.0 L451.4 410.2 L451.6 410.7 L451.8 409.3 L452.0 410.6 L452.2 407.8 L452.4 405.6 L452.6 403.9 L452.8 404.6 L453.0 400.7 L453.2 398.2 L453.4 399.2 L453.5 402.7 L453.7 402.5 L453.9 397.2 L454.1 391.9 L454.3 386.5 L454.5 391.9 L454.7 397.4 L454.9 402.9 L455.1 408.5 L455.3 412.7 L455.5 415.1 L455.6 414.6 L455.8 409.0 L456.0 403.6 L456.2 398.2 L456.4 392.8 L456.6 387.3 L456.8 392.8 L457.0 398.4 L457.2 402.9 L457.4 401.9 L457.5 400.1 L457.7 401.9 L457.9 405.2 L458.1 406.0 L458.3 407.9 L458.5 410.5 L458.7 412.8 L458.9 413.4 L459.1 414.0 L459.3 415.1 L459.5 416.6 L459.6 416.9 L459.8 415.8 L460.0 415.2 L460.2 410.6 L460.4 404.1 L460.6 397.5 L460.8 391.0 L461.0 384.3 L461.2 391.0 L461.4 397.7 L461.6 403.0 L461.7 402.4 L461.9 406.2 L462.1 405.7 L462.3 409.1 L462.5 411.9 L462.7 413.2 L462.9 415.4 L463.1 415.4 L463.3 417.6 L463.5 419.1 L463.7 419.3 L463.8 420.2 L464.0 420.8 L464.2 419.8 L464.4 417.9 L464.6 413.9 L464.8 408.0 L465.0 402.1 L465.2 396.2 L465.4 390.2 L465.6 396.2 L465.7 402.1 L465.9 408.1 L466.1 414.0 L466.3 414.2 L466.5 416.1 L466.7 417.2 L466.9 418.0 L467.1 418.7 L467.3 419.5 L467.5 418.7 L467.7 418.2 L467.8 419.7 L468.0 420.9 L468.2 420.7 L468.4 416.9 L468.6 418.9 L468.8 414.2 L469.0 414.1 L469.2 413.1 L469.4 410.7 L469.6 409.3 L469.8 405.9 L469.9 405.3 L470.1 406.0 L470.3 409.2 L470.5 410.6 L470.7 412.0 L470.9 415.6 L471.1 417.2 L471.3 416.4 L471.5 417.6 L471.7 418.7 L471.9 420.4 L472.0 421.0 L472.2 420.6 L472.4 419.4 L472.6 419.7 L472.8 419.2 L473.0 417.5 L473.2 415.7 L473.4 414.8 L473.6 415.3 L473.8 413.6 L473.9 413.0 L474.1 412.4 L474.3 413.7 L474.5 415.3 L474.7 416.3 L474.9 416.5 L475.1 416.4 L475.3 419.4 L475.5 419.3 L475.7 420.3 L475.9 419.2 L476.0 418.1 L476.2 419.7 L476.4 420.7 L476.6 418.5 L476.8 416.0 L477.0 416.7 L477.2 416.7 L477.4 414.6 L477.6 410.7 L477.8 410.7 L478.0 406.1 L478.1 407.3 L478.3 406.9 L478.5 409.7 L478.7 410.1 L478.9 412.1 L479.1 413.9 L479.3 415.4 L479.5 418.1 L479.7 418.5 L479.9 420.4 L480.1 420.4 L480.2 420.2 L480.4 420.3 L480.6 420.5 L480.8 419.8 L481.0 418.8 L481.2 417.6 L481.4 416.5 L481.6 413.4 L481.8 412.7 L482.0 411.9 L482.1 409.7 L482.3 410.0 L482.5 412.2 L482.7 412.3 L482.9 414.1 L483.1 417.5 L483.3 414.9 L483.5 417.9 L483.7 420.1 L483.9 418.2 L484.1 419.7 L484.2 420.1 L484.4 419.3 L484.6 419.5 L484.8 419.4 L485.0 418.9 L485.2 418.1 L485.4 417.3 L485.6 417.2 L485.8 414.1 L486.0 413.7 L486.2 412.1 L486.3 410.0 L486.5 409.3 L486.7 410.8 L486.9 411.2 L487.1 413.2 L487.3 415.2 L487.5 416.6 L487.7 414.8 L487.9 418.8 L488.1 417.3 L488.3 420.3 L488.4 419.9 L488.6 420.9 L488.8 421.4 L489.0 420.2 L489.2 417.4 L489.4 418.8 L489.6 417.9 L489.8 415.5 L490.0 415.2 L490.2 413.1 L490.3 411.7 L490.5 407.5 L490.7 405.4 L490.9 397.8 L491.1 390.2 L491.3 397.8 L491.5 405.4 L491.7 413.0 L491.9 417.0 L492.1 417.8 L492.3 420.0 L492.4 420.2 L492.6 420.7 L492.8 421.3 L493.0 420.7 L493.2 419.6 L493.4 418.0 L493.6 418.3 L493.8 416.6 L494.0 414.3 L494.2 408.8 L494.4 402.9 L494.5 396.9 L494.7 402.9 L494.9 408.6 L495.1 410.9 L495.3 410.7 L495.5 413.0 L495.7 415.3 L495.9 416.6 L496.1 418.1 L496.3 419.1 L496.5 419.3 L496.6 420.9 L496.8 420.2 L497.0 421.7 L497.2 419.8 L497.4 419.5 L497.6 418.8 L497.8 417.0 L498.0 416.0 L498.2 414.9 L498.4 411.8 L498.5 407.0 L498.7 400.1 L498.9 393.2 L499.1 400.1 L499.3 407.0 L499.5 413.9 L499.7 416.4 L499.9 416.7 L500.1 417.3 L500.3 418.6 L500.5 419.8 L500.6 419.2 L500.8 421.2 L501.0 420.7 L501.2 420.6 L501.4 420.2 L501.6 420.6 L501.8 419.6 L502.0 418.2 L502.2 417.2 L502.4 416.5 L502.6 415.9 L502.7 415.4 L502.9 413.7 L503.1 414.0 L503.3 414.8 L503.5 412.1 L503.7 407.7 L503.9 403.3 L504.1 407.7 L504.3 412.2 L504.5 416.6 L504.7 420.7 L504.8 419.4 L505.0 420.8 L505.2 420.4 L505.4 420.0 L505.6 420.6 L505.8 420.2 L506.0 417.2 L506.2 416.0 L506.4 415.2 L506.6 413.9 L506.8 413.9 L506.9 412.5 L507.1 410.3 L507.3 409.0 L507.5 402.9 L507.7 396.9 L507.9 402.9 L508.1 409.0 L508.3 415.0 L508.5 418.2 L508.7 420.2 L508.8 421.3 L509.0 419.6 L509.2 421.8 L509.4 420.8 L509.6 419.8 L509.8 419.7 L510.0 420.4 L510.2 418.3 L510.4 417.5 L510.6 416.6 L510.8 415.0 L510.9 413.9 L511.1 411.3 L511.3 410.6 L511.5 411.6 L511.7 412.5 L511.9 414.1 L512.1 415.5 L512.3 416.4 L512.5 418.9 L512.7 419.8 L512.9 419.2 L513.0 421.2 L513.2 420.5 L513.4 423.0 L513.6 420.9 L513.8 421.1 L514.0 420.0 L514.2 418.8 L514.4 420.0 L514.6 418.9 L514.8 416.7 L515.0 416.7 L515.1 414.5 L515.3 413.8 L515.5 415.9 L515.7 415.2 L515.9 416.3 L516.1 417.4 L516.3 415.4 L516.5 412.1 L516.7 409.6 L516.9 403.5 L517.0 399.4 L517.2 394.9 L517.4 378.2 L517.6 358.5 L517.8 338.4 L518.0 321.0 L518.2 322.4 L518.4 324.4 L518.6 323.8 L518.8 322.5 L519.0 321.6 L519.1 320.4 L519.3 317.4 L519.5 314.5 L519.7 314.6 L519.9 312.3 L520.1 312.4 L520.3 325.7 L520.5 342.7 L520.7 357.2 L520.9 369.0 L521.1 381.9 L521.2 393.4 L521.4 405.5 L521.6 408.7 L521.8 409.1 L522.0 412.8 L522.2 416.9 L522.4 419.5 L522.6 420.4 L522.8 419.6 L523.0 420.1 L523.2 419.1 L523.3 415.8 L523.5 416.7 L523.7 418.3 L523.9 417.1 L524.1 418.4 L524.3 419.2 L524.5 420.4 L524.7 420.2 L524.9 420.5 L525.1 421.9 L525.2 421.8 L525.4 423.9 L525.6 422.6 L525.8 422.8 L526.0 422.5 L526.2 420.2 L526.4 421.9 L526.6 419.1 L526.8 419.2 L527.0 416.1 L527.2 415.5 L527.3 413.4 L527.5 412.5 L527.7 413.1 L527.9 411.6 L528.1 415.0 L528.3 417.0 L528.5 416.4 L528.7 416.8 L528.9 419.5 L529.1 420.8 L529.3 420.7 L529.4 421.1 L529.6 421.3 L529.8 422.4 L530.0 421.8 L530.2 421.0 L530.4 419.2 L530.6 419.2 L530.8 419.9 L531.0 418.4 L531.2 417.2 L531.4 417.3 L531.5 418.1 L531.7 414.3 L531.9 415.4 L532.1 415.7 L532.3 416.4 L532.5 417.7 L532.7 418.9 L532.9 418.7 L533.1 420.8 L533.3 422.1 L533.4 423.3 L533.6 421.3 L533.8 423.0 L534.0 421.9 L534.2 421.4 L534.4 420.3 L534.6 419.7 L534.8 419.7 L535.0 419.0 L535.2 417.0 L535.4 419.0 L535.5 416.4 L535.7 415.5 L535.9 413.9 L536.1 412.3 L536.3 415.1 L536.5 416.9 L536.7 418.0 L536.9 417.8 L537.1 419.2 L537.3 420.4 L537.5 419.4 L537.6 419.3 L537.8 421.8 L538.0 422.3 L538.2 421.1 L538.4 421.6 L538.6 420.3 L538.8 419.4 L539.0 419.4 L539.2 419.0 L539.4 419.0 L539.6 416.4 L539.7 415.2 L539.9 416.3 L540.1 414.5 L540.3 414.2 L540.5 415.3 L540.7 415.6 L540.9 418.2 L541.1 418.4 L541.3 419.0 L541.5 419.7 L541.6 419.5 L541.8 420.3 L542.0 420.2 L542.2 421.5 L542.4 421.5 L542.6 419.7 L542.8 419.2 L543.0 419.6 L543.2 418.2 L543.4 415.8 L543.6 413.4 L543.7 413.0 L543.9 409.2 L544.1 408.2 L544.3 409.0 L544.5 410.1 L544.7 412.5 L544.9 415.6 L545.1 416.3 L545.3 416.4 L545.5 417.4 L545.7 419.6 L545.8 420.2 L546.0 421.0 L546.2 422.8 L546.4 421.6 L546.6 420.9 L546.8 418.8 L547.0 419.1 L547.2 415.7 L547.4 414.7 L547.6 412.9 L547.8 412.5 L547.9 407.6 L548.1 405.1 L548.3 407.1 L548.5 408.2 L548.7 412.0 L548.9 411.7 L549.1 413.1 L549.3 414.3 L549.5 416.7 L549.7 415.0 L549.8 416.9 L550.0 412.6 L550.2 405.6 L550.4 398.6 L550.6 391.8 L550.8 385.1 L551.0 378.4 L551.2 385.0 L551.4 391.5 L551.6 397.8 L551.8 404.1 L551.9 410.3 L552.1 408.9 L552.3 408.0 L552.5 407.9 L552.7 410.6 L552.9 411.1 L553.1 412.1 L553.3 412.4 L553.5 414.0 L553.7 414.4 L553.9 413.7 L554.0 413.8 L554.2 415.4 L554.4 414.3 L554.6 418.0 L554.8 415.3 L555.0 415.2 L555.2 413.2 L555.4 413.0 L555.6 411.6 L555.8 410.0 L556.0 408.9 L556.1 406.7 L556.3 405.5 L556.5 404.0 L556.7 402.2 L556.9 403.4 L557.1 406.0 L557.3 407.6 L557.5 410.3 L557.7 410.9 L557.9 410.8 L558.0 412.3 L558.2 412.8 L558.4 414.8 L558.6 415.2 L558.8 414.5 L559.0 415.6 L559.2 411.3 L559.4 413.2 L559.6 410.4 L559.8 407.8 L560.0 408.1 L560.1 407.3 L560.3 404.4 L560.5 401.9 L560.7 399.5 L560.9 396.8 L561.1 399.7 L561.3 402.4 L561.5 406.0 L561.7 406.9 L561.9 409.5 L562.1 411.1 L562.2 412.3 L562.4 412.2 L562.6 413.7 L562.8 414.4 L563.0 414.8 L563.2 415.7 L563.4 413.5 L563.6 413.2 L563.8 411.1 L564.0 413.3 L564.2 411.7 L564.3 409.6 L564.5 407.8 L564.7 406.4 L564.9 405.7 L565.1 406.3 L565.3 407.2 L565.5 407.0 L565.7 408.9 L565.9 411.9 L566.1 412.1 L566.2 413.9 L566.4 414.1 L566.6 413.0 L566.8 413.0 L567.0 414.9 L567.2 413.5 L567.4 414.3 L567.6 411.5 L567.8 411.7 L568.0 404.3 L568.2 394.3 L568.3 384.3 L568.5 374.3 L568.7 364.3 L568.9 374.3 L569.1 384.2 L569.3 394.2 L569.5 404.2 L569.7 408.0 L569.9 408.0 L570.1 410.7 L570.3 410.3 L570.4 410.7 L570.6 412.1 L570.8 414.3 L571.0 412.5 L571.2 414.7 L571.4 413.9 L571.6 413.5 L571.8 413.0 L572.0 412.1 L572.2 410.6 L572.4 400.7 L572.5 387.3 L572.7 374.0 L572.9 360.7 L573.1 347.4 L573.3 360.7 L573.5 374.0 L573.7 387.3 L573.9 400.6 L574.1 408.3 L574.3 410.3 L574.4 410.0 L574.6 411.5 L574.8 412.5 L575.0 413.4 L575.2 413.3 L575.4 413.3 L575.6 412.8 L575.8 411.0 L576.0 410.4 L576.2 409.9 L576.4 408.3 L576.5 408.7 L576.7 405.1 L576.9 404.5 L577.1 403.1 L577.3 400.1 L577.5 400.0 L577.7 400.7 L577.9 403.8 L578.1 406.3 L578.3 404.1 L578.5 399.4 L578.6 394.7 L578.8 390.0 L579.0 385.3 L579.2 380.6 L579.4 375.9 L579.6 371.2 L579.8 366.5 L580.0 361.8 L580.2 357.1 L580.4 352.4 L580.6 347.7 L580.7 352.4 L580.9 357.1 L581.1 361.8 L581.3 366.4 L581.5 371.1 L581.7 375.8 L581.9 380.5 L582.1 385.2 L582.3 389.9 L582.5 394.5 L582.6 399.2 L582.8 403.9 L583.0 408.5 L583.2 413.3 L583.4 413.9 L583.6 414.7 L583.8 416.0 L584.0 415.1 L584.2 415.6 L584.4 415.8 L584.6 415.7 L584.7 415.9 L584.9 417.6 L585.1 417.0 L585.3 417.6 L585.5 419.2 L585.7 416.7 L585.9 419.8 L586.1 420.9 L586.3 420.2 L586.5 421.4 L586.7 422.1 L586.8 421.8 L587.0 421.8 L587.2 422.1 L587.4 421.9 L587.6 423.1 L587.8 422.8 L588.0 420.4 L588.2 421.8 L588.4 419.7 L588.6 419.4 L588.8 419.0 L588.9 416.1 L589.1 414.7 L589.3 415.9 L589.5 414.3 L589.7 414.8 L589.9 418.1 L590.1 417.2 L590.3 420.3 L590.5 418.3 L590.7 421.2 L590.8 421.0 L591.0 422.9 L591.2 421.3 L591.4 423.0 L591.6 423.1 L591.8 421.9 L592.0 421.7 L592.2 423.1 L592.4 420.6 L592.6 419.1 L592.8 419.1 L592.9 417.1 L593.1 416.0 L593.3 413.7 L593.5 413.3 L593.7 412.6 L593.9 415.6 L594.1 410.3 L594.3 404.1 L594.5 398.0 L594.7 404.1 L594.9 410.3 L595.0 416.4 L595.2 421.9 L595.4 421.6 L595.6 421.9 L595.8 422.9 L596.0 422.5 L596.2 419.9 L596.4 421.0 L596.6 421.2 L596.8 419.6 L597.0 421.1 L597.1 421.2 L597.3 418.5 L597.5 418.8 L597.7 419.0 L597.9 419.0 L598.1 418.9 L598.3 420.4 L598.5 420.1 L598.7 420.2 L598.9 420.8 L599.0 420.7 L599.2 423.2 L599.4 420.4 L599.6 424.2 L599.8 423.2 L600.0 423.3 L600.2 421.3 L600.4 421.1 L600.6 419.4 L600.8 418.7 L601.0 417.6 L601.1 417.0 L601.3 415.4 L601.5 414.8 L601.7 412.2 L601.9 412.8 L602.1 413.6 L602.3 415.8 L602.5 417.6 L602.7 418.0 L602.9 419.8 L603.1 420.4 L603.2 421.7 L603.4 421.1 L603.6 422.0 L603.8 423.0 L604.0 420.8 L604.2 421.9 L604.4 422.2 L604.6 422.4 L604.8 422.0 L605.0 421.0 L605.2 421.7 L605.3 420.6 L605.5 419.0 L605.7 417.7 L605.9 419.2 L606.1 417.9 L606.3 418.9 L606.5 420.9 L606.7 421.7 L606.9 420.4 L607.1 420.8 L607.2 421.9 L607.4 421.5 L607.6 419.8 L607.8 422.5 L608.0 421.4 L608.2 422.8 L608.4 423.2 L608.6 422.6 L608.8 422.6 L609.0 419.9 L609.2 419.9 L609.3 419.2 L609.5 418.5 L609.7 418.9 L609.9 417.5 L610.1 418.1 L610.3 418.7 L610.5 419.9 L610.7 421.0 L610.9 420.2 L611.1 421.3 L611.3 421.8 L611.4 421.0 L611.6 422.0 L611.8 422.0 L612.0 420.6 L612.2 409.0 L612.4 402.8 L612.6 392.3 L612.8 384.1 L613.0 370.1 L613.2 357.2 L613.4 344.9 L613.5 343.3 L613.7 342.4 L613.9 341.4 L614.1 343.3 L614.3 346.1 L614.5 347.9 L614.7 349.1 L614.9 348.6 L615.1 344.8 L615.3 346.6 L615.4 346.3 L615.6 345.3 L615.8 353.8 L616.0 360.6 L616.2 370.8 L616.4 376.9 L616.6 384.9 L616.8 390.1 L617.0 397.6 L617.2 401.6 L617.4 402.1 L617.5 401.8 L617.7 404.7 L617.9 400.1 L618.1 399.2 L618.3 395.9 L618.5 397.2 L618.7 398.8 L618.9 401.8 L619.1 403.6 L619.3 404.7 L619.5 405.6 L619.6 408.2 L619.8 409.5 L620.0 409.2 L620.2 412.0 L620.4 409.1 L620.6 409.7 L620.8 408.4 L621.0 406.9 L621.2 407.2 L621.4 404.8 L621.6 402.5 L621.7 401.3 L621.9 399.2 L622.1 398.3 L622.3 394.8 L622.5 396.5 L622.7 399.4 L622.9 402.0 L623.1 402.1 L623.3 405.0 L623.5 405.3 L623.6 405.9 L623.8 408.5 L624.0 408.9 L624.2 411.0 L624.4 409.9 L624.6 412.0 L624.8 409.8 L625.0 410.1 L625.2 408.9 L625.4 407.8 L625.6 404.4 L625.7 405.0 L625.9 402.0 L626.1 401.3 L626.3 400.1 L626.5 399.8 L626.7 401.8 L626.9 403.3 L627.1 403.6 L627.3 407.2 L627.5 406.8 L627.7 408.1 L627.8 408.6 L628.0 410.4 L628.2 408.9 L628.4 410.3 L628.6 411.1 L628.8 410.3 L629.0 409.5 L629.2 409.1 L629.4 406.9 L629.6 407.5 L629.8 403.3 L629.9 404.7 L630.1 403.0 L630.3 401.8 L630.5 401.4 L630.7 405.0 L630.9 404.1 L631.1 404.4 L631.3 406.0 L631.5 406.0 L631.7 398.8 L631.8 388.3 L632.0 378.0 L632.2 367.8 L632.4 377.8 L632.6 387.8 L632.8 397.6 L633.0 406.4 L633.2 404.8 L633.4 402.4 L633.6 398.6 L633.8 398.6 L633.9 398.0 L634.1 392.9 L634.3 391.7 L634.5 388.1 L634.7 390.2 L634.9 392.3 L635.1 394.2 L635.3 397.8 L635.5 396.8 L635.7 401.2 L635.9 399.2 L636.0 401.3 L636.2 403.5 L636.4 402.1 L636.6 401.1 L636.8 400.7 L637.0 401.1 L637.2 400.3 L637.4 399.4 L637.6 390.4 L637.8 377.7 L638.0 365.0 L638.1 352.2 L638.3 365.0 L638.5 377.9 L638.7 390.6 L638.9 390.4 L639.1 393.0 L639.3 393.3 L639.5 397.3 L639.7 399.7 L639.9 400.6 L640.0 400.3 L640.2 391.8 L640.4 379.4 L640.6 366.9 L640.8 354.4 L641.0 366.9 L641.2 379.6 L641.4 392.2 L641.6 400.3 L641.8 400.2 L642.0 400.6 L642.1 400.0 L642.3 396.4 L642.5 395.0 L642.7 392.6 L642.9 390.6 L643.1 391.5 L643.3 393.9 L643.5 395.2 L643.7 397.4 L643.9 399.8 L644.1 400.4 L644.2 400.8 L644.4 403.1 L644.6 394.4 L644.8 382.4 L645.0 370.4 L645.2 358.4 L645.4 370.5 L645.6 382.6 L645.8 394.8 L646.0 405.0 L646.2 403.0 L646.3 400.0 L646.5 401.7 L646.7 398.9 L646.9 396.7 L647.1 394.3 L647.3 394.5 L647.5 397.8 L647.7 399.4 L647.9 399.8 L648.1 401.5 L648.2 404.6 L648.4 405.5 L648.6 405.4 L648.8 408.4 L649.0 406.8 L649.2 409.7 L649.4 408.8 L649.6 406.9 L649.8 406.4 L650.0 406.9 L650.2 403.7 L650.3 404.6 L650.5 402.6 L650.7 400.0 L650.9 399.8 L651.1 397.7 L651.3 398.3 L651.5 398.9 L651.7 401.1 L651.9 401.2 L652.1 402.7 L652.3 404.7 L652.4 404.8 L652.6 406.7 L652.8 406.3 L653.0 407.8 L653.2 409.3 L653.4 408.7 L653.6 409.2 L653.8 407.8 L654.0 409.6 L654.2 407.3 L654.4 407.7 L654.5 407.6 L654.7 405.4 L654.9 406.2 L655.1 404.8 L655.3 403.6 L655.5 401.9 L655.7 401.6 L655.9 398.0 L656.1 391.9 L656.3 385.8 L656.4 379.7 L656.6 373.6 L656.8 379.8 L657.0 385.9 L657.2 392.1 L657.4 398.2 L657.6 404.4 L657.8 410.8 L658.0 409.0 L658.2 409.1 L658.4 409.0 L658.5 407.9 L658.7 407.9 L658.9 403.3 L659.1 402.1 L659.3 399.8 L659.5 397.0 L659.7 396.3 L659.9 391.9 L660.1 397.6 L660.3 399.0 L660.5 401.8 L660.6 403.9 L660.8 403.9 L661.0 406.2 L661.2 407.8 L661.4 410.1 L661.6 410.3 L661.8 412.7 L662.0 411.3 L662.2 412.8 L662.4 411.5 L662.6 400.9 L662.7 389.9 L662.9 378.8 L663.1 367.8 L663.3 378.9 L663.5 390.0 L663.7 401.2 L663.9 399.7 L664.1 400.0 L664.3 401.7 L664.5 403.3 L664.6 404.3 L664.8 406.2 L665.0 411.0 L665.2 405.0 L665.4 399.8 L665.6 394.4 L665.8 388.1 L666.0 382.5 L666.2 377.8 L666.4 373.3 L666.6 367.3 L666.7 361.9 L666.9 357.1" fill="none" stroke="#35617f" stroke-width="1.45" stroke-linejoin="round" clip-path="url(#ce)"/>
<line x1="408.2" y1="421.2" x2="411.4" y2="421.2" stroke="#333" stroke-width="1.0"/>
<text x="405.79999999999995" y="423.698" font-size="6.8" text-anchor="end" fill="#333" font-weight="normal" font-family='"Liberation Sans", sans-serif' textLength="10.81" lengthAdjust="spacingAndGlyphs" stroke="#333" stroke-width="0.25">0.6</text>
<line x1="408.2" y1="405.2" x2="411.4" y2="405.2" stroke="#333" stroke-width="1.0"/>
<text x="405.79999999999995" y="407.64799999999997" font-size="6.8" text-anchor="end" fill="#333" font-weight="normal" font-family='"Liberation Sans", sans-serif' textLength="10.81" lengthAdjust="spacingAndGlyphs" stroke="#333" stroke-width="0.25">1.2</text>
<line x1="408.2" y1="389.2" x2="411.4" y2="389.2" stroke="#333" stroke-width="1.0"/>
<text x="405.79999999999995" y="391.598" font-size="6.8" text-anchor="end" fill="#333" font-weight="normal" font-family='"Liberation Sans", sans-serif' textLength="10.81" lengthAdjust="spacingAndGlyphs" stroke="#333" stroke-width="0.25">1.8</text>
<line x1="408.2" y1="373.1" x2="411.4" y2="373.1" stroke="#333" stroke-width="1.0"/>
<text x="405.79999999999995" y="375.548" font-size="6.8" text-anchor="end" fill="#333" font-weight="normal" font-family='"Liberation Sans", sans-serif' textLength="10.81" lengthAdjust="spacingAndGlyphs" stroke="#333" stroke-width="0.25">2.4</text>
<line x1="408.2" y1="357.1" x2="411.4" y2="357.1" stroke="#333" stroke-width="1.0"/>
<text x="405.79999999999995" y="359.498" font-size="6.8" text-anchor="end" fill="#333" font-weight="normal" font-family='"Liberation Sans", sans-serif' textLength="10.81" lengthAdjust="spacingAndGlyphs" stroke="#333" stroke-width="0.25">3.0</text>
<line x1="408.2" y1="341.0" x2="411.4" y2="341.0" stroke="#333" stroke-width="1.0"/>
<text x="405.79999999999995" y="343.448" font-size="6.8" text-anchor="end" fill="#333" font-weight="normal" font-family='"Liberation Sans", sans-serif' textLength="10.81" lengthAdjust="spacingAndGlyphs" stroke="#333" stroke-width="0.25">3.6</text>
<line x1="408.2" y1="324.9" x2="411.4" y2="324.9" stroke="#333" stroke-width="1.0"/>
<text x="405.79999999999995" y="327.39799999999997" font-size="6.8" text-anchor="end" fill="#333" font-weight="normal" font-family='"Liberation Sans", sans-serif' textLength="10.81" lengthAdjust="spacingAndGlyphs" stroke="#333" stroke-width="0.25">4.2</text>
<line x1="408.2" y1="308.9" x2="411.4" y2="308.9" stroke="#333" stroke-width="1.0"/>
<text x="405.79999999999995" y="311.34799999999996" font-size="6.8" text-anchor="end" fill="#333" font-weight="normal" font-family='"Liberation Sans", sans-serif' textLength="10.81" lengthAdjust="spacingAndGlyphs" stroke="#333" stroke-width="0.25">4.8</text>
<line x1="408.2" y1="292.9" x2="411.4" y2="292.9" stroke="#333" stroke-width="1.0"/>
<text x="405.79999999999995" y="295.298" font-size="6.8" text-anchor="end" fill="#333" font-weight="normal" font-family='"Liberation Sans", sans-serif' textLength="10.81" lengthAdjust="spacingAndGlyphs" stroke="#333" stroke-width="0.25">5.4</text>
<line x1="411.4" y1="437.3" x2="411.4" y2="440.3" stroke="#333" stroke-width="1.0"/>
<text x="411.4" y="445.74" font-size="6.8" text-anchor="middle" fill="#333" font-weight="normal" font-family='"Liberation Sans", sans-serif' textLength="4.32" lengthAdjust="spacingAndGlyphs" stroke="#333" stroke-width="0.25">0</text>
<line x1="449.8" y1="437.3" x2="449.8" y2="440.3" stroke="#333" stroke-width="1.0"/>
<text x="449.84" y="445.74" font-size="6.8" text-anchor="middle" fill="#333" font-weight="normal" font-family='"Liberation Sans", sans-serif' textLength="12.97" lengthAdjust="spacingAndGlyphs" stroke="#333" stroke-width="0.25">200</text>
<line x1="488.3" y1="437.3" x2="488.3" y2="440.3" stroke="#333" stroke-width="1.0"/>
<text x="488.28" y="445.74" font-size="6.8" text-anchor="middle" fill="#333" font-weight="normal" font-family='"Liberation Sans", sans-serif' textLength="12.97" lengthAdjust="spacingAndGlyphs" stroke="#333" stroke-width="0.25">400</text>
<line x1="526.7" y1="437.3" x2="526.7" y2="440.3" stroke="#333" stroke-width="1.0"/>
<text x="526.72" y="445.74" font-size="6.8" text-anchor="middle" fill="#333" font-weight="normal" font-family='"Liberation Sans", sans-serif' textLength="12.97" lengthAdjust="spacingAndGlyphs" stroke="#333" stroke-width="0.25">600</text>
<line x1="565.2" y1="437.3" x2="565.2" y2="440.3" stroke="#333" stroke-width="1.0"/>
<text x="565.16" y="445.74" font-size="6.8" text-anchor="middle" fill="#333" font-weight="normal" font-family='"Liberation Sans", sans-serif' textLength="12.97" lengthAdjust="spacingAndGlyphs" stroke="#333" stroke-width="0.25">800</text>
<line x1="603.6" y1="437.3" x2="603.6" y2="440.3" stroke="#333" stroke-width="1.0"/>
<text x="603.6" y="445.74" font-size="6.8" text-anchor="middle" fill="#333" font-weight="normal" font-family='"Liberation Sans", sans-serif' textLength="17.3" lengthAdjust="spacingAndGlyphs" stroke="#333" stroke-width="0.25">1000</text>
<line x1="642.0" y1="437.3" x2="642.0" y2="440.3" stroke="#333" stroke-width="1.0"/>
<text x="642.04" y="445.74" font-size="6.8" text-anchor="middle" fill="#333" font-weight="normal" font-family='"Liberation Sans", sans-serif' textLength="17.3" lengthAdjust="spacingAndGlyphs" stroke="#333" stroke-width="0.25">1200</text>
<text x="499" y="456.3" font-size="10.5" text-anchor="start" fill="#222" font-weight="normal" font-family='"Liberation Sans", sans-serif' textLength="82" lengthAdjust="spacingAndGlyphs" stroke="#222" stroke-width="0.35">Residue Index</text>
<text x="389.5" y="362.4" font-size="10.2" text-anchor="middle" fill="#222" font-weight="normal" font-family='"Liberation Sans", sans-serif' textLength="39" lengthAdjust="spacingAndGlyphs" transform="rotate(-90 389.5 362.4)" stroke="#222" stroke-width="0.35">RMSF (Å)</text>
<rect x="516.3" y="273.5" width="45.0" height="7.300000000000011" fill="#fff" stroke="#ddd" stroke-width="0.6" rx="1"/>
<rect x="516.9" y="274.84999999999997" width="12.899999999999977" height="4.6" fill="#35617f"/>
<text x="530" y="279.52599999999995" font-size="6.6" text-anchor="start" fill="#222" font-weight="normal" font-family='"Liberation Sans", sans-serif' textLength="30" lengthAdjust="spacingAndGlyphs" stroke="#222" stroke-width="0.12">C-alphas</text>
<clipPath id="cf"><rect x="409.1" y="530.5" width="258.19999999999993" height="151.60000000000002"/></clipPath>
<rect x="409.1" y="530.5" width="258.19999999999993" height="151.60000000000002" fill="none" stroke="#8a8a8a" stroke-width="1.3"/>
<path d="M409.1 605.7 L409.3 606.5 L409.5 594.6 L409.7 604.8 L409.9 606.1 L410.1 603.5 L410.3 590.3 L410.4 600.5 L410.6 599.2 L410.8 595.7 L411.0 580.0 L411.2 575.3 L411.4 557.9 L411.6 590.2 L411.8 568.4 L412.0 585.3 L412.2 594.8 L412.4 589.4 L412.6 575.8 L412.8 592.2 L413.0 596.2 L413.1 595.5 L413.3 585.7 L413.5 597.4 L413.7 598.9 L413.9 601.0 L414.1 590.8 L414.3 599.8 L414.5 602.3 L414.7 605.7 L414.9 598.3 L415.1 612.1 L415.3 615.3 L415.5 630.4 L415.6 639.3 L415.8 654.2 L416.0 642.2 L416.2 642.6 L416.4 629.9 L416.6 627.9 L416.8 617.6 L417.0 627.7 L417.2 628.0 L417.4 638.1 L417.6 640.5 L417.8 649.6 L418.0 636.2 L418.2 630.8 L418.3 614.2 L418.5 609.8 L418.7 594.8 L418.9 611.8 L419.1 619.3 L419.3 636.2 L419.5 642.7 L419.7 651.6 L419.9 649.5 L420.1 658.3 L420.3 659.5 L420.5 657.0 L420.7 642.8 L420.8 642.5 L421.0 629.8 L421.2 633.3 L421.4 625.0 L421.6 627.5 L421.8 618.1 L422.0 629.2 L422.2 631.5 L422.4 643.5 L422.6 644.2 L422.8 643.3 L423.0 631.5 L423.2 630.6 L423.4 619.3 L423.5 631.2 L423.7 634.7 L423.9 646.2 L424.1 647.5 L424.3 652.8 L424.5 646.0 L424.7 649.6 L424.9 644.2 L425.1 647.7 L425.3 643.5 L425.5 647.1 L425.7 643.5 L425.9 650.0 L426.0 645.1 L426.2 651.4 L426.4 647.4 L426.6 650.4 L426.8 646.4 L427.0 648.5 L427.2 643.8 L427.4 647.7 L427.6 643.6 L427.8 649.4 L428.0 642.7 L428.2 648.3 L428.4 643.6 L428.6 648.8 L428.7 643.7 L428.9 646.9 L429.1 641.8 L429.3 645.9 L429.5 637.5 L429.7 641.8 L429.9 636.3 L430.1 638.7 L430.3 633.4 L430.5 634.9 L430.7 630.8 L430.9 640.2 L431.1 639.3 L431.2 650.1 L431.4 650.0 L431.6 659.4 L431.8 655.3 L432.0 662.0 L432.2 656.1 L432.4 663.7 L432.6 659.6 L432.8 661.9 L433.0 655.9 L433.2 659.4 L433.4 650.6 L433.6 653.6 L433.8 650.5 L433.9 657.1 L434.1 654.3 L434.3 660.4 L434.5 656.8 L434.7 661.2 L434.9 652.9 L435.1 656.1 L435.3 650.2 L435.5 652.0 L435.7 649.6 L435.9 655.5 L436.1 655.1 L436.3 660.7 L436.4 659.6 L436.6 661.5 L436.8 652.7 L437.0 654.2 L437.2 648.1 L437.4 649.7 L437.6 646.0 L437.8 654.2 L438.0 650.1 L438.2 657.5 L438.4 654.2 L438.6 657.0 L438.8 650.3 L439.0 652.0 L439.1 645.9 L439.3 646.1 L439.5 644.3 L439.7 654.1 L439.9 651.2 L440.1 657.9 L440.3 656.0 L440.5 659.8 L440.7 653.0 L440.9 658.9 L441.1 652.0 L441.3 653.7 L441.5 647.2 L441.6 646.8 L441.8 638.1 L442.0 640.6 L442.2 621.6 L442.4 610.2 L442.6 591.4 L442.8 594.7 L443.0 588.3 L443.2 590.3 L443.4 587.5 L443.6 597.8 L443.8 575.5 L444.0 564.7 L444.2 545.2 L444.3 578.2 L444.5 600.3 L444.7 614.4 L444.9 621.0 L445.1 634.9 L445.3 631.3 L445.5 640.9 L445.7 638.3 L445.9 645.4 L446.1 642.2 L446.3 648.8 L446.5 644.7 L446.7 652.3 L446.8 645.2 L447.0 650.8 L447.2 643.2 L447.4 649.1 L447.6 642.8 L447.8 657.1 L448.0 656.3 L448.2 655.6 L448.4 652.6 L448.6 653.1 L448.8 650.8 L449.0 644.3 L449.2 637.8 L449.4 631.3 L449.5 624.8 L449.7 631.3 L449.9 637.9 L450.1 644.0 L450.3 646.5 L450.5 648.6 L450.7 651.6 L450.9 653.7 L451.1 653.6 L451.3 655.6 L451.5 656.8 L451.7 656.1 L451.9 656.8 L452.0 657.9 L452.2 656.2 L452.4 653.9 L452.6 652.4 L452.8 651.2 L453.0 648.2 L453.2 648.3 L453.4 644.6 L453.6 643.0 L453.8 639.1 L454.0 637.1 L454.2 640.9 L454.4 642.0 L454.6 646.8 L454.7 646.3 L454.9 649.4 L455.1 650.9 L455.3 653.3 L455.5 655.2 L455.7 655.3 L455.9 657.0 L456.1 659.1 L456.3 658.1 L456.5 656.1 L456.7 657.3 L456.9 656.5 L457.1 655.2 L457.2 654.4 L457.4 651.9 L457.6 650.9 L457.8 648.7 L458.0 647.8 L458.2 644.4 L458.4 646.6 L458.6 647.8 L458.8 649.6 L459.0 651.6 L459.2 653.6 L459.4 656.0 L459.6 656.9 L459.8 656.7 L459.9 658.2 L460.1 657.9 L460.3 658.9 L460.5 658.0 L460.7 657.3 L460.9 655.8 L461.1 655.6 L461.3 653.5 L461.5 654.0 L461.7 652.0 L461.9 649.3 L462.1 648.1 L462.3 645.7 L462.5 648.6 L462.6 648.8 L462.8 652.2 L463.0 651.5 L463.2 654.4 L463.4 655.5 L463.6 655.9 L463.8 657.1 L464.0 658.4 L464.2 658.7 L464.4 657.6 L464.6 659.0 L464.8 656.2 L465.0 656.5 L465.1 655.6 L465.3 652.2 L465.5 650.2 L465.7 648.6 L465.9 645.0 L466.1 642.7 L466.3 640.6 L466.5 639.3 L466.7 642.3 L466.9 645.4 L467.1 646.5 L467.3 649.1 L467.5 650.1 L467.7 650.4 L467.8 656.0 L468.0 656.2 L468.2 657.7 L468.4 659.6 L468.6 658.7 L468.8 660.7 L469.0 659.0 L469.2 656.7 L469.4 657.1 L469.6 655.5 L469.8 653.8 L470.0 653.0 L470.2 651.2 L470.3 648.5 L470.5 647.0 L470.7 647.6 L470.9 648.3 L471.1 651.4 L471.3 652.2 L471.5 654.0 L471.7 656.3 L471.9 657.3 L472.1 657.2 L472.3 659.5 L472.5 659.1 L472.7 659.1 L472.9 660.1 L473.0 659.9 L473.2 656.9 L473.4 655.4 L473.6 655.2 L473.8 652.8 L474.0 651.7 L474.2 650.6 L474.4 647.7 L474.6 644.7 L474.8 645.0 L475.0 645.0 L475.2 646.9 L475.4 649.4 L475.5 651.9 L475.7 653.7 L475.9 656.8 L476.1 656.4 L476.3 659.8 L476.5 658.6 L476.7 659.6 L476.9 660.3 L477.1 659.3 L477.3 658.4 L477.5 658.5 L477.7 658.1 L477.9 655.4 L478.1 655.0 L478.2 653.1 L478.4 652.9 L478.6 649.2 L478.8 648.2 L479.0 649.7 L479.2 651.8 L479.4 651.7 L479.6 653.4 L479.8 655.4 L480.0 656.9 L480.2 657.4 L480.4 658.1 L480.6 658.8 L480.7 658.6 L480.9 659.1 L481.1 662.1 L481.3 659.4 L481.5 658.4 L481.7 660.1 L481.9 658.4 L482.1 657.3 L482.3 655.2 L482.5 654.5 L482.7 653.3 L482.9 652.0 L483.1 650.1 L483.3 652.0 L483.4 654.3 L483.6 655.5 L483.8 656.5 L484.0 655.6 L484.2 657.6 L484.4 658.2 L484.6 658.3 L484.8 659.8 L485.0 662.1 L485.2 660.6 L485.4 661.0 L485.6 660.5 L485.8 660.0 L485.9 658.9 L486.1 658.5 L486.3 655.6 L486.5 654.5 L486.7 653.2 L486.9 651.9 L487.1 651.0 L487.3 648.6 L487.5 651.5 L487.7 653.9 L487.9 654.2 L488.1 654.7 L488.3 648.3 L488.5 641.9 L488.6 635.5 L488.8 641.9 L489.0 648.3 L489.2 654.7 L489.4 661.8 L489.6 659.5 L489.8 659.7 L490.0 658.4 L490.2 658.4 L490.4 657.4 L490.6 653.4 L490.8 652.4 L491.0 651.4 L491.1 649.5 L491.3 647.5 L491.5 648.1 L491.7 652.1 L491.9 651.8 L492.1 654.1 L492.3 654.9 L492.5 656.9 L492.7 657.9 L492.9 659.3 L493.1 660.1 L493.3 661.5 L493.5 660.4 L493.7 661.8 L493.8 660.7 L494.0 659.3 L494.2 656.3 L494.4 657.7 L494.6 655.2 L494.8 653.4 L495.0 653.5 L495.2 648.5 L495.4 647.8 L495.6 648.7 L495.8 651.1 L496.0 651.9 L496.2 655.8 L496.3 654.4 L496.5 657.1 L496.7 657.5 L496.9 660.3 L497.1 660.9 L497.3 663.0 L497.5 661.6 L497.7 661.1 L497.9 660.7 L498.1 658.1 L498.3 658.0 L498.5 656.4 L498.7 655.6 L498.9 652.5 L499.0 651.5 L499.2 649.2 L499.4 647.9 L499.6 644.0 L499.8 646.0 L500.0 649.8 L500.2 651.8 L500.4 654.8 L500.6 655.2 L500.8 657.0 L501.0 659.5 L501.2 659.6 L501.4 662.4 L501.5 661.6 L501.7 662.3 L501.9 661.0 L502.1 660.4 L502.3 660.8 L502.5 659.8 L502.7 658.3 L502.9 657.2 L503.1 655.6 L503.3 653.9 L503.5 653.0 L503.7 649.4 L503.9 650.4 L504.1 652.7 L504.2 652.9 L504.4 654.7 L504.6 655.7 L504.8 657.0 L505.0 659.7 L505.2 660.1 L505.4 660.8 L505.6 662.5 L505.8 661.3 L506.0 662.2 L506.2 660.5 L506.4 659.6 L506.6 659.5 L506.7 659.2 L506.9 656.0 L507.1 655.5 L507.3 653.0 L507.5 652.9 L507.7 648.1 L507.9 647.7 L508.1 649.1 L508.3 651.4 L508.5 652.1 L508.7 653.5 L508.9 657.0 L509.1 658.0 L509.3 658.8 L509.4 659.6 L509.6 662.7 L509.8 661.6 L510.0 662.9 L510.2 660.2 L510.4 660.0 L510.6 660.0 L510.8 658.7 L511.0 655.3 L511.2 653.3 L511.4 652.8 L511.6 651.3 L511.8 648.7 L511.9 647.6 L512.1 647.3 L512.3 649.7 L512.5 651.9 L512.7 653.7 L512.9 655.8 L513.1 657.3 L513.3 659.6 L513.5 661.5 L513.7 660.6 L513.9 661.7 L514.1 660.9 L514.3 661.5 L514.5 662.7 L514.6 658.3 L514.8 658.3 L515.0 653.8 L515.2 649.8 L515.4 648.6 L515.6 643.6 L515.8 630.5 L516.0 616.0 L516.2 602.8 L516.4 588.3 L516.6 588.3 L516.8 589.2 L517.0 590.4 L517.1 592.3 L517.3 586.7 L517.5 578.3 L517.7 568.8 L517.9 565.3 L518.1 568.0 L518.3 570.5 L518.5 575.4 L518.7 578.6 L518.9 575.5 L519.1 575.9 L519.3 571.9 L519.5 582.4 L519.7 595.4 L519.8 608.4 L520.0 620.1 L520.2 629.2 L520.4 639.1 L520.6 648.5 L520.8 656.6 L521.0 658.7 L521.2 661.2 L521.4 661.6 L521.6 665.7 L521.8 660.1 L522.0 664.3 L522.2 663.8 L522.3 664.9 L522.5 665.8 L522.7 665.8 L522.9 665.0 L523.1 664.8 L523.3 663.5 L523.5 662.7 L523.7 661.3 L523.9 660.3 L524.1 658.9 L524.3 656.8 L524.5 655.1 L524.7 652.9 L524.9 653.4 L525.0 656.2 L525.2 656.5 L525.4 659.1 L525.6 660.8 L525.8 661.0 L526.0 662.9 L526.2 663.4 L526.4 663.2 L526.6 663.7 L526.8 665.3 L527.0 665.1 L527.2 664.5 L527.4 663.5 L527.5 664.7 L527.7 663.8 L527.9 660.5 L528.1 661.0 L528.3 660.5 L528.5 657.5 L528.7 656.8 L528.9 653.3 L529.1 652.3 L529.3 654.9 L529.5 657.0 L529.7 658.3 L529.9 660.3 L530.1 661.4 L530.2 662.5 L530.4 664.1 L530.6 664.9 L530.8 665.6 L531.0 664.4 L531.2 665.4 L531.4 665.8 L531.6 663.5 L531.8 663.6 L532.0 663.0 L532.2 663.3 L532.4 660.7 L532.6 659.7 L532.7 657.1 L532.9 655.5 L533.1 656.5 L533.3 658.1 L533.5 660.4 L533.7 662.4 L533.9 661.6 L534.1 663.4 L534.3 664.6 L534.5 665.5 L534.7 665.9 L534.9 663.5 L535.1 665.8 L535.3 664.5 L535.4 664.4 L535.6 664.0 L535.8 660.9 L536.0 659.0 L536.2 657.3 L536.4 656.2 L536.6 654.5 L536.8 651.3 L537.0 649.2 L537.2 650.7 L537.4 653.2 L537.6 654.0 L537.8 657.5 L537.9 658.7 L538.1 661.9 L538.3 661.7 L538.5 664.1 L538.7 663.7 L538.9 666.0 L539.1 664.9 L539.3 665.3 L539.5 664.3 L539.7 663.0 L539.9 658.9 L540.1 660.0 L540.3 659.5 L540.5 655.5 L540.6 653.9 L540.8 652.7 L541.0 648.8 L541.2 652.9 L541.4 655.1 L541.6 657.9 L541.8 658.6 L542.0 660.8 L542.2 661.5 L542.4 661.8 L542.6 665.1 L542.8 665.0 L543.0 665.3 L543.1 664.5 L543.3 664.9 L543.5 664.8 L543.7 663.1 L543.9 663.3 L544.1 662.2 L544.3 660.7 L544.5 660.2 L544.7 658.3 L544.9 657.5 L545.1 657.8 L545.3 656.3 L545.5 657.8 L545.7 659.7 L545.8 660.1 L546.0 660.5 L546.2 661.5 L546.4 662.1 L546.6 664.0 L546.8 664.3 L547.0 664.1 L547.2 665.7 L547.4 665.7 L547.6 664.0 L547.8 664.7 L548.0 662.9 L548.2 659.8 L548.3 659.4 L548.5 656.8 L548.7 650.7 L548.9 644.2 L549.1 637.8 L549.3 644.0 L549.5 644.1 L549.7 644.2 L549.9 646.9 L550.1 648.8 L550.3 650.1 L550.5 653.5 L550.7 655.3 L550.9 657.9 L551.0 659.5 L551.2 660.3 L551.4 660.7 L551.6 663.2 L551.8 661.4 L552.0 659.6 L552.2 659.1 L552.4 656.3 L552.6 655.7 L552.8 653.2 L553.0 650.7 L553.2 649.5 L553.4 646.3 L553.5 643.3 L553.7 644.1 L553.9 646.1 L554.1 649.5 L554.3 651.5 L554.5 654.3 L554.7 656.2 L554.9 657.0 L555.1 658.6 L555.3 660.3 L555.5 661.3 L555.7 662.5 L555.9 661.7 L556.1 659.9 L556.2 658.9 L556.4 660.4 L556.6 656.7 L556.8 654.5 L557.0 649.1 L557.2 642.6 L557.4 636.0 L557.6 642.6 L557.8 643.5 L558.0 644.3 L558.2 647.4 L558.4 651.1 L558.6 651.4 L558.8 652.9 L558.9 656.2 L559.1 658.5 L559.3 658.5 L559.5 661.0 L559.7 661.4 L559.9 661.7 L560.1 662.7 L560.3 661.6 L560.5 660.9 L560.7 660.7 L560.9 661.4 L561.1 659.6 L561.3 657.9 L561.4 658.0 L561.6 657.1 L561.8 654.3 L562.0 652.5 L562.2 654.1 L562.4 654.0 L562.6 655.7 L562.8 649.7 L563.0 643.5 L563.2 637.3 L563.4 643.5 L563.6 649.7 L563.8 656.0 L564.0 662.5 L564.1 662.8 L564.3 660.5 L564.5 661.9 L564.7 659.3 L564.9 659.1 L565.1 657.9 L565.3 656.4 L565.5 653.5 L565.7 646.6 L565.9 638.8 L566.1 631.1 L566.3 638.8 L566.5 646.6 L566.6 649.8 L566.8 652.2 L567.0 654.7 L567.2 655.5 L567.4 659.3 L567.6 660.1 L567.8 660.8 L568.0 660.1 L568.2 661.9 L568.4 662.2 L568.6 660.6 L568.8 660.1 L569.0 658.9 L569.2 655.7 L569.3 654.9 L569.5 652.9 L569.7 651.4 L569.9 647.8 L570.1 647.0 L570.3 643.1 L570.5 641.9 L570.7 644.1 L570.9 640.6 L571.1 629.8 L571.3 619.0 L571.5 608.1 L571.7 619.0 L571.8 629.8 L572.0 640.6 L572.2 651.4 L572.4 662.4 L572.6 663.6 L572.8 661.8 L573.0 662.4 L573.2 661.6 L573.4 659.4 L573.6 658.6 L573.8 656.6 L574.0 656.7 L574.2 655.3 L574.4 652.6 L574.5 649.7 L574.7 647.9 L574.9 649.6 L575.1 650.7 L575.3 652.0 L575.5 653.3 L575.7 656.0 L575.9 658.2 L576.1 659.3 L576.3 658.6 L576.5 660.4 L576.7 663.4 L576.9 663.8 L577.0 661.7 L577.2 662.2 L577.4 660.6 L577.6 660.2 L577.8 653.7 L578.0 645.2 L578.2 636.8 L578.4 628.3 L578.6 619.9 L578.8 611.4 L579.0 619.9 L579.2 628.3 L579.4 636.8 L579.6 645.2 L579.7 653.3 L579.9 656.1 L580.1 655.9 L580.3 658.7 L580.5 660.3 L580.7 660.1 L580.9 660.9 L581.1 660.8 L581.3 659.7 L581.5 662.1 L581.7 660.5 L581.9 661.4 L582.1 659.7 L582.2 660.0 L582.4 656.1 L582.6 656.1 L582.8 654.9 L583.0 652.2 L583.2 647.2 L583.4 642.3 L583.6 647.4 L583.8 652.8 L584.0 658.4 L584.2 660.4 L584.4 662.3 L584.6 664.0 L584.8 664.3 L584.9 666.2 L585.1 666.0 L585.3 665.6 L585.5 665.7 L585.7 666.3 L585.9 666.4 L586.1 664.5 L586.3 664.1 L586.5 662.7 L586.7 664.0 L586.9 663.1 L587.1 663.0 L587.3 661.9 L587.4 660.8 L587.6 661.1 L587.8 661.5 L588.0 662.5 L588.2 663.4 L588.4 663.3 L588.6 665.0 L588.8 664.5 L589.0 665.3 L589.2 664.4 L589.4 665.0 L589.6 665.1 L589.8 665.8 L590.0 666.2 L590.1 665.6 L590.3 664.9 L590.5 663.6 L590.7 663.0 L590.9 662.0 L591.1 660.6 L591.3 659.6 L591.5 658.7 L591.7 658.3 L591.9 658.8 L592.1 661.1 L592.3 661.6 L592.5 662.9 L592.6 663.2 L592.8 665.5 L593.0 659.1 L593.2 652.0 L593.4 644.9 L593.6 637.8 L593.8 644.9 L594.0 652.0 L594.2 659.1 L594.4 664.4 L594.6 665.6 L594.8 665.7 L595.0 664.9 L595.2 662.6 L595.3 663.5 L595.5 662.3 L595.7 660.7 L595.9 661.6 L596.1 661.7 L596.3 662.0 L596.5 662.8 L596.7 663.2 L596.9 664.3 L597.1 665.1 L597.3 665.6 L597.5 666.4 L597.7 665.3 L597.8 666.1 L598.0 666.6 L598.2 664.4 L598.4 666.7 L598.6 666.3 L598.8 665.9 L599.0 665.2 L599.2 663.7 L599.4 663.2 L599.6 663.6 L599.8 661.6 L600.0 659.4 L600.2 659.6 L600.4 660.1 L600.5 661.4 L600.7 663.2 L600.9 661.6 L601.1 663.5 L601.3 663.0 L601.5 664.5 L601.7 664.5 L601.9 665.8 L602.1 666.1 L602.3 667.6 L602.5 665.1 L602.7 664.8 L602.9 665.5 L603.0 664.6 L603.2 663.9 L603.4 663.3 L603.6 662.5 L603.8 661.0 L604.0 661.0 L604.2 659.5 L604.4 659.4 L604.6 661.7 L604.8 661.7 L605.0 662.9 L605.2 663.3 L605.4 664.4 L605.6 665.6 L605.7 664.9 L605.9 667.2 L606.1 667.8 L606.3 665.5 L606.5 666.1 L606.7 667.1 L606.9 666.8 L607.1 665.5 L607.3 666.0 L607.5 663.3 L607.7 664.8 L607.9 663.6 L608.1 662.5 L608.2 661.2 L608.4 662.3 L608.6 663.0 L608.8 661.7 L609.0 662.1 L609.2 663.9 L609.4 665.1 L609.6 664.1 L609.8 663.9 L610.0 665.6 L610.2 667.4 L610.4 666.9 L610.6 666.5 L610.8 667.5 L610.9 665.9 L611.1 665.9 L611.3 662.4 L611.5 652.9 L611.7 647.4 L611.9 638.0 L612.1 633.2 L612.3 621.1 L612.5 611.1 L612.7 600.8 L612.9 602.5 L613.1 604.2 L613.3 605.4 L613.4 607.7 L613.6 599.2 L613.8 590.9 L614.0 582.1 L614.2 571.4 L614.4 562.3 L614.6 576.7 L614.8 592.4 L615.0 604.6 L615.2 619.8 L615.4 620.9 L615.6 625.5 L615.8 629.4 L616.0 631.8 L616.1 629.1 L616.3 624.5 L616.5 619.3 L616.7 625.0 L616.9 630.9 L617.1 636.2 L617.3 640.7 L617.5 646.3 L617.7 646.1 L617.9 649.0 L618.1 648.9 L618.3 649.3 L618.5 649.0 L618.6 654.4 L618.8 655.6 L619.0 653.8 L619.2 653.8 L619.4 651.7 L619.6 654.2 L619.8 650.1 L620.0 652.3 L620.2 651.2 L620.4 649.4 L620.6 647.7 L620.8 645.9 L621.0 645.2 L621.2 646.6 L621.3 647.9 L621.5 650.0 L621.7 649.2 L621.9 650.8 L622.1 652.8 L622.3 653.4 L622.5 651.4 L622.7 644.8 L622.9 636.5 L623.1 628.1 L623.3 619.9 L623.5 628.1 L623.7 636.3 L623.8 644.5 L624.0 648.2 L624.2 648.0 L624.4 647.3 L624.6 643.9 L624.8 643.9 L625.0 641.2 L625.2 642.5 L625.4 644.0 L625.6 645.7 L625.8 645.8 L626.0 648.7 L626.2 648.6 L626.4 650.4 L626.5 647.9 L626.7 650.7 L626.9 651.1 L627.1 652.8 L627.3 652.5 L627.5 652.0 L627.7 650.7 L627.9 648.1 L628.1 647.5 L628.3 646.8 L628.5 645.5 L628.7 644.3 L628.9 641.6 L629.0 640.2 L629.2 639.8 L629.4 641.8 L629.6 636.8 L629.8 622.7 L630.0 608.7 L630.2 594.7 L630.4 608.7 L630.6 622.6 L630.8 636.5 L631.0 650.0 L631.2 648.9 L631.4 650.8 L631.6 650.2 L631.7 648.4 L631.9 648.9 L632.1 648.2 L632.3 647.0 L632.5 646.1 L632.7 644.9 L632.9 643.1 L633.1 641.1 L633.3 641.2 L633.5 638.6 L633.7 642.1 L633.9 641.9 L634.1 643.7 L634.2 643.9 L634.4 644.4 L634.6 645.7 L634.8 647.2 L635.0 647.9 L635.2 647.9 L635.4 649.6 L635.6 649.7 L635.8 648.8 L636.0 649.2 L636.2 646.6 L636.4 645.1 L636.6 645.9 L636.8 645.8 L636.9 644.6 L637.1 644.5 L637.3 642.3 L637.5 639.4 L637.7 640.3 L637.9 641.7 L638.1 642.5 L638.3 644.9 L638.5 645.2 L638.7 644.8 L638.9 627.2 L639.1 606.7 L639.3 586.3 L639.4 565.8 L639.6 586.2 L639.8 606.6 L640.0 626.9 L640.2 643.8 L640.4 644.6 L640.6 642.7 L640.8 639.6 L641.0 632.1 L641.2 624.5 L641.4 616.9 L641.6 624.5 L641.8 632.0 L642.0 630.3 L642.1 635.7 L642.3 636.3 L642.5 636.9 L642.7 641.0 L642.9 641.7 L643.1 641.4 L643.3 643.1 L643.5 646.0 L643.7 646.8 L643.9 646.7 L644.1 648.3 L644.3 647.5 L644.5 646.8 L644.6 644.5 L644.8 644.7 L645.0 641.6 L645.2 641.3 L645.4 640.0 L645.6 637.4 L645.8 637.0 L646.0 633.8 L646.2 634.9 L646.4 637.0 L646.6 637.4 L646.8 639.3 L647.0 640.5 L647.2 643.2 L647.3 645.3 L647.5 645.6 L647.7 645.3 L647.9 645.7 L648.1 647.4 L648.3 648.1 L648.5 647.3 L648.7 647.6 L648.9 645.7 L649.1 645.4 L649.3 644.8 L649.5 643.7 L649.7 640.2 L649.9 640.3 L650.0 638.0 L650.2 636.0 L650.4 637.2 L650.6 639.1 L650.8 642.1 L651.0 642.6 L651.2 644.1 L651.4 636.1 L651.6 629.9 L651.8 623.8 L652.0 614.1 L652.2 605.1 L652.4 606.4 L652.5 603.0 L652.7 599.4 L652.9 594.1 L653.1 587.0 L653.3 595.1 L653.5 601.7 L653.7 607.4 L653.9 606.3 L654.1 603.4 L654.3 598.8 L654.5 598.1 L654.7 596.5 L654.9 598.7 L655.1 602.0 L655.2 600.6 L655.4 606.6 L655.6 612.7 L655.8 614.5 L656.0 621.5 L656.2 626.6 L656.4 628.0 L656.6 631.2 L656.8 633.3 L657.0 637.8 L657.2 640.6 L657.4 640.7 L657.6 642.0 L657.7 646.6 L657.9 647.0 L658.1 648.9 L658.3 650.9 L658.5 655.3 L658.7 657.3 L658.9 654.1 L659.1 653.1 L659.3 650.7 L659.5 649.8 L659.7 647.5 L659.9 650.1 L660.1 649.1 L660.3 650.8 L660.4 651.6 L660.6 654.2 L660.8 652.9 L661.0 652.3 L661.2 652.9 L661.4 638.6 L661.6 623.8 L661.8 608.9 L662.0 594.0 L662.2 609.0 L662.4 624.0 L662.6 639.1 L662.8 639.4 L662.9 639.7 L663.1 643.3 L663.3 644.6 L663.5 649.0 L663.7 649.8 L663.9 650.5 L664.1 652.1 L664.3 651.9 L664.5 653.4 L664.7 655.4 L664.9 656.5 L665.1 656.4 L665.3 655.5 L665.5 654.7 L665.6 653.5 L665.8 653.0 L666.0 652.0 L666.2 649.9 L666.4 648.1 L666.6 647.3 L666.8 645.3 L667.0 644.9 L667.2 645.5" fill="none" stroke="#35617f" stroke-width="1.45" stroke-linejoin="round" clip-path="url(#cf)"/>
<line x1="405.90000000000003" y1="662.2" x2="409.1" y2="662.2" stroke="#333" stroke-width="1.0"/>
<text x="404.3" y="664.7" font-size="7.0" text-anchor="end" fill="#333" font-weight="normal" font-family='"Liberation Sans", sans-serif' textLength="11.13" lengthAdjust="spacingAndGlyphs" stroke="#333" stroke-width="0.25">0.8</text>
<line x1="405.90000000000003" y1="642.3" x2="409.1" y2="642.3" stroke="#333" stroke-width="1.0"/>
<text x="404.3" y="644.78" font-size="7.0" text-anchor="end" fill="#333" font-weight="normal" font-family='"Liberation Sans", sans-serif' textLength="11.13" lengthAdjust="spacingAndGlyphs" stroke="#333" stroke-width="0.25">1.6</text>
<line x1="405.90000000000003" y1="622.3" x2="409.1" y2="622.3" stroke="#333" stroke-width="1.0"/>
<text x="404.3" y="624.86" font-size="7.0" text-anchor="end" fill="#333" font-weight="normal" font-family='"Liberation Sans", sans-serif' textLength="11.13" lengthAdjust="spacingAndGlyphs" stroke="#333" stroke-width="0.25">2.4</text>
<line x1="405.90000000000003" y1="602.4" x2="409.1" y2="602.4" stroke="#333" stroke-width="1.0"/>
<text x="404.3" y="604.94" font-size="7.0" text-anchor="end" fill="#333" font-weight="normal" font-family='"Liberation Sans", sans-serif' textLength="11.13" lengthAdjust="spacingAndGlyphs" stroke="#333" stroke-width="0.25">3.2</text>
<line x1="405.90000000000003" y1="582.5" x2="409.1" y2="582.5" stroke="#333" stroke-width="1.0"/>
<text x="404.3" y="585.02" font-size="7.0" text-anchor="end" fill="#333" font-weight="normal" font-family='"Liberation Sans", sans-serif' textLength="11.13" lengthAdjust="spacingAndGlyphs" stroke="#333" stroke-width="0.25">4.0</text>
<line x1="405.90000000000003" y1="562.6" x2="409.1" y2="562.6" stroke="#333" stroke-width="1.0"/>
<text x="404.3" y="565.1" font-size="7.0" text-anchor="end" fill="#333" font-weight="normal" font-family='"Liberation Sans", sans-serif' textLength="11.13" lengthAdjust="spacingAndGlyphs" stroke="#333" stroke-width="0.25">4.8</text>
<line x1="405.90000000000003" y1="542.7" x2="409.1" y2="542.7" stroke="#333" stroke-width="1.0"/>
<text x="404.3" y="545.1800000000001" font-size="7.0" text-anchor="end" fill="#333" font-weight="normal" font-family='"Liberation Sans", sans-serif' textLength="11.13" lengthAdjust="spacingAndGlyphs" stroke="#333" stroke-width="0.25">5.6</text>
<line x1="409.1" y1="682.1" x2="409.1" y2="685.1" stroke="#333" stroke-width="1.0"/>
<text x="409.1" y="690.7" font-size="7.0" text-anchor="middle" fill="#333" font-weight="normal" font-family='"Liberation Sans", sans-serif' textLength="4.45" lengthAdjust="spacingAndGlyphs" stroke="#333" stroke-width="0.25">0</text>
<line x1="447.7" y1="682.1" x2="447.7" y2="685.1" stroke="#333" stroke-width="1.0"/>
<text x="447.74" y="690.7" font-size="7.0" text-anchor="middle" fill="#333" font-weight="normal" font-family='"Liberation Sans", sans-serif' textLength="13.36" lengthAdjust="spacingAndGlyphs" stroke="#333" stroke-width="0.25">200</text>
<line x1="486.4" y1="682.1" x2="486.4" y2="685.1" stroke="#333" stroke-width="1.0"/>
<text x="486.38" y="690.7" font-size="7.0" text-anchor="middle" fill="#333" font-weight="normal" font-family='"Liberation Sans", sans-serif' textLength="13.36" lengthAdjust="spacingAndGlyphs" stroke="#333" stroke-width="0.25">400</text>
<line x1="525.0" y1="682.1" x2="525.0" y2="685.1" stroke="#333" stroke-width="1.0"/>
<text x="525.02" y="690.7" font-size="7.0" text-anchor="middle" fill="#333" font-weight="normal" font-family='"Liberation Sans", sans-serif' textLength="13.36" lengthAdjust="spacingAndGlyphs" stroke="#333" stroke-width="0.25">600</text>
<line x1="563.7" y1="682.1" x2="563.7" y2="685.1" stroke="#333" stroke-width="1.0"/>
<text x="563.6600000000001" y="690.7" font-size="7.0" text-anchor="middle" fill="#333" font-weight="normal" font-family='"Liberation Sans", sans-serif' textLength="13.36" lengthAdjust="spacingAndGlyphs" stroke="#333" stroke-width="0.25">800</text>
<line x1="602.3" y1="682.1" x2="602.3" y2="685.1" stroke="#333" stroke-width="1.0"/>
<text x="602.3000000000001" y="690.7" font-size="7.0" text-anchor="middle" fill="#333" font-weight="normal" font-family='"Liberation Sans", sans-serif' textLength="17.81" lengthAdjust="spacingAndGlyphs" stroke="#333" stroke-width="0.25">1000</text>
<line x1="640.9" y1="682.1" x2="640.9" y2="685.1" stroke="#333" stroke-width="1.0"/>
<text x="640.94" y="690.7" font-size="7.0" text-anchor="middle" fill="#333" font-weight="normal" font-family='"Liberation Sans", sans-serif' textLength="17.81" lengthAdjust="spacingAndGlyphs" stroke="#333" stroke-width="0.25">1200</text>
<text x="497.7" y="701" font-size="10.5" text-anchor="start" fill="#222" font-weight="normal" font-family='"Liberation Sans", sans-serif' textLength="80.5" lengthAdjust="spacingAndGlyphs" stroke="#222" stroke-width="0.35">Residue Index</text>
<text x="386.6" y="606" font-size="10.2" text-anchor="middle" fill="#222" font-weight="normal" font-family='"Liberation Sans", sans-serif' textLength="39" lengthAdjust="spacingAndGlyphs" transform="rotate(-90 386.6 606)" stroke="#222" stroke-width="0.35">RMSF (Å)</text>
<rect x="514.6" y="515.7" width="45.60000000000002" height="7.5" fill="#fff" stroke="#ddd" stroke-width="0.6" rx="1"/>
<rect x="515.2" y="517.1500000000001" width="13.299999999999955" height="4.6" fill="#35617f"/>
<text x="528.8" y="521.826" font-size="6.6" text-anchor="start" fill="#222" font-weight="normal" font-family='"Liberation Sans", sans-serif' textLength="30.5" lengthAdjust="spacingAndGlyphs" stroke="#222" stroke-width="0.12">C-alphas</text>
<rect x="1.5" y="0" width="682.5" height="1.5" fill="#a3b2d1"/>
<rect x="1" y="243" width="683" height="1.25" fill="#7088ba"/>
<rect x="1" y="486" width="683" height="1.25" fill="#7088ba"/>
<rect x="1" y="729" width="683" height="1.1" fill="#7088ba"/>
<rect x="1" y="0.5" width="1.2" height="729.5" fill="#7890bf"/>
<rect x="343.8" y="0" width="1.25" height="730" fill="#7088ba"/>
<rect x="683" y="0" width="1.25" height="730" fill="#7088ba"/></g></svg></body></html>
